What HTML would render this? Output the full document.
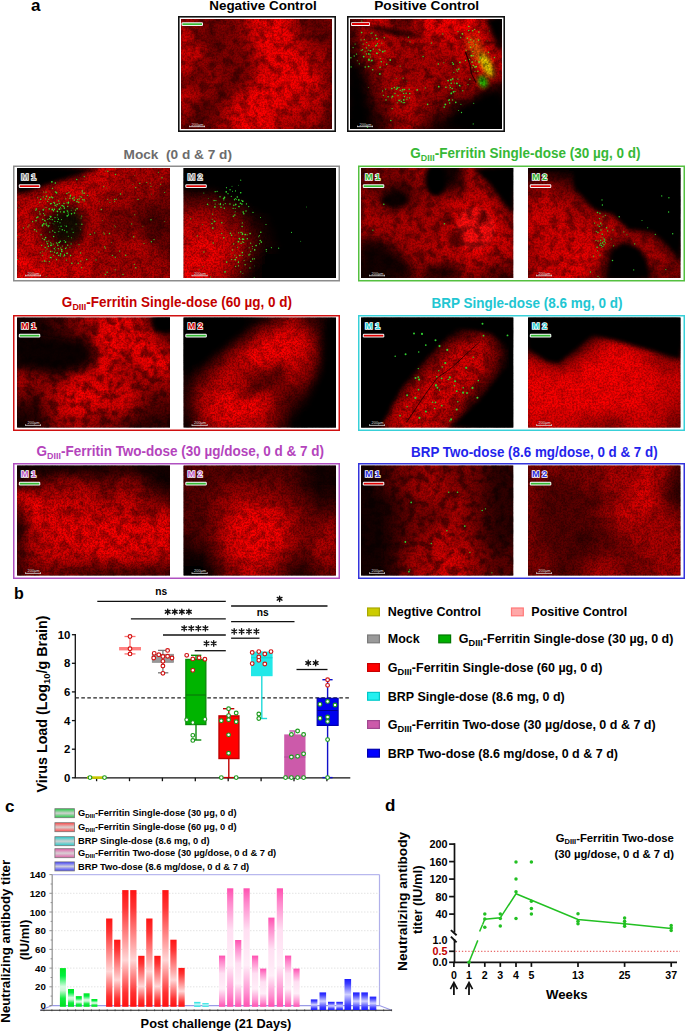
<!DOCTYPE html>
<html><head><meta charset="utf-8"><title>Figure</title>
<style>
html,body{margin:0;padding:0;background:#fff;}
svg{display:block;}
text{font-family:"Liberation Sans", sans-serif;}
</style></head><body>
<svg width="685" height="1032" viewBox="0 0 685 1032">
<defs>
<filter id="bl1" x="-20%" y="-20%" width="140%" height="140%"><feGaussianBlur stdDeviation="0.7"/></filter>
<filter id="bl2" x="-20%" y="-20%" width="140%" height="140%"><feGaussianBlur stdDeviation="2"/></filter>
<filter id="bl4" x="-30%" y="-30%" width="160%" height="160%"><feGaussianBlur stdDeviation="4"/></filter>
<filter id="bl7" x="-40%" y="-40%" width="180%" height="180%"><feGaussianBlur stdDeviation="7"/></filter>
<filter id="bl10" x="-50%" y="-50%" width="200%" height="200%"><feGaussianBlur stdDeviation="10"/></filter>
<filter id="noise" x="0" y="0" width="100%" height="100%">
 <feTurbulence type="fractalNoise" baseFrequency="0.12" numOctaves="4" seed="3" result="n"/>
 <feColorMatrix in="n" type="matrix" values="0 0 0 0 0  0 0 0 0 0  0 0 0 0 0  0 0 0 -3.5 2.0"/>
</filter>
<filter id="noise2" x="0" y="0" width="100%" height="100%">
 <feTurbulence type="fractalNoise" baseFrequency="0.55" numOctaves="2" seed="7" result="n"/>
 <feColorMatrix in="n" type="matrix" values="0 0 0 0 0  0 0 0 0 0  0 0 0 0 0  0 0 0 -3.0 1.9"/>
</filter>
</defs>
<rect x="0" y="0" width="685" height="1032" fill="#fff"/>

<text x="31" y="11" font-size="17" font-weight="bold" fill="#000" text-anchor="start" >a</text>
<text x="14" y="598.5" font-size="16" font-weight="bold" fill="#000" text-anchor="start" >b</text>
<text x="5" y="812" font-size="17" font-weight="bold" fill="#000" text-anchor="start" >c</text>
<text x="385" y="811" font-size="17" font-weight="bold" fill="#000" text-anchor="start" >d</text>
<text x="263" y="10" font-size="13.45" font-weight="bold" fill="#000" text-anchor="middle" >Negative Control</text>
<text x="426.7" y="10" font-size="13.7" font-weight="bold" fill="#000" text-anchor="middle" >Positive Control</text>
<rect x="178.8" y="16.8" width="156.4" height="114.4" fill="#fff" stroke="#111" stroke-width="1.6"/>
<clipPath id="c0"><rect x="181" y="19" width="151" height="110"/></clipPath>
<g clip-path="url(#c0)">
<rect x="181" y="19" width="151" height="110" fill="#200000"/>
<filter id="gb0" x="151" y="-11" width="211" height="170" filterUnits="userSpaceOnUse"><feGaussianBlur stdDeviation="2.3 5.8"/></filter>
<g filter="url(#gb0)">
<linearGradient id="rg0_0" x1="0" y1="0" x2="1" y2="0"><stop offset="0.0417" stop-color="rgb(178,0,0)"/><stop offset="0.1250" stop-color="rgb(132,0,0)"/><stop offset="0.2083" stop-color="rgb(132,0,0)"/><stop offset="0.2917" stop-color="rgb(132,0,0)"/><stop offset="0.3750" stop-color="rgb(132,0,0)"/><stop offset="0.4583" stop-color="rgb(220,0,0)"/><stop offset="0.5417" stop-color="rgb(255,0,0)"/><stop offset="0.6250" stop-color="rgb(255,0,0)"/><stop offset="0.7083" stop-color="rgb(220,0,0)"/><stop offset="0.7917" stop-color="rgb(132,0,0)"/><stop offset="0.8750" stop-color="rgb(90,0,0)"/><stop offset="0.9583" stop-color="rgb(132,0,0)"/></linearGradient>
<rect x="179" y="5.2" width="155" height="27.8" fill="url(#rg0_0)"/>
<linearGradient id="rg0_1" x1="0" y1="0" x2="1" y2="0"><stop offset="0.0417" stop-color="rgb(220,0,0)"/><stop offset="0.1250" stop-color="rgb(132,0,0)"/><stop offset="0.2083" stop-color="rgb(90,0,0)"/><stop offset="0.2917" stop-color="rgb(132,0,0)"/><stop offset="0.3750" stop-color="rgb(132,0,0)"/><stop offset="0.4583" stop-color="rgb(178,0,0)"/><stop offset="0.5417" stop-color="rgb(255,0,0)"/><stop offset="0.6250" stop-color="rgb(255,0,0)"/><stop offset="0.7083" stop-color="rgb(250,0,0)"/><stop offset="0.7917" stop-color="rgb(178,0,0)"/><stop offset="0.8750" stop-color="rgb(132,0,0)"/><stop offset="0.9583" stop-color="rgb(90,0,0)"/></linearGradient>
<rect x="179" y="32.8" width="155" height="14.1" fill="url(#rg0_1)"/>
<linearGradient id="rg0_2" x1="0" y1="0" x2="1" y2="0"><stop offset="0.0417" stop-color="rgb(220,0,0)"/><stop offset="0.1250" stop-color="rgb(220,0,0)"/><stop offset="0.2083" stop-color="rgb(132,0,0)"/><stop offset="0.2917" stop-color="rgb(132,0,0)"/><stop offset="0.3750" stop-color="rgb(132,0,0)"/><stop offset="0.4583" stop-color="rgb(178,0,0)"/><stop offset="0.5417" stop-color="rgb(250,0,0)"/><stop offset="0.6250" stop-color="rgb(255,0,0)"/><stop offset="0.7083" stop-color="rgb(255,0,0)"/><stop offset="0.7917" stop-color="rgb(220,0,0)"/><stop offset="0.8750" stop-color="rgb(178,0,0)"/><stop offset="0.9583" stop-color="rgb(178,0,0)"/></linearGradient>
<rect x="179" y="46.5" width="155" height="14.1" fill="url(#rg0_2)"/>
<linearGradient id="rg0_3" x1="0" y1="0" x2="1" y2="0"><stop offset="0.0417" stop-color="rgb(220,0,0)"/><stop offset="0.1250" stop-color="rgb(132,0,0)"/><stop offset="0.2083" stop-color="rgb(132,0,0)"/><stop offset="0.2917" stop-color="rgb(132,0,0)"/><stop offset="0.3750" stop-color="rgb(132,0,0)"/><stop offset="0.4583" stop-color="rgb(132,0,0)"/><stop offset="0.5417" stop-color="rgb(220,0,0)"/><stop offset="0.6250" stop-color="rgb(255,0,0)"/><stop offset="0.7083" stop-color="rgb(255,0,0)"/><stop offset="0.7917" stop-color="rgb(250,0,0)"/><stop offset="0.8750" stop-color="rgb(220,0,0)"/><stop offset="0.9583" stop-color="rgb(132,0,0)"/></linearGradient>
<rect x="179" y="60.2" width="155" height="14.1" fill="url(#rg0_3)"/>
<linearGradient id="rg0_4" x1="0" y1="0" x2="1" y2="0"><stop offset="0.0417" stop-color="rgb(90,0,0)"/><stop offset="0.1250" stop-color="rgb(132,0,0)"/><stop offset="0.2083" stop-color="rgb(178,0,0)"/><stop offset="0.2917" stop-color="rgb(132,0,0)"/><stop offset="0.3750" stop-color="rgb(90,0,0)"/><stop offset="0.4583" stop-color="rgb(178,0,0)"/><stop offset="0.5417" stop-color="rgb(250,0,0)"/><stop offset="0.6250" stop-color="rgb(255,0,0)"/><stop offset="0.7083" stop-color="rgb(255,0,0)"/><stop offset="0.7917" stop-color="rgb(250,0,0)"/><stop offset="0.8750" stop-color="rgb(250,0,0)"/><stop offset="0.9583" stop-color="rgb(132,0,0)"/></linearGradient>
<rect x="179" y="74.0" width="155" height="14.1" fill="url(#rg0_4)"/>
<linearGradient id="rg0_5" x1="0" y1="0" x2="1" y2="0"><stop offset="0.0417" stop-color="rgb(220,0,0)"/><stop offset="0.1250" stop-color="rgb(178,0,0)"/><stop offset="0.2083" stop-color="rgb(132,0,0)"/><stop offset="0.2917" stop-color="rgb(90,0,0)"/><stop offset="0.3750" stop-color="rgb(178,0,0)"/><stop offset="0.4583" stop-color="rgb(250,0,0)"/><stop offset="0.5417" stop-color="rgb(255,0,0)"/><stop offset="0.6250" stop-color="rgb(255,0,0)"/><stop offset="0.7083" stop-color="rgb(250,0,0)"/><stop offset="0.7917" stop-color="rgb(220,0,0)"/><stop offset="0.8750" stop-color="rgb(220,0,0)"/><stop offset="0.9583" stop-color="rgb(178,0,0)"/></linearGradient>
<rect x="179" y="87.8" width="155" height="14.1" fill="url(#rg0_5)"/>
<linearGradient id="rg0_6" x1="0" y1="0" x2="1" y2="0"><stop offset="0.0417" stop-color="rgb(178,0,0)"/><stop offset="0.1250" stop-color="rgb(90,0,0)"/><stop offset="0.2083" stop-color="rgb(90,0,0)"/><stop offset="0.2917" stop-color="rgb(178,0,0)"/><stop offset="0.3750" stop-color="rgb(250,0,0)"/><stop offset="0.4583" stop-color="rgb(255,0,0)"/><stop offset="0.5417" stop-color="rgb(255,0,0)"/><stop offset="0.6250" stop-color="rgb(250,0,0)"/><stop offset="0.7083" stop-color="rgb(220,0,0)"/><stop offset="0.7917" stop-color="rgb(220,0,0)"/><stop offset="0.8750" stop-color="rgb(220,0,0)"/><stop offset="0.9583" stop-color="rgb(132,0,0)"/></linearGradient>
<rect x="179" y="101.5" width="155" height="14.1" fill="url(#rg0_6)"/>
<linearGradient id="rg0_7" x1="0" y1="0" x2="1" y2="0"><stop offset="0.0417" stop-color="rgb(132,0,0)"/><stop offset="0.1250" stop-color="rgb(90,0,0)"/><stop offset="0.2083" stop-color="rgb(132,0,0)"/><stop offset="0.2917" stop-color="rgb(178,0,0)"/><stop offset="0.3750" stop-color="rgb(250,0,0)"/><stop offset="0.4583" stop-color="rgb(255,0,0)"/><stop offset="0.5417" stop-color="rgb(255,0,0)"/><stop offset="0.6250" stop-color="rgb(220,0,0)"/><stop offset="0.7083" stop-color="rgb(178,0,0)"/><stop offset="0.7917" stop-color="rgb(178,0,0)"/><stop offset="0.8750" stop-color="rgb(178,0,0)"/><stop offset="0.9583" stop-color="rgb(90,0,0)"/></linearGradient>
<rect x="179" y="115.2" width="155" height="27.8" fill="url(#rg0_7)"/>
</g>
<rect x="181" y="19" width="151" height="110" fill="#000" opacity="0.36" filter="url(#noise)"/>
<rect x="181" y="19" width="151" height="110" fill="#000" opacity="0.25" filter="url(#noise2)"/>
</g>
<rect x="181.5" y="22.3" width="21.5" height="3.7" rx="1.2" fill="#f4f4f4"/>
<rect x="182.5" y="23.3" width="19.5" height="1.7" fill="#33bb33"/>
<text x="191.6" y="125.7" font-size="3.9" fill="#ddd">200µm</text>
<rect x="189.2" y="126.3" width="15.8" height="0.8" fill="#ddd"/>
<rect x="189.2" y="125.5" width="0.6" height="1.6" fill="#ddd"/><rect x="204.4" y="125.5" width="0.6" height="1.6" fill="#ddd"/>
<rect x="347.8" y="16.8" width="156.4" height="114.4" fill="#fff" stroke="#111" stroke-width="1.6"/>
<clipPath id="c1"><rect x="350" y="19" width="152" height="110"/></clipPath>
<g clip-path="url(#c1)">
<rect x="350" y="19" width="152" height="110" fill="#050000"/>
<filter id="gb1" x="320" y="-11" width="212" height="170" filterUnits="userSpaceOnUse"><feGaussianBlur stdDeviation="2.3 5.8"/></filter>
<g filter="url(#gb1)">
<linearGradient id="rg1_0" x1="0" y1="0" x2="1" y2="0"><stop offset="0.0417" stop-color="rgb(90,0,0)"/><stop offset="0.1250" stop-color="rgb(178,0,0)"/><stop offset="0.2083" stop-color="rgb(220,0,0)"/><stop offset="0.2917" stop-color="rgb(132,0,0)"/><stop offset="0.3750" stop-color="rgb(90,0,0)"/><stop offset="0.4583" stop-color="rgb(220,0,0)"/><stop offset="0.5417" stop-color="rgb(250,0,0)"/><stop offset="0.6250" stop-color="rgb(250,0,0)"/><stop offset="0.7083" stop-color="rgb(250,0,0)"/><stop offset="0.7917" stop-color="rgb(250,0,0)"/><stop offset="0.8750" stop-color="rgb(178,0,0)"/><stop offset="0.9583" stop-color="rgb(20,0,0)"/></linearGradient>
<rect x="348" y="5.2" width="156" height="27.8" fill="url(#rg1_0)"/>
<linearGradient id="rg1_1" x1="0" y1="0" x2="1" y2="0"><stop offset="0.0417" stop-color="rgb(90,0,0)"/><stop offset="0.1250" stop-color="rgb(220,0,0)"/><stop offset="0.2083" stop-color="rgb(220,0,0)"/><stop offset="0.2917" stop-color="rgb(178,0,0)"/><stop offset="0.3750" stop-color="rgb(178,0,0)"/><stop offset="0.4583" stop-color="rgb(220,0,0)"/><stop offset="0.5417" stop-color="rgb(220,0,0)"/><stop offset="0.6250" stop-color="rgb(220,0,0)"/><stop offset="0.7083" stop-color="rgb(220,0,0)"/><stop offset="0.7917" stop-color="rgb(250,0,0)"/><stop offset="0.8750" stop-color="rgb(220,0,0)"/><stop offset="0.9583" stop-color="rgb(50,0,0)"/></linearGradient>
<rect x="348" y="32.8" width="156" height="14.1" fill="url(#rg1_1)"/>
<linearGradient id="rg1_2" x1="0" y1="0" x2="1" y2="0"><stop offset="0.0417" stop-color="rgb(50,0,0)"/><stop offset="0.1250" stop-color="rgb(178,0,0)"/><stop offset="0.2083" stop-color="rgb(220,0,0)"/><stop offset="0.2917" stop-color="rgb(178,0,0)"/><stop offset="0.3750" stop-color="rgb(178,0,0)"/><stop offset="0.4583" stop-color="rgb(178,0,0)"/><stop offset="0.5417" stop-color="rgb(178,0,0)"/><stop offset="0.6250" stop-color="rgb(178,0,0)"/><stop offset="0.7083" stop-color="rgb(220,0,0)"/><stop offset="0.7917" stop-color="rgb(220,0,0)"/><stop offset="0.8750" stop-color="rgb(250,0,0)"/><stop offset="0.9583" stop-color="rgb(178,0,0)"/></linearGradient>
<rect x="348" y="46.5" width="156" height="14.1" fill="url(#rg1_2)"/>
<linearGradient id="rg1_3" x1="0" y1="0" x2="1" y2="0"><stop offset="0.0417" stop-color="rgb(20,0,0)"/><stop offset="0.1250" stop-color="rgb(90,0,0)"/><stop offset="0.2083" stop-color="rgb(178,0,0)"/><stop offset="0.2917" stop-color="rgb(178,0,0)"/><stop offset="0.3750" stop-color="rgb(178,0,0)"/><stop offset="0.4583" stop-color="rgb(178,0,0)"/><stop offset="0.5417" stop-color="rgb(178,0,0)"/><stop offset="0.6250" stop-color="rgb(178,0,0)"/><stop offset="0.7083" stop-color="rgb(178,0,0)"/><stop offset="0.7917" stop-color="rgb(178,0,0)"/><stop offset="0.8750" stop-color="rgb(250,0,0)"/><stop offset="0.9583" stop-color="rgb(220,0,0)"/></linearGradient>
<rect x="348" y="60.2" width="156" height="14.1" fill="url(#rg1_3)"/>
<linearGradient id="rg1_4" x1="0" y1="0" x2="1" y2="0"><stop offset="0.0417" stop-color="rgb(20,0,0)"/><stop offset="0.1250" stop-color="rgb(50,0,0)"/><stop offset="0.2083" stop-color="rgb(178,0,0)"/><stop offset="0.2917" stop-color="rgb(178,0,0)"/><stop offset="0.3750" stop-color="rgb(178,0,0)"/><stop offset="0.4583" stop-color="rgb(178,0,0)"/><stop offset="0.5417" stop-color="rgb(178,0,0)"/><stop offset="0.6250" stop-color="rgb(178,0,0)"/><stop offset="0.7083" stop-color="rgb(178,0,0)"/><stop offset="0.7917" stop-color="rgb(178,0,0)"/><stop offset="0.8750" stop-color="rgb(178,0,0)"/><stop offset="0.9583" stop-color="rgb(90,0,0)"/></linearGradient>
<rect x="348" y="74.0" width="156" height="14.1" fill="url(#rg1_4)"/>
<linearGradient id="rg1_5" x1="0" y1="0" x2="1" y2="0"><stop offset="0.0417" stop-color="rgb(20,0,0)"/><stop offset="0.1250" stop-color="rgb(50,0,0)"/><stop offset="0.2083" stop-color="rgb(132,0,0)"/><stop offset="0.2917" stop-color="rgb(178,0,0)"/><stop offset="0.3750" stop-color="rgb(220,0,0)"/><stop offset="0.4583" stop-color="rgb(178,0,0)"/><stop offset="0.5417" stop-color="rgb(178,0,0)"/><stop offset="0.6250" stop-color="rgb(132,0,0)"/><stop offset="0.7083" stop-color="rgb(132,0,0)"/><stop offset="0.7917" stop-color="rgb(132,0,0)"/><stop offset="0.8750" stop-color="rgb(50,0,0)"/><stop offset="0.9583" stop-color="rgb(20,0,0)"/></linearGradient>
<rect x="348" y="87.8" width="156" height="14.1" fill="url(#rg1_5)"/>
<linearGradient id="rg1_6" x1="0" y1="0" x2="1" y2="0"><stop offset="0.0417" stop-color="rgb(20,0,0)"/><stop offset="0.1250" stop-color="rgb(20,0,0)"/><stop offset="0.2083" stop-color="rgb(90,0,0)"/><stop offset="0.2917" stop-color="rgb(178,0,0)"/><stop offset="0.3750" stop-color="rgb(220,0,0)"/><stop offset="0.4583" stop-color="rgb(178,0,0)"/><stop offset="0.5417" stop-color="rgb(132,0,0)"/><stop offset="0.6250" stop-color="rgb(90,0,0)"/><stop offset="0.7083" stop-color="rgb(50,0,0)"/><stop offset="0.7917" stop-color="rgb(20,0,0)"/><stop offset="0.8750" stop-color="rgb(20,0,0)"/><stop offset="0.9583" stop-color="rgb(0,0,0)"/></linearGradient>
<rect x="348" y="101.5" width="156" height="14.1" fill="url(#rg1_6)"/>
<linearGradient id="rg1_7" x1="0" y1="0" x2="1" y2="0"><stop offset="0.0417" stop-color="rgb(0,0,0)"/><stop offset="0.1250" stop-color="rgb(20,0,0)"/><stop offset="0.2083" stop-color="rgb(50,0,0)"/><stop offset="0.2917" stop-color="rgb(132,0,0)"/><stop offset="0.3750" stop-color="rgb(178,0,0)"/><stop offset="0.4583" stop-color="rgb(132,0,0)"/><stop offset="0.5417" stop-color="rgb(50,0,0)"/><stop offset="0.6250" stop-color="rgb(20,0,0)"/><stop offset="0.7083" stop-color="rgb(20,0,0)"/><stop offset="0.7917" stop-color="rgb(0,0,0)"/><stop offset="0.8750" stop-color="rgb(0,0,0)"/><stop offset="0.9583" stop-color="rgb(0,0,0)"/></linearGradient>
<rect x="348" y="115.2" width="156" height="27.8" fill="url(#rg1_7)"/>
</g>
<ellipse cx="476.2" cy="49.8" rx="6.1" ry="14.3" fill="#e06000" filter="url(#bl4)" transform="rotate(-25 476.2 49.8)"/>
<ellipse cx="486.8" cy="65.2" rx="5.3" ry="13.2" fill="#e8d000" filter="url(#bl2)" transform="rotate(-25 486.8 65.2)"/>
<ellipse cx="483.0" cy="81.7" rx="4.3" ry="6.6" fill="#20d800" filter="url(#bl2)" transform="rotate(-25 483.0 81.7)"/>
<polyline points="465.5,52.0 470.1,65.2 471.6,74.0 476.2,82.8" fill="none" stroke="#300000" stroke-width="1.1" filter="url(#bl1)"/>
<ellipse cx="395.6" cy="32.2" rx="30.4" ry="2.8" fill="#200000" filter="url(#bl2)" transform="rotate(10 395.6 32.2)"/>
<polygon points="350.0,57.5 362.2,79.5 368.2,129.0 350.0,129.0" fill="#000" filter="url(#bl4)"/>
<polygon points="444.2,129.0 459.4,107.0 486.8,91.6 502.0,88.3 502.0,129.0" fill="#000" filter="url(#bl4)"/>
<polygon points="486.8,19.0 502.0,19.0 502.0,52.0" fill="#000" filter="url(#bl2)"/>
<rect x="350" y="19" width="152" height="110" fill="#000" opacity="0.4" filter="url(#noise)"/>
<rect x="350" y="19" width="152" height="110" fill="#000" opacity="0.25" filter="url(#noise2)"/>
<circle cx="368.2" cy="50.1" r="0.61" fill="#30e030"/>
<circle cx="372.7" cy="69.7" r="0.77" fill="#30e030"/>
<circle cx="373.3" cy="49.1" r="0.67" fill="#30e030"/>
<circle cx="377.1" cy="53.4" r="0.7" fill="#30e030"/>
<circle cx="376.7" cy="53.2" r="0.76" fill="#30e030"/>
<circle cx="362.5" cy="49.8" r="0.74" fill="#30e030"/>
<circle cx="370.2" cy="50.8" r="0.82" fill="#30e030"/>
<circle cx="366.7" cy="42.5" r="0.56" fill="#30e030"/>
<circle cx="379.1" cy="49.4" r="0.54" fill="#30e030"/>
<circle cx="386.7" cy="64.2" r="0.74" fill="#30e030"/>
<circle cx="375.8" cy="35.3" r="0.71" fill="#30e030"/>
<circle cx="380.0" cy="50.2" r="0.72" fill="#30e030"/>
<circle cx="376.8" cy="38.6" r="0.84" fill="#30e030"/>
<circle cx="355.1" cy="44.0" r="0.52" fill="#30e030"/>
<circle cx="371.0" cy="61.0" r="0.53" fill="#30e030"/>
<circle cx="370.3" cy="57.0" r="0.61" fill="#30e030"/>
<circle cx="363.1" cy="44.1" r="0.65" fill="#30e030"/>
<circle cx="371.9" cy="60.4" r="0.87" fill="#30e030"/>
<circle cx="361.0" cy="39.9" r="0.57" fill="#30e030"/>
<circle cx="368.9" cy="45.5" r="0.65" fill="#30e030"/>
<circle cx="384.9" cy="51.0" r="0.72" fill="#30e030"/>
<circle cx="361.6" cy="32.6" r="0.81" fill="#30e030"/>
<circle cx="370.1" cy="54.8" r="0.63" fill="#30e030"/>
<circle cx="368.9" cy="59.5" r="0.88" fill="#30e030"/>
<circle cx="376.4" cy="45.3" r="0.76" fill="#30e030"/>
<circle cx="351.1" cy="66.9" r="0.68" fill="#30e030"/>
<circle cx="369.0" cy="60.2" r="0.72" fill="#30e030"/>
<circle cx="368.6" cy="66.5" r="0.86" fill="#30e030"/>
<circle cx="363.7" cy="56.6" r="0.9" fill="#30e030"/>
<circle cx="365.1" cy="51.7" r="0.52" fill="#30e030"/>
<circle cx="381.3" cy="61.8" r="0.82" fill="#30e030"/>
<circle cx="366.4" cy="53.9" r="0.65" fill="#30e030"/>
<circle cx="382.8" cy="51.7" r="0.89" fill="#30e030"/>
<circle cx="370.8" cy="50.7" r="0.79" fill="#30e030"/>
<circle cx="364.3" cy="39.6" r="0.61" fill="#30e030"/>
<circle cx="366.5" cy="47.9" r="0.67" fill="#30e030"/>
<circle cx="375.7" cy="46.0" r="0.7" fill="#30e030"/>
<circle cx="379.9" cy="73.9" r="0.85" fill="#30e030"/>
<circle cx="365.2" cy="67.0" r="0.74" fill="#30e030"/>
<circle cx="380.1" cy="67.3" r="0.72" fill="#30e030"/>
<circle cx="372.1" cy="38.7" r="0.5" fill="#30e030"/>
<circle cx="368.8" cy="53.9" r="0.87" fill="#30e030"/>
<circle cx="384.3" cy="37.7" r="0.62" fill="#30e030"/>
<circle cx="390.2" cy="60.0" r="0.88" fill="#30e030"/>
<circle cx="380.3" cy="58.5" r="0.53" fill="#30e030"/>
<circle cx="371.0" cy="33.3" r="0.55" fill="#30e030"/>
<circle cx="356.5" cy="54.1" r="0.61" fill="#30e030"/>
<circle cx="377.5" cy="43.7" r="0.58" fill="#30e030"/>
<circle cx="353.1" cy="47.6" r="0.58" fill="#30e030"/>
<circle cx="390.8" cy="120.4" r="0.76" fill="#30e030"/>
<circle cx="391.7" cy="97.8" r="0.55" fill="#30e030"/>
<circle cx="401.3" cy="101.7" r="0.74" fill="#30e030"/>
<circle cx="400.8" cy="100.0" r="0.53" fill="#30e030"/>
<circle cx="396.4" cy="89.1" r="0.86" fill="#30e030"/>
<circle cx="402.0" cy="91.2" r="0.6" fill="#30e030"/>
<circle cx="397.6" cy="88.5" r="0.55" fill="#30e030"/>
<circle cx="409.2" cy="89.3" r="0.69" fill="#30e030"/>
<circle cx="403.1" cy="78.2" r="0.58" fill="#30e030"/>
<circle cx="406.8" cy="99.1" r="0.67" fill="#30e030"/>
<circle cx="388.1" cy="96.7" r="0.77" fill="#30e030"/>
<circle cx="403.6" cy="93.4" r="0.66" fill="#30e030"/>
<circle cx="392.1" cy="108.6" r="0.6" fill="#30e030"/>
<circle cx="403.2" cy="102.7" r="0.67" fill="#30e030"/>
<circle cx="399.1" cy="100.4" r="0.87" fill="#30e030"/>
<circle cx="386.0" cy="99.9" r="0.72" fill="#30e030"/>
<circle cx="427.6" cy="104.3" r="0.83" fill="#30e030"/>
<circle cx="417.2" cy="89.9" r="0.84" fill="#30e030"/>
<circle cx="404.6" cy="102.6" r="0.59" fill="#30e030"/>
<circle cx="398.0" cy="95.6" r="0.65" fill="#30e030"/>
<circle cx="406.1" cy="93.2" r="0.81" fill="#30e030"/>
<circle cx="392.5" cy="96.4" r="0.88" fill="#30e030"/>
<circle cx="409.8" cy="93.5" r="0.79" fill="#30e030"/>
<circle cx="403.8" cy="99.9" r="0.89" fill="#30e030"/>
<circle cx="391.8" cy="88.6" r="0.8" fill="#30e030"/>
<circle cx="409.6" cy="97.9" r="0.7" fill="#30e030"/>
<circle cx="402.8" cy="89.7" r="0.88" fill="#30e030"/>
<circle cx="404.4" cy="96.5" r="0.74" fill="#30e030"/>
<circle cx="397.6" cy="88.1" r="0.55" fill="#30e030"/>
<circle cx="404.6" cy="89.6" r="0.74" fill="#30e030"/>
<circle cx="394.4" cy="87.5" r="0.73" fill="#30e030"/>
<circle cx="382.6" cy="90.9" r="0.58" fill="#30e030"/>
<circle cx="399.0" cy="87.4" r="0.66" fill="#30e030"/>
<circle cx="397.1" cy="87.2" r="0.63" fill="#30e030"/>
<circle cx="400.2" cy="90.4" r="0.68" fill="#30e030"/>
<circle cx="468.0" cy="84.6" r="0.53" fill="#30e030"/>
<circle cx="451.3" cy="93.4" r="0.87" fill="#30e030"/>
<circle cx="458.3" cy="69.6" r="0.65" fill="#30e030"/>
<circle cx="455.8" cy="102.4" r="0.78" fill="#30e030"/>
<circle cx="438.3" cy="64.0" r="0.76" fill="#30e030"/>
<circle cx="460.1" cy="86.0" r="0.62" fill="#30e030"/>
<circle cx="443.8" cy="62.7" r="0.55" fill="#30e030"/>
<circle cx="452.2" cy="88.5" r="0.72" fill="#30e030"/>
<circle cx="449.3" cy="99.8" r="0.79" fill="#30e030"/>
<circle cx="452.5" cy="99.9" r="0.61" fill="#30e030"/>
<circle cx="438.8" cy="86.7" r="0.84" fill="#30e030"/>
<circle cx="455.0" cy="91.3" r="0.61" fill="#30e030"/>
<circle cx="459.5" cy="85.4" r="0.75" fill="#30e030"/>
<circle cx="449.7" cy="103.0" r="0.72" fill="#30e030"/>
<circle cx="449.7" cy="85.7" r="0.53" fill="#30e030"/>
<circle cx="458.9" cy="69.0" r="0.72" fill="#30e030"/>
<circle cx="453.9" cy="72.5" r="0.56" fill="#30e030"/>
<circle cx="453.5" cy="91.8" r="0.86" fill="#30e030"/>
<circle cx="453.3" cy="64.1" r="0.86" fill="#30e030"/>
<circle cx="451.3" cy="93.1" r="0.54" fill="#30e030"/>
<circle cx="452.4" cy="62.6" r="0.66" fill="#30e030"/>
<circle cx="448.1" cy="80.6" r="0.87" fill="#30e030"/>
<circle cx="459.9" cy="62.4" r="0.82" fill="#30e030"/>
<circle cx="451.2" cy="83.3" r="0.79" fill="#30e030"/>
<circle cx="444.2" cy="107.1" r="0.82" fill="#30e030"/>
<circle cx="456.7" cy="69.9" r="0.61" fill="#30e030"/>
<circle cx="450.9" cy="79.9" r="0.85" fill="#30e030"/>
<circle cx="452.7" cy="78.9" r="0.83" fill="#30e030"/>
<circle cx="445.9" cy="87.3" r="0.82" fill="#30e030"/>
<circle cx="450.5" cy="87.4" r="0.58" fill="#30e030"/>
<circle cx="445.3" cy="104.4" r="0.89" fill="#30e030"/>
<circle cx="448.9" cy="100.5" r="0.66" fill="#30e030"/>
<circle cx="456.9" cy="83.4" r="0.88" fill="#30e030"/>
<circle cx="460.9" cy="104.3" r="0.57" fill="#30e030"/>
<circle cx="454.4" cy="83.0" r="0.54" fill="#30e030"/>
<circle cx="465.6" cy="60.5" r="0.63" fill="#60e020"/>
<circle cx="468.9" cy="42.2" r="0.65" fill="#60e020"/>
<circle cx="470.5" cy="47.3" r="0.78" fill="#60e020"/>
<circle cx="488.5" cy="52.3" r="0.72" fill="#60e020"/>
<circle cx="472.7" cy="30.7" r="0.77" fill="#60e020"/>
<circle cx="473.1" cy="55.8" r="0.77" fill="#60e020"/>
<circle cx="472.1" cy="62.0" r="0.84" fill="#60e020"/>
<circle cx="473.7" cy="41.0" r="0.62" fill="#60e020"/>
<circle cx="469.5" cy="59.3" r="0.62" fill="#60e020"/>
<circle cx="479.1" cy="61.9" r="0.88" fill="#60e020"/>
<circle cx="468.9" cy="26.4" r="0.75" fill="#60e020"/>
<circle cx="472.2" cy="67.8" r="0.5" fill="#60e020"/>
<circle cx="473.2" cy="65.6" r="0.73" fill="#60e020"/>
<circle cx="470.8" cy="39.8" r="0.68" fill="#60e020"/>
<circle cx="476.2" cy="66.6" r="0.86" fill="#60e020"/>
<circle cx="475.7" cy="44.3" r="0.53" fill="#60e020"/>
<circle cx="466.1" cy="50.2" r="0.63" fill="#60e020"/>
<circle cx="478.9" cy="32.0" r="0.77" fill="#60e020"/>
<circle cx="475.3" cy="60.7" r="0.51" fill="#60e020"/>
<circle cx="474.9" cy="67.0" r="0.84" fill="#60e020"/>
<circle cx="480.3" cy="58.0" r="0.75" fill="#60e020"/>
<circle cx="477.9" cy="71.2" r="0.7" fill="#60e020"/>
<circle cx="475.0" cy="71.3" r="0.5" fill="#60e020"/>
<circle cx="474.7" cy="29.4" r="0.54" fill="#60e020"/>
<circle cx="471.3" cy="55.7" r="0.88" fill="#60e020"/>
<circle cx="472.7" cy="51.5" r="0.6" fill="#60e020"/>
<circle cx="478.5" cy="40.1" r="0.82" fill="#60e020"/>
<circle cx="462.4" cy="33.8" r="0.86" fill="#60e020"/>
<circle cx="467.3" cy="38.3" r="0.7" fill="#60e020"/>
<circle cx="469.9" cy="79.3" r="0.72" fill="#30d030"/>
<circle cx="457.4" cy="71.2" r="0.53" fill="#30d030"/>
<circle cx="385.7" cy="89.1" r="0.68" fill="#30d030"/>
<circle cx="425.3" cy="87.9" r="0.53" fill="#30d030"/>
<circle cx="361.2" cy="50.4" r="0.53" fill="#30d030"/>
<circle cx="396.2" cy="78.4" r="0.49" fill="#30d030"/>
<circle cx="383.4" cy="95.3" r="0.66" fill="#30d030"/>
<circle cx="359.3" cy="63.8" r="0.61" fill="#30d030"/>
<circle cx="410.0" cy="41.8" r="0.58" fill="#30d030"/>
<circle cx="480.7" cy="83.2" r="0.66" fill="#30d030"/>
<circle cx="473.7" cy="103.2" r="0.56" fill="#30d030"/>
<circle cx="350.9" cy="57.7" r="0.68" fill="#30d030"/>
<circle cx="473.2" cy="123.9" r="0.58" fill="#30d030"/>
<circle cx="457.9" cy="79.1" r="0.63" fill="#30d030"/>
<circle cx="381.8" cy="43.1" r="0.58" fill="#30d030"/>
<circle cx="354.2" cy="56.0" r="0.65" fill="#30d030"/>
<circle cx="408.4" cy="37.2" r="0.59" fill="#30d030"/>
<circle cx="368.4" cy="87.4" r="0.46" fill="#30d030"/>
<circle cx="406.9" cy="81.1" r="0.46" fill="#30d030"/>
<circle cx="442.8" cy="33.9" r="0.59" fill="#30d030"/>
<circle cx="357.3" cy="60.7" r="0.51" fill="#30d030"/>
<circle cx="397.2" cy="102.7" r="0.56" fill="#30d030"/>
<circle cx="458.6" cy="110.5" r="0.53" fill="#30d030"/>
<circle cx="361.8" cy="21.1" r="0.61" fill="#30d030"/>
<circle cx="494.4" cy="57.5" r="0.65" fill="#30d030"/>
<circle cx="462.8" cy="90.7" r="0.68" fill="#30d030"/>
<circle cx="487.1" cy="40.9" r="0.46" fill="#30d030"/>
<circle cx="372.0" cy="32.9" r="0.65" fill="#30d030"/>
<circle cx="431.4" cy="43.0" r="0.66" fill="#30d030"/>
<circle cx="460.7" cy="37.5" r="0.63" fill="#30d030"/>
<circle cx="458.0" cy="31.6" r="0.7" fill="#30d030"/>
<circle cx="489.3" cy="30.9" r="0.46" fill="#30d030"/>
<circle cx="395.0" cy="93.5" r="0.74" fill="#30d030"/>
<circle cx="407.3" cy="97.7" r="0.47" fill="#30d030"/>
<circle cx="449.7" cy="88.0" r="0.48" fill="#30d030"/>
<circle cx="461.5" cy="112.5" r="0.63" fill="#30d030"/>
<circle cx="367.5" cy="127.2" r="0.68" fill="#30d030"/>
<circle cx="400.1" cy="66.1" r="0.56" fill="#30d030"/>
<circle cx="423.1" cy="56.5" r="0.7" fill="#30d030"/>
<circle cx="468.7" cy="30.6" r="0.74" fill="#30d030"/>
</g>
<rect x="351" y="22.3" width="19" height="3.6" rx="1" fill="#fff"/><rect x="351.8" y="23" width="17.4" height="2" fill="#e00000"/>
<text x="359.6" y="125.7" font-size="3.9" fill="#ddd">200µm</text>
<rect x="357.2" y="126.3" width="15.8" height="0.8" fill="#ddd"/>
<rect x="357.2" y="125.5" width="0.6" height="1.6" fill="#ddd"/><rect x="372.4" y="125.5" width="0.6" height="1.6" fill="#ddd"/>
<rect x="13.75" y="166.25" width="325.5" height="114.5" fill="#fff" stroke="#8c8c8c" stroke-width="1.5"/>
<clipPath id="c2"><rect x="17" y="168.1" width="153" height="110"/></clipPath>
<g clip-path="url(#c2)">
<rect x="17" y="168.1" width="153" height="110" fill="#100000"/>
<filter id="gb2" x="-13" y="138.1" width="213" height="170" filterUnits="userSpaceOnUse"><feGaussianBlur stdDeviation="2.3 5.8"/></filter>
<g filter="url(#gb2)">
<linearGradient id="rg2_0" x1="0" y1="0" x2="1" y2="0"><stop offset="0.0417" stop-color="rgb(0,0,0)"/><stop offset="0.1250" stop-color="rgb(0,0,0)"/><stop offset="0.2083" stop-color="rgb(0,0,0)"/><stop offset="0.2917" stop-color="rgb(20,0,0)"/><stop offset="0.3750" stop-color="rgb(90,0,0)"/><stop offset="0.4583" stop-color="rgb(178,0,0)"/><stop offset="0.5417" stop-color="rgb(220,0,0)"/><stop offset="0.6250" stop-color="rgb(220,0,0)"/><stop offset="0.7083" stop-color="rgb(178,0,0)"/><stop offset="0.7917" stop-color="rgb(178,0,0)"/><stop offset="0.8750" stop-color="rgb(178,0,0)"/><stop offset="0.9583" stop-color="rgb(178,0,0)"/></linearGradient>
<rect x="15" y="154.3" width="157" height="27.8" fill="url(#rg2_0)"/>
<linearGradient id="rg2_1" x1="0" y1="0" x2="1" y2="0"><stop offset="0.0417" stop-color="rgb(90,0,0)"/><stop offset="0.1250" stop-color="rgb(90,0,0)"/><stop offset="0.2083" stop-color="rgb(178,0,0)"/><stop offset="0.2917" stop-color="rgb(220,0,0)"/><stop offset="0.3750" stop-color="rgb(250,0,0)"/><stop offset="0.4583" stop-color="rgb(220,0,0)"/><stop offset="0.5417" stop-color="rgb(220,0,0)"/><stop offset="0.6250" stop-color="rgb(178,0,0)"/><stop offset="0.7083" stop-color="rgb(178,0,0)"/><stop offset="0.7917" stop-color="rgb(178,0,0)"/><stop offset="0.8750" stop-color="rgb(178,0,0)"/><stop offset="0.9583" stop-color="rgb(132,0,0)"/></linearGradient>
<rect x="15" y="181.8" width="157" height="14.1" fill="url(#rg2_1)"/>
<linearGradient id="rg2_2" x1="0" y1="0" x2="1" y2="0"><stop offset="0.0417" stop-color="rgb(220,0,0)"/><stop offset="0.1250" stop-color="rgb(220,0,0)"/><stop offset="0.2083" stop-color="rgb(220,0,0)"/><stop offset="0.2917" stop-color="rgb(178,0,0)"/><stop offset="0.3750" stop-color="rgb(178,0,0)"/><stop offset="0.4583" stop-color="rgb(220,0,0)"/><stop offset="0.5417" stop-color="rgb(178,0,0)"/><stop offset="0.6250" stop-color="rgb(178,0,0)"/><stop offset="0.7083" stop-color="rgb(178,0,0)"/><stop offset="0.7917" stop-color="rgb(132,0,0)"/><stop offset="0.8750" stop-color="rgb(178,0,0)"/><stop offset="0.9583" stop-color="rgb(132,0,0)"/></linearGradient>
<rect x="15" y="195.6" width="157" height="14.1" fill="url(#rg2_2)"/>
<linearGradient id="rg2_3" x1="0" y1="0" x2="1" y2="0"><stop offset="0.0417" stop-color="rgb(220,0,0)"/><stop offset="0.1250" stop-color="rgb(178,0,0)"/><stop offset="0.2083" stop-color="rgb(90,0,0)"/><stop offset="0.2917" stop-color="rgb(50,0,0)"/><stop offset="0.3750" stop-color="rgb(90,0,0)"/><stop offset="0.4583" stop-color="rgb(178,0,0)"/><stop offset="0.5417" stop-color="rgb(178,0,0)"/><stop offset="0.6250" stop-color="rgb(132,0,0)"/><stop offset="0.7083" stop-color="rgb(132,0,0)"/><stop offset="0.7917" stop-color="rgb(132,0,0)"/><stop offset="0.8750" stop-color="rgb(178,0,0)"/><stop offset="0.9583" stop-color="rgb(132,0,0)"/></linearGradient>
<rect x="15" y="209.3" width="157" height="14.1" fill="url(#rg2_3)"/>
<linearGradient id="rg2_4" x1="0" y1="0" x2="1" y2="0"><stop offset="0.0417" stop-color="rgb(220,0,0)"/><stop offset="0.1250" stop-color="rgb(178,0,0)"/><stop offset="0.2083" stop-color="rgb(90,0,0)"/><stop offset="0.2917" stop-color="rgb(50,0,0)"/><stop offset="0.3750" stop-color="rgb(90,0,0)"/><stop offset="0.4583" stop-color="rgb(178,0,0)"/><stop offset="0.5417" stop-color="rgb(178,0,0)"/><stop offset="0.6250" stop-color="rgb(132,0,0)"/><stop offset="0.7083" stop-color="rgb(132,0,0)"/><stop offset="0.7917" stop-color="rgb(178,0,0)"/><stop offset="0.8750" stop-color="rgb(178,0,0)"/><stop offset="0.9583" stop-color="rgb(132,0,0)"/></linearGradient>
<rect x="15" y="223.1" width="157" height="14.1" fill="url(#rg2_4)"/>
<linearGradient id="rg2_5" x1="0" y1="0" x2="1" y2="0"><stop offset="0.0417" stop-color="rgb(220,0,0)"/><stop offset="0.1250" stop-color="rgb(220,0,0)"/><stop offset="0.2083" stop-color="rgb(132,0,0)"/><stop offset="0.2917" stop-color="rgb(90,0,0)"/><stop offset="0.3750" stop-color="rgb(132,0,0)"/><stop offset="0.4583" stop-color="rgb(178,0,0)"/><stop offset="0.5417" stop-color="rgb(178,0,0)"/><stop offset="0.6250" stop-color="rgb(178,0,0)"/><stop offset="0.7083" stop-color="rgb(178,0,0)"/><stop offset="0.7917" stop-color="rgb(220,0,0)"/><stop offset="0.8750" stop-color="rgb(178,0,0)"/><stop offset="0.9583" stop-color="rgb(132,0,0)"/></linearGradient>
<rect x="15" y="236.8" width="157" height="14.1" fill="url(#rg2_5)"/>
<linearGradient id="rg2_6" x1="0" y1="0" x2="1" y2="0"><stop offset="0.0417" stop-color="rgb(250,0,0)"/><stop offset="0.1250" stop-color="rgb(220,0,0)"/><stop offset="0.2083" stop-color="rgb(220,0,0)"/><stop offset="0.2917" stop-color="rgb(178,0,0)"/><stop offset="0.3750" stop-color="rgb(220,0,0)"/><stop offset="0.4583" stop-color="rgb(220,0,0)"/><stop offset="0.5417" stop-color="rgb(178,0,0)"/><stop offset="0.6250" stop-color="rgb(178,0,0)"/><stop offset="0.7083" stop-color="rgb(178,0,0)"/><stop offset="0.7917" stop-color="rgb(178,0,0)"/><stop offset="0.8750" stop-color="rgb(178,0,0)"/><stop offset="0.9583" stop-color="rgb(132,0,0)"/></linearGradient>
<rect x="15" y="250.6" width="157" height="14.1" fill="url(#rg2_6)"/>
<linearGradient id="rg2_7" x1="0" y1="0" x2="1" y2="0"><stop offset="0.0417" stop-color="rgb(250,0,0)"/><stop offset="0.1250" stop-color="rgb(250,0,0)"/><stop offset="0.2083" stop-color="rgb(220,0,0)"/><stop offset="0.2917" stop-color="rgb(220,0,0)"/><stop offset="0.3750" stop-color="rgb(220,0,0)"/><stop offset="0.4583" stop-color="rgb(220,0,0)"/><stop offset="0.5417" stop-color="rgb(178,0,0)"/><stop offset="0.6250" stop-color="rgb(178,0,0)"/><stop offset="0.7083" stop-color="rgb(178,0,0)"/><stop offset="0.7917" stop-color="rgb(178,0,0)"/><stop offset="0.8750" stop-color="rgb(178,0,0)"/><stop offset="0.9583" stop-color="rgb(178,0,0)"/></linearGradient>
<rect x="15" y="264.4" width="157" height="27.8" fill="url(#rg2_7)"/>
</g>
<polygon points="17.0,168.1 101.2,168.1 70.5,176.9 17.0,194.5" fill="#000" filter="url(#bl2)"/>
<ellipse cx="67.5" cy="225.3" rx="15.3" ry="18.7" fill="#140800" filter="url(#bl4)" transform="rotate(0 67.5 225.3)"/>
<ellipse cx="154.7" cy="223.1" rx="15.3" ry="22.0" fill="#500000" filter="url(#bl7)" transform="rotate(0 154.7 223.1)"/>
<rect x="17" y="168.1" width="153" height="110" fill="#000" opacity="0.25" filter="url(#noise)"/>
<rect x="17" y="168.1" width="153" height="110" fill="#000" opacity="0.30" filter="url(#noise2)"/>
<circle cx="45.7" cy="198.9" r="0.62" fill="#30e830"/>
<circle cx="59.4" cy="209.2" r="0.84" fill="#30e830"/>
<circle cx="45.2" cy="247.5" r="0.64" fill="#30e830"/>
<circle cx="48.9" cy="225.8" r="0.74" fill="#30e830"/>
<circle cx="42.2" cy="251.7" r="0.48" fill="#30e830"/>
<circle cx="67.1" cy="210.7" r="0.55" fill="#30e830"/>
<circle cx="46.4" cy="223.0" r="0.46" fill="#30e830"/>
<circle cx="66.9" cy="202.7" r="0.52" fill="#30e830"/>
<circle cx="50.6" cy="251.5" r="0.8" fill="#30e830"/>
<circle cx="56.3" cy="206.1" r="0.56" fill="#30e830"/>
<circle cx="70.6" cy="255.6" r="0.74" fill="#30e830"/>
<circle cx="42.8" cy="219.6" r="0.75" fill="#30e830"/>
<circle cx="55.2" cy="205.2" r="0.77" fill="#30e830"/>
<circle cx="62.3" cy="246.0" r="0.54" fill="#30e830"/>
<circle cx="54.6" cy="203.3" r="0.64" fill="#30e830"/>
<circle cx="35.8" cy="210.2" r="0.62" fill="#30e830"/>
<circle cx="59.1" cy="203.8" r="0.56" fill="#30e830"/>
<circle cx="42.7" cy="255.2" r="0.5" fill="#30e830"/>
<circle cx="50.4" cy="257.6" r="0.75" fill="#30e830"/>
<circle cx="51.4" cy="257.7" r="0.54" fill="#30e830"/>
<circle cx="44.6" cy="220.6" r="0.66" fill="#30e830"/>
<circle cx="59.8" cy="228.8" r="0.49" fill="#30e830"/>
<circle cx="52.7" cy="251.3" r="0.46" fill="#30e830"/>
<circle cx="39.6" cy="211.8" r="0.56" fill="#30e830"/>
<circle cx="71.3" cy="213.8" r="0.5" fill="#30e830"/>
<circle cx="68.4" cy="202.2" r="0.65" fill="#30e830"/>
<circle cx="67.7" cy="206.4" r="0.63" fill="#30e830"/>
<circle cx="55.2" cy="247.2" r="0.47" fill="#30e830"/>
<circle cx="68.5" cy="214.9" r="0.61" fill="#30e830"/>
<circle cx="63.9" cy="256.1" r="0.7" fill="#30e830"/>
<circle cx="66.4" cy="260.1" r="0.57" fill="#30e830"/>
<circle cx="84.2" cy="200.9" r="0.5" fill="#30e830"/>
<circle cx="61.0" cy="208.8" r="0.54" fill="#30e830"/>
<circle cx="49.4" cy="218.6" r="0.63" fill="#30e830"/>
<circle cx="29.0" cy="225.0" r="0.57" fill="#30e830"/>
<circle cx="58.4" cy="219.2" r="0.69" fill="#30e830"/>
<circle cx="56.4" cy="192.3" r="0.53" fill="#30e830"/>
<circle cx="51.5" cy="203.4" r="0.51" fill="#30e830"/>
<circle cx="54.5" cy="252.2" r="0.63" fill="#30e830"/>
<circle cx="46.0" cy="207.3" r="0.57" fill="#30e830"/>
<circle cx="51.6" cy="245.3" r="0.63" fill="#30e830"/>
<circle cx="57.4" cy="211.4" r="0.82" fill="#30e830"/>
<circle cx="62.2" cy="205.6" r="0.82" fill="#30e830"/>
<circle cx="48.2" cy="226.7" r="0.67" fill="#30e830"/>
<circle cx="43.5" cy="192.1" r="0.48" fill="#30e830"/>
<circle cx="57.7" cy="243.9" r="0.57" fill="#30e830"/>
<circle cx="59.3" cy="203.6" r="0.5" fill="#30e830"/>
<circle cx="54.0" cy="202.6" r="0.73" fill="#30e830"/>
<circle cx="71.2" cy="210.3" r="0.48" fill="#30e830"/>
<circle cx="67.1" cy="253.3" r="0.62" fill="#30e830"/>
<circle cx="44.4" cy="239.6" r="0.83" fill="#30e830"/>
<circle cx="66.9" cy="193.4" r="0.68" fill="#30e830"/>
<circle cx="82.2" cy="192.9" r="0.56" fill="#30e830"/>
<circle cx="67.0" cy="253.3" r="0.75" fill="#30e830"/>
<circle cx="49.9" cy="223.1" r="0.52" fill="#30e830"/>
<circle cx="55.0" cy="217.6" r="0.7" fill="#30e830"/>
<circle cx="37.1" cy="217.5" r="0.58" fill="#30e830"/>
<circle cx="49.7" cy="197.5" r="0.79" fill="#30e830"/>
<circle cx="45.6" cy="237.6" r="0.83" fill="#30e830"/>
<circle cx="64.0" cy="203.4" r="0.67" fill="#30e830"/>
<circle cx="43.8" cy="223.8" r="0.84" fill="#30e830"/>
<circle cx="36.6" cy="231.1" r="0.66" fill="#30e830"/>
<circle cx="75.5" cy="210.1" r="0.62" fill="#30e830"/>
<circle cx="56.4" cy="242.9" r="0.59" fill="#30e830"/>
<circle cx="60.4" cy="207.2" r="0.53" fill="#30e830"/>
<circle cx="50.7" cy="216.9" r="0.82" fill="#30e830"/>
<circle cx="42.5" cy="225.7" r="0.84" fill="#30e830"/>
<circle cx="49.3" cy="208.9" r="0.55" fill="#30e830"/>
<circle cx="58.5" cy="242.6" r="0.49" fill="#30e830"/>
<circle cx="77.1" cy="208.7" r="0.82" fill="#30e830"/>
<circle cx="32.6" cy="221.7" r="0.65" fill="#30e830"/>
<circle cx="52.5" cy="188.3" r="0.65" fill="#30e830"/>
<circle cx="40.3" cy="252.8" r="0.55" fill="#30e830"/>
<circle cx="57.7" cy="221.6" r="0.6" fill="#30e830"/>
<circle cx="67.2" cy="215.9" r="0.8" fill="#30e830"/>
<circle cx="47.4" cy="243.7" r="0.77" fill="#30e830"/>
<circle cx="34.7" cy="229.7" r="0.78" fill="#30e830"/>
<circle cx="48.8" cy="241.0" r="0.57" fill="#30e830"/>
<circle cx="39.8" cy="202.2" r="0.51" fill="#30e830"/>
<circle cx="43.5" cy="213.5" r="0.59" fill="#30e830"/>
<circle cx="50.0" cy="216.2" r="0.58" fill="#30e830"/>
<circle cx="54.3" cy="248.7" r="0.73" fill="#30e830"/>
<circle cx="44.0" cy="208.9" r="0.47" fill="#30e830"/>
<circle cx="55.3" cy="183.1" r="0.73" fill="#30e830"/>
<circle cx="63.7" cy="206.3" r="0.78" fill="#30e830"/>
<circle cx="82.8" cy="199.7" r="0.65" fill="#30e830"/>
<circle cx="65.5" cy="242.1" r="0.8" fill="#30e830"/>
<circle cx="69.9" cy="198.4" r="0.63" fill="#30e830"/>
<circle cx="52.2" cy="219.7" r="0.61" fill="#30e830"/>
<circle cx="48.6" cy="199.2" r="0.51" fill="#30e830"/>
<circle cx="36.0" cy="220.8" r="0.73" fill="#30e830"/>
<circle cx="50.6" cy="203.8" r="0.79" fill="#30e830"/>
<circle cx="68.9" cy="192.3" r="0.58" fill="#30e830"/>
<circle cx="57.2" cy="204.5" r="0.75" fill="#30e830"/>
<circle cx="70.5" cy="195.2" r="0.7" fill="#30e830"/>
<circle cx="74.2" cy="200.1" r="0.85" fill="#30e830"/>
<circle cx="58.7" cy="200.9" r="0.7" fill="#30e830"/>
<circle cx="70.2" cy="196.7" r="0.63" fill="#30e830"/>
<circle cx="52.7" cy="197.7" r="0.77" fill="#30e830"/>
<circle cx="46.8" cy="241.7" r="0.6" fill="#30e830"/>
<circle cx="59.4" cy="242.4" r="0.77" fill="#30e830"/>
<circle cx="55.6" cy="249.9" r="0.48" fill="#30e830"/>
<circle cx="68.5" cy="202.6" r="0.82" fill="#30e830"/>
<circle cx="58.3" cy="248.7" r="0.63" fill="#30e830"/>
<circle cx="48.4" cy="246.3" r="0.77" fill="#30e830"/>
<circle cx="72.7" cy="198.5" r="0.72" fill="#30e830"/>
<circle cx="57.8" cy="245.4" r="0.69" fill="#30e830"/>
<circle cx="47.7" cy="201.3" r="0.62" fill="#30e830"/>
<circle cx="47.0" cy="249.0" r="0.6" fill="#30e830"/>
<circle cx="45.3" cy="220.9" r="0.54" fill="#30e830"/>
<circle cx="60.0" cy="222.8" r="0.57" fill="#30e830"/>
<circle cx="71.6" cy="213.8" r="0.71" fill="#30e830"/>
<circle cx="53.6" cy="236.5" r="0.75" fill="#30e830"/>
<circle cx="65.6" cy="248.4" r="0.69" fill="#30e830"/>
<circle cx="37.9" cy="217.0" r="0.77" fill="#30e830"/>
<circle cx="49.2" cy="208.9" r="0.59" fill="#30e830"/>
<circle cx="53.5" cy="210.7" r="0.74" fill="#30e830"/>
<circle cx="54.4" cy="209.2" r="0.79" fill="#30e830"/>
<circle cx="43.2" cy="196.9" r="0.57" fill="#30e830"/>
<circle cx="46.8" cy="225.3" r="0.68" fill="#30e830"/>
<circle cx="55.5" cy="192.1" r="0.75" fill="#30e830"/>
<circle cx="53.4" cy="255.2" r="0.5" fill="#30e830"/>
<circle cx="36.4" cy="209.0" r="0.82" fill="#30e830"/>
<circle cx="65.7" cy="198.8" r="0.55" fill="#30e830"/>
<circle cx="64.0" cy="212.2" r="0.75" fill="#30e830"/>
<circle cx="42.4" cy="238.5" r="0.5" fill="#30e830"/>
<circle cx="84.1" cy="193.3" r="0.79" fill="#30e830"/>
<circle cx="51.9" cy="181.8" r="0.84" fill="#30e830"/>
<circle cx="78.8" cy="202.2" r="0.77" fill="#30e830"/>
<circle cx="67.7" cy="245.2" r="0.66" fill="#30e830"/>
<circle cx="46.0" cy="224.0" r="0.68" fill="#30e830"/>
<circle cx="64.3" cy="208.1" r="0.83" fill="#30e830"/>
<circle cx="60.6" cy="253.9" r="0.8" fill="#30e830"/>
<circle cx="43.2" cy="209.9" r="0.82" fill="#30e830"/>
<circle cx="44.5" cy="261.0" r="0.81" fill="#30e830"/>
<circle cx="41.6" cy="245.3" r="0.61" fill="#30e830"/>
<circle cx="56.5" cy="259.7" r="0.65" fill="#30e830"/>
<circle cx="61.8" cy="251.4" r="0.8" fill="#30e830"/>
<circle cx="60.2" cy="241.2" r="0.75" fill="#30e830"/>
<circle cx="77.5" cy="199.6" r="0.62" fill="#30e830"/>
<circle cx="56.8" cy="192.7" r="0.49" fill="#30e830"/>
<circle cx="36.6" cy="217.8" r="0.61" fill="#30e830"/>
<circle cx="80.1" cy="196.6" r="0.63" fill="#30e830"/>
<circle cx="77.0" cy="201.6" r="0.79" fill="#30e830"/>
<circle cx="61.7" cy="249.6" r="0.84" fill="#30e830"/>
<circle cx="49.8" cy="232.0" r="0.61" fill="#30e830"/>
<circle cx="49.3" cy="261.6" r="0.63" fill="#30e830"/>
<circle cx="46.0" cy="192.1" r="0.71" fill="#30e830"/>
<circle cx="37.7" cy="197.7" r="0.55" fill="#30e830"/>
<circle cx="58.7" cy="255.4" r="0.68" fill="#30e830"/>
<circle cx="64.4" cy="254.4" r="0.54" fill="#30e830"/>
<circle cx="68.2" cy="203.6" r="0.58" fill="#30e830"/>
<circle cx="56.9" cy="253.3" r="0.79" fill="#30e830"/>
<circle cx="57.3" cy="252.5" r="0.5" fill="#30e830"/>
<circle cx="45.7" cy="250.9" r="0.46" fill="#30e830"/>
<circle cx="71.9" cy="263.3" r="0.77" fill="#30e830"/>
<circle cx="50.6" cy="245.8" r="0.47" fill="#30e830"/>
<circle cx="56.7" cy="193.0" r="0.66" fill="#30e830"/>
<circle cx="60.5" cy="211.8" r="0.66" fill="#30e830"/>
<circle cx="60.4" cy="255.9" r="0.65" fill="#30e830"/>
<circle cx="82.3" cy="191.0" r="0.8" fill="#30e830"/>
<circle cx="40.0" cy="214.0" r="0.63" fill="#30e830"/>
<circle cx="81.7" cy="197.2" r="0.61" fill="#30e830"/>
<circle cx="51.5" cy="196.9" r="0.65" fill="#30e830"/>
<circle cx="74.1" cy="197.3" r="0.69" fill="#30e830"/>
<circle cx="64.7" cy="255.4" r="0.56" fill="#30e830"/>
<circle cx="52.3" cy="209.4" r="0.85" fill="#30e830"/>
<circle cx="44.7" cy="215.2" r="0.63" fill="#30e830"/>
<circle cx="40.7" cy="199.2" r="0.79" fill="#30e830"/>
<circle cx="46.4" cy="196.3" r="0.76" fill="#30e830"/>
<circle cx="61.5" cy="219.6" r="0.58" fill="#28c828"/>
<circle cx="64.2" cy="240.5" r="0.58" fill="#28c828"/>
<circle cx="58.8" cy="231.6" r="0.57" fill="#28c828"/>
<circle cx="57.6" cy="217.6" r="0.46" fill="#28c828"/>
<circle cx="66.4" cy="226.3" r="0.73" fill="#28c828"/>
<circle cx="66.9" cy="231.9" r="0.7" fill="#28c828"/>
<circle cx="68.1" cy="213.0" r="0.63" fill="#28c828"/>
<circle cx="54.0" cy="224.1" r="0.45" fill="#28c828"/>
<circle cx="53.3" cy="244.1" r="0.7" fill="#28c828"/>
<circle cx="74.5" cy="213.1" r="0.79" fill="#28c828"/>
<circle cx="54.8" cy="221.4" r="0.63" fill="#28c828"/>
<circle cx="66.5" cy="247.4" r="0.49" fill="#28c828"/>
<circle cx="79.0" cy="244.6" r="0.55" fill="#28c828"/>
<circle cx="64.0" cy="211.4" r="0.72" fill="#28c828"/>
<circle cx="79.2" cy="199.0" r="0.73" fill="#28c828"/>
<circle cx="51.3" cy="216.2" r="0.41" fill="#28c828"/>
<circle cx="81.1" cy="217.9" r="0.51" fill="#28c828"/>
<circle cx="70.0" cy="247.2" r="0.52" fill="#28c828"/>
<circle cx="62.3" cy="229.8" r="0.75" fill="#28c828"/>
<circle cx="53.0" cy="223.2" r="0.46" fill="#28c828"/>
<circle cx="61.1" cy="226.2" r="0.7" fill="#28c828"/>
<circle cx="65.3" cy="242.0" r="0.54" fill="#28c828"/>
<circle cx="51.2" cy="244.0" r="0.71" fill="#28c828"/>
<circle cx="58.8" cy="226.3" r="0.42" fill="#28c828"/>
<circle cx="71.1" cy="243.9" r="0.67" fill="#28c828"/>
<circle cx="60.7" cy="247.9" r="0.59" fill="#28c828"/>
<circle cx="54.9" cy="232.4" r="0.7" fill="#28c828"/>
<circle cx="71.5" cy="237.8" r="0.51" fill="#28c828"/>
<circle cx="57.5" cy="214.9" r="0.67" fill="#28c828"/>
<circle cx="73.2" cy="232.3" r="0.64" fill="#28c828"/>
<circle cx="72.0" cy="229.1" r="0.48" fill="#28c828"/>
<circle cx="68.3" cy="236.3" r="0.53" fill="#28c828"/>
<circle cx="80.6" cy="229.7" r="0.47" fill="#28c828"/>
<circle cx="50.7" cy="242.7" r="0.6" fill="#28c828"/>
<circle cx="72.6" cy="207.9" r="0.43" fill="#28c828"/>
<circle cx="64.9" cy="225.6" r="0.41" fill="#28c828"/>
<circle cx="81.7" cy="216.1" r="0.63" fill="#28c828"/>
<circle cx="47.8" cy="219.4" r="0.57" fill="#28c828"/>
<circle cx="64.5" cy="230.4" r="0.53" fill="#28c828"/>
<circle cx="67.6" cy="211.2" r="0.73" fill="#28c828"/>
<circle cx="162.0" cy="177.8" r="0.7" fill="#30d030"/>
<circle cx="94.7" cy="232.9" r="0.58" fill="#30d030"/>
<circle cx="109.9" cy="202.2" r="0.52" fill="#30d030"/>
<circle cx="103.7" cy="186.6" r="0.58" fill="#30d030"/>
<circle cx="81.9" cy="224.2" r="0.72" fill="#30d030"/>
<circle cx="105.3" cy="248.1" r="0.69" fill="#30d030"/>
<circle cx="151.6" cy="194.1" r="0.45" fill="#30d030"/>
<circle cx="90.2" cy="234.4" r="0.67" fill="#30d030"/>
<circle cx="135.7" cy="187.6" r="0.67" fill="#30d030"/>
<circle cx="119.7" cy="251.1" r="0.67" fill="#30d030"/>
<circle cx="115.2" cy="269.8" r="0.6" fill="#30d030"/>
<circle cx="133.7" cy="236.8" r="0.7" fill="#30d030"/>
<circle cx="132.9" cy="184.7" r="0.42" fill="#30d030"/>
<circle cx="114.5" cy="201.4" r="0.5" fill="#30d030"/>
<circle cx="76.1" cy="223.9" r="0.51" fill="#30d030"/>
<circle cx="115.5" cy="174.4" r="0.69" fill="#30d030"/>
<circle cx="78.2" cy="263.2" r="0.7" fill="#30d030"/>
<circle cx="131.7" cy="223.9" r="0.56" fill="#30d030"/>
<circle cx="125.7" cy="255.2" r="0.71" fill="#30d030"/>
<circle cx="115.3" cy="257.2" r="0.63" fill="#30d030"/>
<circle cx="102.5" cy="220.4" r="0.45" fill="#30d030"/>
<circle cx="76.7" cy="179.5" r="0.71" fill="#30d030"/>
<circle cx="104.7" cy="246.7" r="0.58" fill="#30d030"/>
<circle cx="87.7" cy="195.4" r="0.55" fill="#30d030"/>
<circle cx="114.3" cy="225.6" r="0.46" fill="#30d030"/>
<circle cx="107.6" cy="199.2" r="0.54" fill="#30d030"/>
<circle cx="104.2" cy="233.9" r="0.68" fill="#30d030"/>
<circle cx="134.9" cy="175.4" r="0.43" fill="#30d030"/>
<circle cx="138.0" cy="199.4" r="0.65" fill="#30d030"/>
<circle cx="135.8" cy="267.8" r="0.71" fill="#30d030"/>
<circle cx="103.7" cy="232.2" r="0.45" fill="#30d030"/>
<circle cx="105.3" cy="274.5" r="0.64" fill="#30d030"/>
<circle cx="109.5" cy="233.6" r="0.73" fill="#30d030"/>
<circle cx="101.3" cy="209.5" r="0.68" fill="#30d030"/>
<circle cx="151.4" cy="241.8" r="0.69" fill="#30d030"/>
<circle cx="144.0" cy="243.5" r="0.58" fill="#30d030"/>
<circle cx="134.8" cy="214.7" r="0.53" fill="#30d030"/>
<circle cx="106.6" cy="187.9" r="0.47" fill="#30d030"/>
<circle cx="164.8" cy="221.6" r="0.48" fill="#30d030"/>
<circle cx="84.2" cy="176.6" r="0.7" fill="#30d030"/>
<circle cx="80.6" cy="252.9" r="0.69" fill="#30d030"/>
<circle cx="158.4" cy="172.3" r="0.52" fill="#30d030"/>
<circle cx="146.8" cy="182.5" r="0.53" fill="#30d030"/>
<circle cx="86.7" cy="259.5" r="0.67" fill="#30d030"/>
<circle cx="151.0" cy="186.3" r="0.55" fill="#30d030"/>
<circle cx="111.4" cy="242.5" r="0.48" fill="#30d030"/>
<circle cx="114.7" cy="199.4" r="0.66" fill="#30d030"/>
<circle cx="115.2" cy="226.8" r="0.51" fill="#30d030"/>
<circle cx="151.0" cy="219.7" r="0.69" fill="#30d030"/>
<circle cx="107.1" cy="272.3" r="0.74" fill="#30d030"/>
<circle cx="116.5" cy="199.1" r="0.53" fill="#30d030"/>
<circle cx="123.0" cy="274.4" r="0.69" fill="#30d030"/>
<circle cx="150.2" cy="183.3" r="0.49" fill="#30d030"/>
<circle cx="134.3" cy="264.3" r="0.59" fill="#30d030"/>
<circle cx="80.8" cy="261.1" r="0.7" fill="#30d030"/>
<circle cx="98.9" cy="252.0" r="0.5" fill="#30d030"/>
<circle cx="160.6" cy="184.3" r="0.55" fill="#30d030"/>
<circle cx="164.7" cy="192.5" r="0.56" fill="#30d030"/>
<circle cx="105.3" cy="171.0" r="0.42" fill="#30d030"/>
<circle cx="120.5" cy="194.0" r="0.75" fill="#30d030"/>
<circle cx="107.8" cy="171.2" r="0.73" fill="#30d030"/>
<circle cx="154.0" cy="239.6" r="0.68" fill="#30d030"/>
<circle cx="84.2" cy="199.7" r="0.69" fill="#30d030"/>
<circle cx="139.8" cy="183.4" r="0.65" fill="#30d030"/>
<circle cx="115.2" cy="168.7" r="0.43" fill="#30d030"/>
<circle cx="96.0" cy="259.9" r="0.59" fill="#30d030"/>
<circle cx="142.9" cy="226.2" r="0.44" fill="#30d030"/>
<circle cx="99.2" cy="201.2" r="0.42" fill="#30d030"/>
<circle cx="112.3" cy="255.4" r="0.56" fill="#30d030"/>
<circle cx="81.6" cy="267.7" r="0.61" fill="#30d030"/>
<circle cx="17.8" cy="235.5" r="0.47" fill="#30d030"/>
<circle cx="23.6" cy="227.9" r="0.58" fill="#30d030"/>
<circle cx="28.0" cy="226.8" r="0.6" fill="#30d030"/>
<circle cx="20.9" cy="275.9" r="0.42" fill="#30d030"/>
<circle cx="41.1" cy="234.7" r="0.7" fill="#30d030"/>
<circle cx="42.4" cy="224.5" r="0.54" fill="#30d030"/>
<circle cx="46.2" cy="276.4" r="0.48" fill="#30d030"/>
<circle cx="17.7" cy="259.5" r="0.5" fill="#30d030"/>
<circle cx="50.6" cy="245.4" r="0.63" fill="#30d030"/>
<circle cx="50.7" cy="219.4" r="0.41" fill="#30d030"/>
<circle cx="42.1" cy="261.7" r="0.45" fill="#30d030"/>
<circle cx="52.8" cy="231.0" r="0.61" fill="#30d030"/>
<circle cx="46.0" cy="261.5" r="0.42" fill="#30d030"/>
<circle cx="52.6" cy="230.4" r="0.49" fill="#30d030"/>
<circle cx="19.0" cy="207.7" r="0.41" fill="#30d030"/>
</g>
<text x="21" y="179.5" font-size="9.3" font-weight="bold" fill="#8a8a8a" stroke="#fff" stroke-width="1.5" paint-order="stroke" letter-spacing="2.2">M1</text>
<rect x="18.8" y="184.29999999999998" width="21.5" height="3.7" rx="1.2" fill="#f4f4f4"/>
<rect x="19.8" y="185.29999999999998" width="19.5" height="1.7" fill="#e00000"/>
<text x="27.6" y="274.8" font-size="3.9" fill="#ddd">200µm</text>
<rect x="25.2" y="275.4" width="15.8" height="0.8" fill="#ddd"/>
<rect x="25.2" y="274.6" width="0.6" height="1.6" fill="#ddd"/><rect x="40.4" y="274.6" width="0.6" height="1.6" fill="#ddd"/>
<clipPath id="c3"><rect x="183.5" y="168.1" width="152.5" height="110"/></clipPath>
<g clip-path="url(#c3)">
<rect x="183.5" y="168.1" width="152.5" height="110" fill="#100000"/>
<filter id="gb3" x="153.5" y="138.1" width="212.5" height="170" filterUnits="userSpaceOnUse"><feGaussianBlur stdDeviation="2.3 5.8"/></filter>
<g filter="url(#gb3)">
<linearGradient id="rg3_0" x1="0" y1="0" x2="1" y2="0"><stop offset="0.0417" stop-color="rgb(0,0,0)"/><stop offset="0.1250" stop-color="rgb(0,0,0)"/><stop offset="0.2083" stop-color="rgb(0,0,0)"/><stop offset="0.2917" stop-color="rgb(0,0,0)"/><stop offset="0.3750" stop-color="rgb(0,0,0)"/><stop offset="0.4583" stop-color="rgb(0,0,0)"/><stop offset="0.5417" stop-color="rgb(0,0,0)"/><stop offset="0.6250" stop-color="rgb(0,0,0)"/><stop offset="0.7083" stop-color="rgb(0,0,0)"/><stop offset="0.7917" stop-color="rgb(0,0,0)"/><stop offset="0.8750" stop-color="rgb(0,0,0)"/><stop offset="0.9583" stop-color="rgb(0,0,0)"/></linearGradient>
<rect x="181.5" y="154.3" width="156.5" height="27.8" fill="url(#rg3_0)"/>
<linearGradient id="rg3_1" x1="0" y1="0" x2="1" y2="0"><stop offset="0.0417" stop-color="rgb(20,0,0)"/><stop offset="0.1250" stop-color="rgb(20,0,0)"/><stop offset="0.2083" stop-color="rgb(20,0,0)"/><stop offset="0.2917" stop-color="rgb(0,0,0)"/><stop offset="0.3750" stop-color="rgb(0,0,0)"/><stop offset="0.4583" stop-color="rgb(0,0,0)"/><stop offset="0.5417" stop-color="rgb(0,0,0)"/><stop offset="0.6250" stop-color="rgb(0,0,0)"/><stop offset="0.7083" stop-color="rgb(0,0,0)"/><stop offset="0.7917" stop-color="rgb(0,0,0)"/><stop offset="0.8750" stop-color="rgb(0,0,0)"/><stop offset="0.9583" stop-color="rgb(0,0,0)"/></linearGradient>
<rect x="181.5" y="181.8" width="156.5" height="14.1" fill="url(#rg3_1)"/>
<linearGradient id="rg3_2" x1="0" y1="0" x2="1" y2="0"><stop offset="0.0417" stop-color="rgb(90,0,0)"/><stop offset="0.1250" stop-color="rgb(90,0,0)"/><stop offset="0.2083" stop-color="rgb(90,0,0)"/><stop offset="0.2917" stop-color="rgb(50,0,0)"/><stop offset="0.3750" stop-color="rgb(20,0,0)"/><stop offset="0.4583" stop-color="rgb(0,0,0)"/><stop offset="0.5417" stop-color="rgb(0,0,0)"/><stop offset="0.6250" stop-color="rgb(0,0,0)"/><stop offset="0.7083" stop-color="rgb(0,0,0)"/><stop offset="0.7917" stop-color="rgb(0,0,0)"/><stop offset="0.8750" stop-color="rgb(0,0,0)"/><stop offset="0.9583" stop-color="rgb(0,0,0)"/></linearGradient>
<rect x="181.5" y="195.6" width="156.5" height="14.1" fill="url(#rg3_2)"/>
<linearGradient id="rg3_3" x1="0" y1="0" x2="1" y2="0"><stop offset="0.0417" stop-color="rgb(178,0,0)"/><stop offset="0.1250" stop-color="rgb(178,0,0)"/><stop offset="0.2083" stop-color="rgb(178,0,0)"/><stop offset="0.2917" stop-color="rgb(132,0,0)"/><stop offset="0.3750" stop-color="rgb(90,0,0)"/><stop offset="0.4583" stop-color="rgb(20,0,0)"/><stop offset="0.5417" stop-color="rgb(20,0,0)"/><stop offset="0.6250" stop-color="rgb(20,0,0)"/><stop offset="0.7083" stop-color="rgb(20,0,0)"/><stop offset="0.7917" stop-color="rgb(20,0,0)"/><stop offset="0.8750" stop-color="rgb(0,0,0)"/><stop offset="0.9583" stop-color="rgb(0,0,0)"/></linearGradient>
<rect x="181.5" y="209.3" width="156.5" height="14.1" fill="url(#rg3_3)"/>
<linearGradient id="rg3_4" x1="0" y1="0" x2="1" y2="0"><stop offset="0.0417" stop-color="rgb(220,0,0)"/><stop offset="0.1250" stop-color="rgb(220,0,0)"/><stop offset="0.2083" stop-color="rgb(220,0,0)"/><stop offset="0.2917" stop-color="rgb(178,0,0)"/><stop offset="0.3750" stop-color="rgb(132,0,0)"/><stop offset="0.4583" stop-color="rgb(50,0,0)"/><stop offset="0.5417" stop-color="rgb(20,0,0)"/><stop offset="0.6250" stop-color="rgb(20,0,0)"/><stop offset="0.7083" stop-color="rgb(20,0,0)"/><stop offset="0.7917" stop-color="rgb(20,0,0)"/><stop offset="0.8750" stop-color="rgb(0,0,0)"/><stop offset="0.9583" stop-color="rgb(0,0,0)"/></linearGradient>
<rect x="181.5" y="223.1" width="156.5" height="14.1" fill="url(#rg3_4)"/>
<linearGradient id="rg3_5" x1="0" y1="0" x2="1" y2="0"><stop offset="0.0417" stop-color="rgb(220,0,0)"/><stop offset="0.1250" stop-color="rgb(250,0,0)"/><stop offset="0.2083" stop-color="rgb(250,0,0)"/><stop offset="0.2917" stop-color="rgb(220,0,0)"/><stop offset="0.3750" stop-color="rgb(178,0,0)"/><stop offset="0.4583" stop-color="rgb(90,0,0)"/><stop offset="0.5417" stop-color="rgb(20,0,0)"/><stop offset="0.6250" stop-color="rgb(20,0,0)"/><stop offset="0.7083" stop-color="rgb(20,0,0)"/><stop offset="0.7917" stop-color="rgb(20,0,0)"/><stop offset="0.8750" stop-color="rgb(0,0,0)"/><stop offset="0.9583" stop-color="rgb(0,0,0)"/></linearGradient>
<rect x="181.5" y="236.8" width="156.5" height="14.1" fill="url(#rg3_5)"/>
<linearGradient id="rg3_6" x1="0" y1="0" x2="1" y2="0"><stop offset="0.0417" stop-color="rgb(250,0,0)"/><stop offset="0.1250" stop-color="rgb(250,0,0)"/><stop offset="0.2083" stop-color="rgb(250,0,0)"/><stop offset="0.2917" stop-color="rgb(220,0,0)"/><stop offset="0.3750" stop-color="rgb(178,0,0)"/><stop offset="0.4583" stop-color="rgb(50,0,0)"/><stop offset="0.5417" stop-color="rgb(0,0,0)"/><stop offset="0.6250" stop-color="rgb(0,0,0)"/><stop offset="0.7083" stop-color="rgb(0,0,0)"/><stop offset="0.7917" stop-color="rgb(0,0,0)"/><stop offset="0.8750" stop-color="rgb(0,0,0)"/><stop offset="0.9583" stop-color="rgb(0,0,0)"/></linearGradient>
<rect x="181.5" y="250.6" width="156.5" height="14.1" fill="url(#rg3_6)"/>
<linearGradient id="rg3_7" x1="0" y1="0" x2="1" y2="0"><stop offset="0.0417" stop-color="rgb(250,0,0)"/><stop offset="0.1250" stop-color="rgb(250,0,0)"/><stop offset="0.2083" stop-color="rgb(220,0,0)"/><stop offset="0.2917" stop-color="rgb(178,0,0)"/><stop offset="0.3750" stop-color="rgb(90,0,0)"/><stop offset="0.4583" stop-color="rgb(20,0,0)"/><stop offset="0.5417" stop-color="rgb(0,0,0)"/><stop offset="0.6250" stop-color="rgb(0,0,0)"/><stop offset="0.7083" stop-color="rgb(0,0,0)"/><stop offset="0.7917" stop-color="rgb(0,0,0)"/><stop offset="0.8750" stop-color="rgb(0,0,0)"/><stop offset="0.9583" stop-color="rgb(0,0,0)"/></linearGradient>
<rect x="181.5" y="264.4" width="156.5" height="27.8" fill="url(#rg3_7)"/>
</g>
<polygon points="229.2,168.1 336.0,168.1 336.0,278.1 262.8,278.1 278.1,250.6 267.4,217.6 244.5,201.1 214.0,190.1 183.5,190.1 183.5,168.1" fill="#060000" filter="url(#bl4)"/>
<rect x="183.5" y="168.1" width="152.5" height="110" fill="#000" opacity="0.2" filter="url(#noise)"/>
<rect x="183.5" y="168.1" width="152.5" height="110" fill="#000" opacity="0.30" filter="url(#noise2)"/>
<circle cx="242.7" cy="201.2" r="0.85" fill="#30e030"/>
<circle cx="220.3" cy="204.4" r="0.75" fill="#30e030"/>
<circle cx="233.4" cy="216.2" r="0.76" fill="#30e030"/>
<circle cx="236.5" cy="199.2" r="0.5" fill="#30e030"/>
<circle cx="212.0" cy="223.6" r="0.75" fill="#30e030"/>
<circle cx="238.8" cy="199.9" r="0.84" fill="#30e030"/>
<circle cx="214.9" cy="206.9" r="0.82" fill="#30e030"/>
<circle cx="207.5" cy="204.2" r="0.74" fill="#30e030"/>
<circle cx="243.8" cy="213.7" r="0.78" fill="#30e030"/>
<circle cx="218.9" cy="203.9" r="0.48" fill="#30e030"/>
<circle cx="223.7" cy="198.6" r="0.69" fill="#30e030"/>
<circle cx="212.6" cy="214.1" r="0.59" fill="#30e030"/>
<circle cx="253.0" cy="212.4" r="0.59" fill="#30e030"/>
<circle cx="239.0" cy="206.5" r="0.84" fill="#30e030"/>
<circle cx="233.8" cy="205.2" r="0.71" fill="#30e030"/>
<circle cx="214.9" cy="221.6" r="0.72" fill="#30e030"/>
<circle cx="235.7" cy="204.8" r="0.69" fill="#30e030"/>
<circle cx="229.9" cy="203.7" r="0.48" fill="#30e030"/>
<circle cx="231.3" cy="196.3" r="0.6" fill="#30e030"/>
<circle cx="214.1" cy="200.5" r="0.72" fill="#30e030"/>
<circle cx="240.4" cy="203.2" r="0.76" fill="#30e030"/>
<circle cx="215.9" cy="200.5" r="0.61" fill="#30e030"/>
<circle cx="223.8" cy="199.9" r="0.5" fill="#30e030"/>
<circle cx="228.0" cy="193.7" r="0.6" fill="#30e030"/>
<circle cx="220.4" cy="203.4" r="0.55" fill="#30e030"/>
<circle cx="190.7" cy="218.8" r="0.56" fill="#30e030"/>
<circle cx="241.5" cy="200.2" r="0.5" fill="#30e030"/>
<circle cx="237.3" cy="197.0" r="0.81" fill="#30e030"/>
<circle cx="224.3" cy="208.2" r="0.72" fill="#30e030"/>
<circle cx="235.3" cy="198.6" r="0.59" fill="#30e030"/>
<circle cx="243.2" cy="212.1" r="0.81" fill="#30e030"/>
<circle cx="240.7" cy="192.7" r="0.82" fill="#30e030"/>
<circle cx="215.2" cy="191.7" r="0.65" fill="#30e030"/>
<circle cx="235.2" cy="211.7" r="0.51" fill="#30e030"/>
<circle cx="230.0" cy="204.1" r="0.67" fill="#30e030"/>
<circle cx="214.3" cy="221.2" r="0.67" fill="#30e030"/>
<circle cx="225.3" cy="203.6" r="0.57" fill="#30e030"/>
<circle cx="248.7" cy="206.6" r="0.66" fill="#30e030"/>
<circle cx="232.0" cy="186.3" r="0.48" fill="#30e030"/>
<circle cx="246.5" cy="203.9" r="0.63" fill="#30e030"/>
<circle cx="224.5" cy="197.4" r="0.8" fill="#30e030"/>
<circle cx="232.5" cy="191.2" r="0.52" fill="#30e030"/>
<circle cx="241.9" cy="204.1" r="0.81" fill="#30e030"/>
<circle cx="235.2" cy="208.5" r="0.51" fill="#30e030"/>
<circle cx="234.8" cy="214.9" r="0.73" fill="#30e030"/>
<circle cx="212.8" cy="228.1" r="0.81" fill="#30e030"/>
<circle cx="234.5" cy="199.7" r="0.7" fill="#30e030"/>
<circle cx="223.3" cy="204.8" r="0.57" fill="#30e030"/>
<circle cx="215.2" cy="203.9" r="0.52" fill="#30e030"/>
<circle cx="235.8" cy="204.3" r="0.71" fill="#30e030"/>
<circle cx="226.2" cy="191.9" r="0.79" fill="#30e030"/>
<circle cx="208.3" cy="198.6" r="0.46" fill="#30e030"/>
<circle cx="246.0" cy="211.0" r="0.68" fill="#30e030"/>
<circle cx="217.1" cy="191.3" r="0.62" fill="#30e030"/>
<circle cx="220.0" cy="196.7" r="0.7" fill="#30e030"/>
<circle cx="221.7" cy="233.3" r="0.64" fill="#30e030"/>
<circle cx="235.5" cy="190.9" r="0.57" fill="#30e030"/>
<circle cx="233.1" cy="208.3" r="0.63" fill="#30e030"/>
<circle cx="221.0" cy="207.3" r="0.69" fill="#30e030"/>
<circle cx="221.8" cy="222.8" r="0.74" fill="#30e030"/>
<circle cx="260.5" cy="217.5" r="0.5" fill="#40e030"/>
<circle cx="236.4" cy="257.4" r="0.58" fill="#40e030"/>
<circle cx="237.4" cy="247.3" r="0.55" fill="#40e030"/>
<circle cx="250.7" cy="251.3" r="0.6" fill="#40e030"/>
<circle cx="239.3" cy="238.5" r="0.8" fill="#40e030"/>
<circle cx="248.9" cy="255.0" r="0.68" fill="#40e030"/>
<circle cx="238.5" cy="265.8" r="0.65" fill="#40e030"/>
<circle cx="233.8" cy="243.7" r="0.57" fill="#40e030"/>
<circle cx="266.3" cy="249.7" r="0.65" fill="#40e030"/>
<circle cx="250.7" cy="243.2" r="0.59" fill="#40e030"/>
<circle cx="254.7" cy="249.9" r="0.8" fill="#40e030"/>
<circle cx="238.7" cy="232.8" r="0.66" fill="#40e030"/>
<circle cx="250.1" cy="233.6" r="0.8" fill="#40e030"/>
<circle cx="242.3" cy="222.9" r="0.6" fill="#40e030"/>
<circle cx="234.9" cy="255.1" r="0.53" fill="#40e030"/>
<circle cx="241.1" cy="243.4" r="0.65" fill="#40e030"/>
<circle cx="245.2" cy="234.5" r="0.85" fill="#40e030"/>
<circle cx="242.6" cy="239.1" r="0.84" fill="#40e030"/>
<circle cx="231.7" cy="259.6" r="0.59" fill="#40e030"/>
<circle cx="258.7" cy="236.8" r="0.53" fill="#40e030"/>
<circle cx="233.7" cy="244.2" r="0.47" fill="#40e030"/>
<circle cx="249.9" cy="254.1" r="0.64" fill="#40e030"/>
<circle cx="232.5" cy="249.9" r="0.66" fill="#40e030"/>
<circle cx="238.6" cy="261.2" r="0.52" fill="#40e030"/>
<circle cx="259.5" cy="243.8" r="0.57" fill="#40e030"/>
<circle cx="235.6" cy="266.3" r="0.66" fill="#40e030"/>
<circle cx="242.5" cy="234.3" r="0.78" fill="#40e030"/>
<circle cx="235.2" cy="259.6" r="0.84" fill="#40e030"/>
<circle cx="230.4" cy="233.3" r="0.74" fill="#40e030"/>
<circle cx="243.7" cy="242.3" r="0.64" fill="#40e030"/>
<circle cx="260.2" cy="240.4" r="0.76" fill="#40e030"/>
<circle cx="231.6" cy="235.2" r="0.68" fill="#40e030"/>
<circle cx="250.7" cy="261.4" r="0.7" fill="#40e030"/>
<circle cx="247.3" cy="238.8" r="0.72" fill="#40e030"/>
<circle cx="266.3" cy="251.4" r="0.49" fill="#40e030"/>
<circle cx="252.4" cy="246.5" r="0.51" fill="#40e030"/>
<circle cx="241.1" cy="232.5" r="0.76" fill="#40e030"/>
<circle cx="260.8" cy="232.3" r="0.74" fill="#40e030"/>
<circle cx="249.1" cy="247.8" r="0.53" fill="#40e030"/>
<circle cx="238.4" cy="262.4" r="0.66" fill="#40e030"/>
<circle cx="242.3" cy="252.6" r="0.81" fill="#40e030"/>
<circle cx="239.8" cy="255.4" r="0.76" fill="#40e030"/>
<circle cx="242.1" cy="226.5" r="0.73" fill="#40e030"/>
<circle cx="239.9" cy="239.6" r="0.55" fill="#40e030"/>
<circle cx="238.4" cy="241.7" r="0.84" fill="#40e030"/>
<circle cx="242.3" cy="255.5" r="0.53" fill="#40e030"/>
<circle cx="242.3" cy="234.0" r="0.59" fill="#40e030"/>
<circle cx="259.4" cy="235.6" r="0.56" fill="#40e030"/>
<circle cx="254.4" cy="258.8" r="0.6" fill="#40e030"/>
<circle cx="261.3" cy="242.1" r="0.83" fill="#40e030"/>
<circle cx="247.1" cy="234.8" r="0.57" fill="#40e030"/>
<circle cx="242.6" cy="233.2" r="0.63" fill="#40e030"/>
<circle cx="244.1" cy="260.2" r="0.53" fill="#40e030"/>
<circle cx="223.8" cy="237.7" r="0.73" fill="#40e030"/>
<circle cx="252.7" cy="259.0" r="0.68" fill="#40e030"/>
<circle cx="245.1" cy="264.7" r="0.66" fill="#40e030"/>
<circle cx="242.6" cy="241.8" r="0.62" fill="#40e030"/>
<circle cx="243.6" cy="239.2" r="0.76" fill="#40e030"/>
<circle cx="256.1" cy="245.6" r="0.82" fill="#40e030"/>
<circle cx="226.7" cy="262.1" r="0.8" fill="#40e030"/>
<circle cx="223.9" cy="198.8" r="0.69" fill="#30d030"/>
<circle cx="213.2" cy="243.0" r="0.67" fill="#30d030"/>
<circle cx="197.3" cy="235.9" r="0.56" fill="#30d030"/>
<circle cx="240.7" cy="271.8" r="0.67" fill="#30d030"/>
<circle cx="203.1" cy="266.4" r="0.45" fill="#30d030"/>
<circle cx="254.2" cy="277.8" r="0.52" fill="#30d030"/>
<circle cx="225.1" cy="271.8" r="0.69" fill="#30d030"/>
<circle cx="254.7" cy="265.9" r="0.4" fill="#30d030"/>
<circle cx="230.1" cy="189.7" r="0.69" fill="#30d030"/>
<circle cx="210.7" cy="277.0" r="0.56" fill="#30d030"/>
<circle cx="225.0" cy="272.0" r="0.66" fill="#30d030"/>
<circle cx="223.2" cy="198.2" r="0.43" fill="#30d030"/>
<circle cx="202.3" cy="224.5" r="0.48" fill="#30d030"/>
<circle cx="203.9" cy="252.0" r="0.64" fill="#30d030"/>
<circle cx="230.1" cy="254.1" r="0.45" fill="#30d030"/>
<circle cx="249.9" cy="267.9" r="0.65" fill="#30d030"/>
<circle cx="226.5" cy="187.7" r="0.6" fill="#30d030"/>
<circle cx="203.8" cy="193.0" r="0.5" fill="#30d030"/>
<circle cx="208.1" cy="204.9" r="0.47" fill="#30d030"/>
<circle cx="242.9" cy="273.5" r="0.49" fill="#30d030"/>
<circle cx="240.7" cy="180.2" r="0.6" fill="#30d030"/>
<circle cx="238.7" cy="185.3" r="0.44" fill="#30d030"/>
<circle cx="212.2" cy="219.2" r="0.55" fill="#30d030"/>
<circle cx="252.6" cy="248.8" r="0.49" fill="#30d030"/>
<circle cx="199.2" cy="269.8" r="0.49" fill="#30d030"/>
<circle cx="306.6" cy="207.0" r="0.44" fill="#30d030"/>
<circle cx="271.4" cy="247.7" r="0.58" fill="#30d030"/>
<circle cx="291.5" cy="232.4" r="0.54" fill="#30d030"/>
<circle cx="300.7" cy="241.2" r="0.47" fill="#30d030"/>
<circle cx="278.6" cy="248.2" r="0.66" fill="#30d030"/>
<circle cx="266.0" cy="224.5" r="0.61" fill="#30d030"/>
</g>
<text x="187.5" y="179.5" font-size="9.3" font-weight="bold" fill="#8a8a8a" stroke="#fff" stroke-width="1.5" paint-order="stroke" letter-spacing="2.2">M2</text>
<rect x="185.3" y="184.29999999999998" width="21.5" height="3.7" rx="1.2" fill="#f4f4f4"/>
<rect x="186.3" y="185.29999999999998" width="19.5" height="1.7" fill="#e00000"/>
<text x="194.1" y="274.8" font-size="3.9" fill="#ddd">200µm</text>
<rect x="191.7" y="275.4" width="15.8" height="0.8" fill="#ddd"/>
<rect x="191.7" y="274.6" width="0.6" height="1.6" fill="#ddd"/><rect x="206.9" y="274.6" width="0.6" height="1.6" fill="#ddd"/>
<rect x="358.75" y="166.25" width="325.5" height="114.5" fill="#fff" stroke="#55c040" stroke-width="1.5"/>
<clipPath id="c4"><rect x="361" y="168.1" width="152.3" height="110"/></clipPath>
<g clip-path="url(#c4)">
<rect x="361" y="168.1" width="152.3" height="110" fill="#100000"/>
<filter id="gb4" x="331" y="138.1" width="212.3" height="170" filterUnits="userSpaceOnUse"><feGaussianBlur stdDeviation="2.3 5.8"/></filter>
<g filter="url(#gb4)">
<linearGradient id="rg4_0" x1="0" y1="0" x2="1" y2="0"><stop offset="0.0417" stop-color="rgb(90,0,0)"/><stop offset="0.1250" stop-color="rgb(132,0,0)"/><stop offset="0.2083" stop-color="rgb(132,0,0)"/><stop offset="0.2917" stop-color="rgb(132,0,0)"/><stop offset="0.3750" stop-color="rgb(178,0,0)"/><stop offset="0.4583" stop-color="rgb(132,0,0)"/><stop offset="0.5417" stop-color="rgb(20,0,0)"/><stop offset="0.6250" stop-color="rgb(20,0,0)"/><stop offset="0.7083" stop-color="rgb(178,0,0)"/><stop offset="0.7917" stop-color="rgb(132,0,0)"/><stop offset="0.8750" stop-color="rgb(50,0,0)"/><stop offset="0.9583" stop-color="rgb(0,0,0)"/></linearGradient>
<rect x="359" y="154.3" width="156.3" height="27.8" fill="url(#rg4_0)"/>
<linearGradient id="rg4_1" x1="0" y1="0" x2="1" y2="0"><stop offset="0.0417" stop-color="rgb(132,0,0)"/><stop offset="0.1250" stop-color="rgb(90,0,0)"/><stop offset="0.2083" stop-color="rgb(50,0,0)"/><stop offset="0.2917" stop-color="rgb(50,0,0)"/><stop offset="0.3750" stop-color="rgb(132,0,0)"/><stop offset="0.4583" stop-color="rgb(178,0,0)"/><stop offset="0.5417" stop-color="rgb(20,0,0)"/><stop offset="0.6250" stop-color="rgb(50,0,0)"/><stop offset="0.7083" stop-color="rgb(178,0,0)"/><stop offset="0.7917" stop-color="rgb(178,0,0)"/><stop offset="0.8750" stop-color="rgb(90,0,0)"/><stop offset="0.9583" stop-color="rgb(0,0,0)"/></linearGradient>
<rect x="359" y="181.8" width="156.3" height="14.1" fill="url(#rg4_1)"/>
<linearGradient id="rg4_2" x1="0" y1="0" x2="1" y2="0"><stop offset="0.0417" stop-color="rgb(178,0,0)"/><stop offset="0.1250" stop-color="rgb(132,0,0)"/><stop offset="0.2083" stop-color="rgb(50,0,0)"/><stop offset="0.2917" stop-color="rgb(50,0,0)"/><stop offset="0.3750" stop-color="rgb(132,0,0)"/><stop offset="0.4583" stop-color="rgb(178,0,0)"/><stop offset="0.5417" stop-color="rgb(178,0,0)"/><stop offset="0.6250" stop-color="rgb(220,0,0)"/><stop offset="0.7083" stop-color="rgb(220,0,0)"/><stop offset="0.7917" stop-color="rgb(220,0,0)"/><stop offset="0.8750" stop-color="rgb(178,0,0)"/><stop offset="0.9583" stop-color="rgb(50,0,0)"/></linearGradient>
<rect x="359" y="195.6" width="156.3" height="14.1" fill="url(#rg4_2)"/>
<linearGradient id="rg4_3" x1="0" y1="0" x2="1" y2="0"><stop offset="0.0417" stop-color="rgb(178,0,0)"/><stop offset="0.1250" stop-color="rgb(178,0,0)"/><stop offset="0.2083" stop-color="rgb(178,0,0)"/><stop offset="0.2917" stop-color="rgb(178,0,0)"/><stop offset="0.3750" stop-color="rgb(178,0,0)"/><stop offset="0.4583" stop-color="rgb(178,0,0)"/><stop offset="0.5417" stop-color="rgb(178,0,0)"/><stop offset="0.6250" stop-color="rgb(220,0,0)"/><stop offset="0.7083" stop-color="rgb(250,0,0)"/><stop offset="0.7917" stop-color="rgb(220,0,0)"/><stop offset="0.8750" stop-color="rgb(220,0,0)"/><stop offset="0.9583" stop-color="rgb(132,0,0)"/></linearGradient>
<rect x="359" y="209.3" width="156.3" height="14.1" fill="url(#rg4_3)"/>
<linearGradient id="rg4_4" x1="0" y1="0" x2="1" y2="0"><stop offset="0.0417" stop-color="rgb(178,0,0)"/><stop offset="0.1250" stop-color="rgb(178,0,0)"/><stop offset="0.2083" stop-color="rgb(178,0,0)"/><stop offset="0.2917" stop-color="rgb(178,0,0)"/><stop offset="0.3750" stop-color="rgb(178,0,0)"/><stop offset="0.4583" stop-color="rgb(178,0,0)"/><stop offset="0.5417" stop-color="rgb(178,0,0)"/><stop offset="0.6250" stop-color="rgb(220,0,0)"/><stop offset="0.7083" stop-color="rgb(250,0,0)"/><stop offset="0.7917" stop-color="rgb(255,0,0)"/><stop offset="0.8750" stop-color="rgb(220,0,0)"/><stop offset="0.9583" stop-color="rgb(178,0,0)"/></linearGradient>
<rect x="359" y="223.1" width="156.3" height="14.1" fill="url(#rg4_4)"/>
<linearGradient id="rg4_5" x1="0" y1="0" x2="1" y2="0"><stop offset="0.0417" stop-color="rgb(132,0,0)"/><stop offset="0.1250" stop-color="rgb(90,0,0)"/><stop offset="0.2083" stop-color="rgb(132,0,0)"/><stop offset="0.2917" stop-color="rgb(178,0,0)"/><stop offset="0.3750" stop-color="rgb(178,0,0)"/><stop offset="0.4583" stop-color="rgb(178,0,0)"/><stop offset="0.5417" stop-color="rgb(220,0,0)"/><stop offset="0.6250" stop-color="rgb(178,0,0)"/><stop offset="0.7083" stop-color="rgb(250,0,0)"/><stop offset="0.7917" stop-color="rgb(255,0,0)"/><stop offset="0.8750" stop-color="rgb(220,0,0)"/><stop offset="0.9583" stop-color="rgb(220,0,0)"/></linearGradient>
<rect x="359" y="236.8" width="156.3" height="14.1" fill="url(#rg4_5)"/>
<linearGradient id="rg4_6" x1="0" y1="0" x2="1" y2="0"><stop offset="0.0417" stop-color="rgb(50,0,0)"/><stop offset="0.1250" stop-color="rgb(50,0,0)"/><stop offset="0.2083" stop-color="rgb(90,0,0)"/><stop offset="0.2917" stop-color="rgb(132,0,0)"/><stop offset="0.3750" stop-color="rgb(178,0,0)"/><stop offset="0.4583" stop-color="rgb(178,0,0)"/><stop offset="0.5417" stop-color="rgb(178,0,0)"/><stop offset="0.6250" stop-color="rgb(220,0,0)"/><stop offset="0.7083" stop-color="rgb(220,0,0)"/><stop offset="0.7917" stop-color="rgb(220,0,0)"/><stop offset="0.8750" stop-color="rgb(178,0,0)"/><stop offset="0.9583" stop-color="rgb(178,0,0)"/></linearGradient>
<rect x="359" y="250.6" width="156.3" height="14.1" fill="url(#rg4_6)"/>
<linearGradient id="rg4_7" x1="0" y1="0" x2="1" y2="0"><stop offset="0.0417" stop-color="rgb(20,0,0)"/><stop offset="0.1250" stop-color="rgb(20,0,0)"/><stop offset="0.2083" stop-color="rgb(50,0,0)"/><stop offset="0.2917" stop-color="rgb(90,0,0)"/><stop offset="0.3750" stop-color="rgb(132,0,0)"/><stop offset="0.4583" stop-color="rgb(90,0,0)"/><stop offset="0.5417" stop-color="rgb(90,0,0)"/><stop offset="0.6250" stop-color="rgb(132,0,0)"/><stop offset="0.7083" stop-color="rgb(178,0,0)"/><stop offset="0.7917" stop-color="rgb(132,0,0)"/><stop offset="0.8750" stop-color="rgb(90,0,0)"/><stop offset="0.9583" stop-color="rgb(90,0,0)"/></linearGradient>
<rect x="359" y="264.4" width="156.3" height="27.8" fill="url(#rg4_7)"/>
</g>
<ellipse cx="435.6" cy="180.2" rx="10.7" ry="16.5" fill="#000" filter="url(#bl2)" transform="rotate(0 435.6 180.2)"/>
<ellipse cx="394.5" cy="200.0" rx="13.7" ry="7.7" fill="#100000" filter="url(#bl2)" transform="rotate(0 394.5 200.0)"/>
<polygon points="472.2,168.1 513.3,168.1 513.3,212.1 502.6,201.1 490.5,184.6" fill="#000" filter="url(#bl2)"/>
<polygon points="361.0,236.3 383.8,245.1 406.7,261.6 414.3,278.1 361.0,278.1" fill="#150000" filter="url(#bl4)"/>
<ellipse cx="475.2" cy="228.6" rx="19.8" ry="22.0" fill="#ff1010" filter="url(#bl4)" transform="rotate(0 475.2 228.6)"/>
<ellipse cx="455.4" cy="238.5" rx="7.6" ry="7.7" fill="#600000" filter="url(#bl2)" transform="rotate(0 455.4 238.5)"/>
<ellipse cx="482.8" cy="217.6" rx="4.6" ry="5.5" fill="#600000" filter="url(#bl2)" transform="rotate(0 482.8 217.6)"/>
<ellipse cx="449.3" cy="219.8" rx="6.1" ry="4.4" fill="#700000" filter="url(#bl2)" transform="rotate(0 449.3 219.8)"/>
<ellipse cx="444.8" cy="272.6" rx="18.3" ry="6.6" fill="#250000" filter="url(#bl4)" transform="rotate(0 444.8 272.6)"/>
<rect x="361" y="168.1" width="152.3" height="110" fill="#000" opacity="0.4" filter="url(#noise)"/>
<rect x="361" y="168.1" width="152.3" height="110" fill="#000" opacity="0.25" filter="url(#noise2)"/>
<circle cx="372.9" cy="230.2" r="0.62" fill="#30d030"/>
<circle cx="444.4" cy="223.7" r="0.77" fill="#30d030"/>
<circle cx="383.8" cy="204.2" r="0.76" fill="#30d030"/>
</g>
<text x="365" y="179.5" font-size="9.3" font-weight="bold" fill="#33b233" stroke="#fff" stroke-width="1.5" paint-order="stroke" letter-spacing="2.2">M1</text>
<rect x="362.8" y="184.29999999999998" width="21.5" height="3.7" rx="1.2" fill="#f4f4f4"/>
<rect x="363.8" y="185.29999999999998" width="19.5" height="1.7" fill="#33bb33"/>
<text x="371.6" y="274.8" font-size="3.9" fill="#ddd">200µm</text>
<rect x="369.2" y="275.4" width="15.8" height="0.8" fill="#ddd"/>
<rect x="369.2" y="274.6" width="0.6" height="1.6" fill="#ddd"/><rect x="384.4" y="274.6" width="0.6" height="1.6" fill="#ddd"/>
<clipPath id="c5"><rect x="528" y="168.1" width="152.5" height="110"/></clipPath>
<g clip-path="url(#c5)">
<rect x="528" y="168.1" width="152.5" height="110" fill="#100000"/>
<filter id="gb5" x="498" y="138.1" width="212.5" height="170" filterUnits="userSpaceOnUse"><feGaussianBlur stdDeviation="2.3 5.8"/></filter>
<g filter="url(#gb5)">
<linearGradient id="rg5_0" x1="0" y1="0" x2="1" y2="0"><stop offset="0.0417" stop-color="rgb(20,0,0)"/><stop offset="0.1250" stop-color="rgb(0,0,0)"/><stop offset="0.2083" stop-color="rgb(0,0,0)"/><stop offset="0.2917" stop-color="rgb(0,0,0)"/><stop offset="0.3750" stop-color="rgb(0,0,0)"/><stop offset="0.4583" stop-color="rgb(0,0,0)"/><stop offset="0.5417" stop-color="rgb(0,0,0)"/><stop offset="0.6250" stop-color="rgb(0,0,0)"/><stop offset="0.7083" stop-color="rgb(0,0,0)"/><stop offset="0.7917" stop-color="rgb(0,0,0)"/><stop offset="0.8750" stop-color="rgb(0,0,0)"/><stop offset="0.9583" stop-color="rgb(0,0,0)"/></linearGradient>
<rect x="526" y="154.3" width="156.5" height="27.8" fill="url(#rg5_0)"/>
<linearGradient id="rg5_1" x1="0" y1="0" x2="1" y2="0"><stop offset="0.0417" stop-color="rgb(132,0,0)"/><stop offset="0.1250" stop-color="rgb(178,0,0)"/><stop offset="0.2083" stop-color="rgb(132,0,0)"/><stop offset="0.2917" stop-color="rgb(90,0,0)"/><stop offset="0.3750" stop-color="rgb(20,0,0)"/><stop offset="0.4583" stop-color="rgb(0,0,0)"/><stop offset="0.5417" stop-color="rgb(0,0,0)"/><stop offset="0.6250" stop-color="rgb(0,0,0)"/><stop offset="0.7083" stop-color="rgb(0,0,0)"/><stop offset="0.7917" stop-color="rgb(0,0,0)"/><stop offset="0.8750" stop-color="rgb(0,0,0)"/><stop offset="0.9583" stop-color="rgb(0,0,0)"/></linearGradient>
<rect x="526" y="181.8" width="156.5" height="14.1" fill="url(#rg5_1)"/>
<linearGradient id="rg5_2" x1="0" y1="0" x2="1" y2="0"><stop offset="0.0417" stop-color="rgb(178,0,0)"/><stop offset="0.1250" stop-color="rgb(220,0,0)"/><stop offset="0.2083" stop-color="rgb(178,0,0)"/><stop offset="0.2917" stop-color="rgb(178,0,0)"/><stop offset="0.3750" stop-color="rgb(132,0,0)"/><stop offset="0.4583" stop-color="rgb(50,0,0)"/><stop offset="0.5417" stop-color="rgb(0,0,0)"/><stop offset="0.6250" stop-color="rgb(0,0,0)"/><stop offset="0.7083" stop-color="rgb(0,0,0)"/><stop offset="0.7917" stop-color="rgb(0,0,0)"/><stop offset="0.8750" stop-color="rgb(0,0,0)"/><stop offset="0.9583" stop-color="rgb(0,0,0)"/></linearGradient>
<rect x="526" y="195.6" width="156.5" height="14.1" fill="url(#rg5_2)"/>
<linearGradient id="rg5_3" x1="0" y1="0" x2="1" y2="0"><stop offset="0.0417" stop-color="rgb(220,0,0)"/><stop offset="0.1250" stop-color="rgb(220,0,0)"/><stop offset="0.2083" stop-color="rgb(220,0,0)"/><stop offset="0.2917" stop-color="rgb(178,0,0)"/><stop offset="0.3750" stop-color="rgb(178,0,0)"/><stop offset="0.4583" stop-color="rgb(178,0,0)"/><stop offset="0.5417" stop-color="rgb(132,0,0)"/><stop offset="0.6250" stop-color="rgb(50,0,0)"/><stop offset="0.7083" stop-color="rgb(0,0,0)"/><stop offset="0.7917" stop-color="rgb(0,0,0)"/><stop offset="0.8750" stop-color="rgb(0,0,0)"/><stop offset="0.9583" stop-color="rgb(0,0,0)"/></linearGradient>
<rect x="526" y="209.3" width="156.5" height="14.1" fill="url(#rg5_3)"/>
<linearGradient id="rg5_4" x1="0" y1="0" x2="1" y2="0"><stop offset="0.0417" stop-color="rgb(220,0,0)"/><stop offset="0.1250" stop-color="rgb(220,0,0)"/><stop offset="0.2083" stop-color="rgb(220,0,0)"/><stop offset="0.2917" stop-color="rgb(220,0,0)"/><stop offset="0.3750" stop-color="rgb(220,0,0)"/><stop offset="0.4583" stop-color="rgb(220,0,0)"/><stop offset="0.5417" stop-color="rgb(220,0,0)"/><stop offset="0.6250" stop-color="rgb(178,0,0)"/><stop offset="0.7083" stop-color="rgb(132,0,0)"/><stop offset="0.7917" stop-color="rgb(50,0,0)"/><stop offset="0.8750" stop-color="rgb(20,0,0)"/><stop offset="0.9583" stop-color="rgb(0,0,0)"/></linearGradient>
<rect x="526" y="223.1" width="156.5" height="14.1" fill="url(#rg5_4)"/>
<linearGradient id="rg5_5" x1="0" y1="0" x2="1" y2="0"><stop offset="0.0417" stop-color="rgb(178,0,0)"/><stop offset="0.1250" stop-color="rgb(220,0,0)"/><stop offset="0.2083" stop-color="rgb(220,0,0)"/><stop offset="0.2917" stop-color="rgb(220,0,0)"/><stop offset="0.3750" stop-color="rgb(220,0,0)"/><stop offset="0.4583" stop-color="rgb(220,0,0)"/><stop offset="0.5417" stop-color="rgb(132,0,0)"/><stop offset="0.6250" stop-color="rgb(90,0,0)"/><stop offset="0.7083" stop-color="rgb(178,0,0)"/><stop offset="0.7917" stop-color="rgb(178,0,0)"/><stop offset="0.8750" stop-color="rgb(90,0,0)"/><stop offset="0.9583" stop-color="rgb(20,0,0)"/></linearGradient>
<rect x="526" y="236.8" width="156.5" height="14.1" fill="url(#rg5_5)"/>
<linearGradient id="rg5_6" x1="0" y1="0" x2="1" y2="0"><stop offset="0.0417" stop-color="rgb(178,0,0)"/><stop offset="0.1250" stop-color="rgb(220,0,0)"/><stop offset="0.2083" stop-color="rgb(220,0,0)"/><stop offset="0.2917" stop-color="rgb(250,0,0)"/><stop offset="0.3750" stop-color="rgb(250,0,0)"/><stop offset="0.4583" stop-color="rgb(220,0,0)"/><stop offset="0.5417" stop-color="rgb(50,0,0)"/><stop offset="0.6250" stop-color="rgb(20,0,0)"/><stop offset="0.7083" stop-color="rgb(50,0,0)"/><stop offset="0.7917" stop-color="rgb(178,0,0)"/><stop offset="0.8750" stop-color="rgb(178,0,0)"/><stop offset="0.9583" stop-color="rgb(90,0,0)"/></linearGradient>
<rect x="526" y="250.6" width="156.5" height="14.1" fill="url(#rg5_6)"/>
<linearGradient id="rg5_7" x1="0" y1="0" x2="1" y2="0"><stop offset="0.0417" stop-color="rgb(178,0,0)"/><stop offset="0.1250" stop-color="rgb(220,0,0)"/><stop offset="0.2083" stop-color="rgb(220,0,0)"/><stop offset="0.2917" stop-color="rgb(250,0,0)"/><stop offset="0.3750" stop-color="rgb(220,0,0)"/><stop offset="0.4583" stop-color="rgb(132,0,0)"/><stop offset="0.5417" stop-color="rgb(20,0,0)"/><stop offset="0.6250" stop-color="rgb(20,0,0)"/><stop offset="0.7083" stop-color="rgb(20,0,0)"/><stop offset="0.7917" stop-color="rgb(90,0,0)"/><stop offset="0.8750" stop-color="rgb(132,0,0)"/><stop offset="0.9583" stop-color="rgb(132,0,0)"/></linearGradient>
<rect x="526" y="264.4" width="156.5" height="27.8" fill="url(#rg5_7)"/>
</g>
<polygon points="573.8,168.1 680.5,168.1 680.5,261.6 669.8,247.3 653.0,231.9 628.6,229.7 613.4,214.3 595.1,209.9 573.8,187.9" fill="#000" filter="url(#bl2)"/>
<polygon points="607.3,278.1 611.9,250.6 622.5,242.9 637.8,247.3 647.0,261.6 650.0,278.1" fill="#000" filter="url(#bl2)"/>
<rect x="528" y="168.1" width="152.5" height="110" fill="#000" opacity="0.35" filter="url(#noise)"/>
<rect x="528" y="168.1" width="152.5" height="110" fill="#000" opacity="0.25" filter="url(#noise2)"/>
<circle cx="602.6" cy="242.3" r="0.65" fill="#30d030"/>
<circle cx="604.0" cy="244.8" r="0.73" fill="#30d030"/>
<circle cx="598.0" cy="240.9" r="0.61" fill="#30d030"/>
<circle cx="604.1" cy="241.5" r="0.73" fill="#30d030"/>
<circle cx="600.7" cy="223.2" r="0.74" fill="#30d030"/>
<circle cx="601.1" cy="219.0" r="0.47" fill="#30d030"/>
<circle cx="600.6" cy="240.3" r="0.8" fill="#30d030"/>
<circle cx="602.2" cy="234.3" r="0.78" fill="#30d030"/>
<circle cx="604.0" cy="239.0" r="0.72" fill="#30d030"/>
<circle cx="602.0" cy="199.9" r="0.68" fill="#30d030"/>
<circle cx="593.6" cy="256.2" r="0.58" fill="#30d030"/>
<circle cx="605.3" cy="215.3" r="0.58" fill="#30d030"/>
<circle cx="599.5" cy="218.6" r="0.64" fill="#30d030"/>
<circle cx="599.8" cy="226.3" r="0.51" fill="#30d030"/>
<circle cx="597.9" cy="232.5" r="0.7" fill="#30d030"/>
<circle cx="601.2" cy="237.4" r="0.46" fill="#30d030"/>
<circle cx="600.0" cy="255.1" r="0.64" fill="#30d030"/>
<circle cx="596.2" cy="231.4" r="0.54" fill="#30d030"/>
<circle cx="599.9" cy="245.0" r="0.78" fill="#30d030"/>
<circle cx="601.0" cy="229.9" r="0.73" fill="#30d030"/>
<circle cx="597.1" cy="247.2" r="0.76" fill="#30d030"/>
<circle cx="603.1" cy="237.2" r="0.49" fill="#30d030"/>
<circle cx="604.8" cy="240.0" r="0.7" fill="#30d030"/>
<circle cx="605.5" cy="242.8" r="0.59" fill="#30d030"/>
<circle cx="601.4" cy="245.5" r="0.75" fill="#30d030"/>
<circle cx="604.2" cy="241.7" r="0.55" fill="#30d030"/>
<circle cx="603.0" cy="216.7" r="0.56" fill="#30d030"/>
<circle cx="597.9" cy="224.9" r="0.56" fill="#30d030"/>
<circle cx="600.7" cy="243.3" r="0.68" fill="#30d030"/>
<circle cx="601.6" cy="247.3" r="0.47" fill="#30d030"/>
<circle cx="606.6" cy="227.7" r="0.77" fill="#30d030"/>
<circle cx="599.2" cy="226.4" r="0.62" fill="#30d030"/>
<circle cx="607.6" cy="230.9" r="0.68" fill="#30d030"/>
<circle cx="601.7" cy="225.0" r="0.6" fill="#30d030"/>
<circle cx="602.8" cy="246.6" r="0.71" fill="#30d030"/>
<circle cx="595.9" cy="240.6" r="0.56" fill="#30d030"/>
<circle cx="599.9" cy="213.2" r="0.77" fill="#30d030"/>
<circle cx="594.6" cy="223.1" r="0.65" fill="#30d030"/>
<circle cx="602.6" cy="243.6" r="0.52" fill="#30d030"/>
<circle cx="597.5" cy="212.5" r="0.75" fill="#30d030"/>
<circle cx="597.5" cy="250.8" r="0.51" fill="#30d030"/>
<circle cx="613.6" cy="245.8" r="0.63" fill="#30d030"/>
<circle cx="668.9" cy="197.7" r="0.68" fill="#30d030"/>
<circle cx="655.3" cy="234.4" r="0.59" fill="#30d030"/>
<circle cx="668.6" cy="212.1" r="0.74" fill="#30d030"/>
<circle cx="590.4" cy="271.9" r="0.74" fill="#30d030"/>
<circle cx="599.7" cy="278.1" r="0.59" fill="#30d030"/>
<circle cx="611.2" cy="238.9" r="0.51" fill="#30d030"/>
<circle cx="672.7" cy="233.8" r="0.68" fill="#30d030"/>
<circle cx="623.8" cy="231.9" r="0.56" fill="#30d030"/>
<circle cx="612.9" cy="229.9" r="0.6" fill="#30d030"/>
<circle cx="598.0" cy="276.3" r="0.59" fill="#30d030"/>
<circle cx="665.8" cy="269.6" r="0.56" fill="#30d030"/>
<circle cx="626.9" cy="234.8" r="0.52" fill="#30d030"/>
<circle cx="602.4" cy="204.9" r="0.73" fill="#30d030"/>
<circle cx="642.0" cy="220.4" r="0.5" fill="#30d030"/>
<circle cx="619.2" cy="216.7" r="0.7" fill="#30d030"/>
<circle cx="634.7" cy="243.9" r="0.66" fill="#30d030"/>
<circle cx="612.5" cy="260.4" r="0.74" fill="#30d030"/>
<circle cx="647.7" cy="227.7" r="0.5" fill="#30d030"/>
<circle cx="661.7" cy="195.9" r="0.67" fill="#30d030"/>
<circle cx="633.7" cy="269.9" r="0.61" fill="#30d030"/>
</g>
<text x="532" y="179.5" font-size="9.3" font-weight="bold" fill="#33b233" stroke="#fff" stroke-width="1.5" paint-order="stroke" letter-spacing="2.2">M2</text>
<rect x="529.8" y="184.29999999999998" width="21.5" height="3.7" rx="1.2" fill="#f4f4f4"/>
<rect x="530.8" y="185.29999999999998" width="19.5" height="1.7" fill="#e00000"/>
<text x="538.6" y="274.8" font-size="3.9" fill="#ddd">200µm</text>
<rect x="536.2" y="275.4" width="15.8" height="0.8" fill="#ddd"/>
<rect x="536.2" y="274.6" width="0.6" height="1.6" fill="#ddd"/><rect x="551.4" y="274.6" width="0.6" height="1.6" fill="#ddd"/>
<rect x="13.75" y="315.75" width="325.5" height="114.5" fill="#fff" stroke="#d01010" stroke-width="1.5"/>
<clipPath id="c6"><rect x="17" y="317.6" width="153" height="110"/></clipPath>
<g clip-path="url(#c6)">
<rect x="17" y="317.6" width="153" height="110" fill="#100000"/>
<filter id="gb6" x="-13" y="287.6" width="213" height="170" filterUnits="userSpaceOnUse"><feGaussianBlur stdDeviation="2.3 5.8"/></filter>
<g filter="url(#gb6)">
<linearGradient id="rg6_0" x1="0" y1="0" x2="1" y2="0"><stop offset="0.0417" stop-color="rgb(20,0,0)"/><stop offset="0.1250" stop-color="rgb(20,0,0)"/><stop offset="0.2083" stop-color="rgb(50,0,0)"/><stop offset="0.2917" stop-color="rgb(90,0,0)"/><stop offset="0.3750" stop-color="rgb(132,0,0)"/><stop offset="0.4583" stop-color="rgb(178,0,0)"/><stop offset="0.5417" stop-color="rgb(220,0,0)"/><stop offset="0.6250" stop-color="rgb(255,0,0)"/><stop offset="0.7083" stop-color="rgb(250,0,0)"/><stop offset="0.7917" stop-color="rgb(220,0,0)"/><stop offset="0.8750" stop-color="rgb(90,0,0)"/><stop offset="0.9583" stop-color="rgb(0,0,0)"/></linearGradient>
<rect x="15" y="303.9" width="157" height="27.8" fill="url(#rg6_0)"/>
<linearGradient id="rg6_1" x1="0" y1="0" x2="1" y2="0"><stop offset="0.0417" stop-color="rgb(20,0,0)"/><stop offset="0.1250" stop-color="rgb(20,0,0)"/><stop offset="0.2083" stop-color="rgb(50,0,0)"/><stop offset="0.2917" stop-color="rgb(50,0,0)"/><stop offset="0.3750" stop-color="rgb(90,0,0)"/><stop offset="0.4583" stop-color="rgb(90,0,0)"/><stop offset="0.5417" stop-color="rgb(250,0,0)"/><stop offset="0.6250" stop-color="rgb(255,0,0)"/><stop offset="0.7083" stop-color="rgb(250,0,0)"/><stop offset="0.7917" stop-color="rgb(250,0,0)"/><stop offset="0.8750" stop-color="rgb(220,0,0)"/><stop offset="0.9583" stop-color="rgb(90,0,0)"/></linearGradient>
<rect x="15" y="331.4" width="157" height="14.1" fill="url(#rg6_1)"/>
<linearGradient id="rg6_2" x1="0" y1="0" x2="1" y2="0"><stop offset="0.0417" stop-color="rgb(20,0,0)"/><stop offset="0.1250" stop-color="rgb(20,0,0)"/><stop offset="0.2083" stop-color="rgb(20,0,0)"/><stop offset="0.2917" stop-color="rgb(20,0,0)"/><stop offset="0.3750" stop-color="rgb(50,0,0)"/><stop offset="0.4583" stop-color="rgb(90,0,0)"/><stop offset="0.5417" stop-color="rgb(220,0,0)"/><stop offset="0.6250" stop-color="rgb(250,0,0)"/><stop offset="0.7083" stop-color="rgb(220,0,0)"/><stop offset="0.7917" stop-color="rgb(250,0,0)"/><stop offset="0.8750" stop-color="rgb(250,0,0)"/><stop offset="0.9583" stop-color="rgb(220,0,0)"/></linearGradient>
<rect x="15" y="345.1" width="157" height="14.1" fill="url(#rg6_2)"/>
<linearGradient id="rg6_3" x1="0" y1="0" x2="1" y2="0"><stop offset="0.0417" stop-color="rgb(50,0,0)"/><stop offset="0.1250" stop-color="rgb(20,0,0)"/><stop offset="0.2083" stop-color="rgb(20,0,0)"/><stop offset="0.2917" stop-color="rgb(20,0,0)"/><stop offset="0.3750" stop-color="rgb(20,0,0)"/><stop offset="0.4583" stop-color="rgb(50,0,0)"/><stop offset="0.5417" stop-color="rgb(250,0,0)"/><stop offset="0.6250" stop-color="rgb(220,0,0)"/><stop offset="0.7083" stop-color="rgb(178,0,0)"/><stop offset="0.7917" stop-color="rgb(220,0,0)"/><stop offset="0.8750" stop-color="rgb(255,0,0)"/><stop offset="0.9583" stop-color="rgb(250,0,0)"/></linearGradient>
<rect x="15" y="358.9" width="157" height="14.1" fill="url(#rg6_3)"/>
<linearGradient id="rg6_4" x1="0" y1="0" x2="1" y2="0"><stop offset="0.0417" stop-color="rgb(178,0,0)"/><stop offset="0.1250" stop-color="rgb(178,0,0)"/><stop offset="0.2083" stop-color="rgb(132,0,0)"/><stop offset="0.2917" stop-color="rgb(132,0,0)"/><stop offset="0.3750" stop-color="rgb(220,0,0)"/><stop offset="0.4583" stop-color="rgb(250,0,0)"/><stop offset="0.5417" stop-color="rgb(220,0,0)"/><stop offset="0.6250" stop-color="rgb(220,0,0)"/><stop offset="0.7083" stop-color="rgb(178,0,0)"/><stop offset="0.7917" stop-color="rgb(178,0,0)"/><stop offset="0.8750" stop-color="rgb(178,0,0)"/><stop offset="0.9583" stop-color="rgb(178,0,0)"/></linearGradient>
<rect x="15" y="372.6" width="157" height="14.1" fill="url(#rg6_4)"/>
<linearGradient id="rg6_5" x1="0" y1="0" x2="1" y2="0"><stop offset="0.0417" stop-color="rgb(132,0,0)"/><stop offset="0.1250" stop-color="rgb(90,0,0)"/><stop offset="0.2083" stop-color="rgb(178,0,0)"/><stop offset="0.2917" stop-color="rgb(220,0,0)"/><stop offset="0.3750" stop-color="rgb(250,0,0)"/><stop offset="0.4583" stop-color="rgb(250,0,0)"/><stop offset="0.5417" stop-color="rgb(250,0,0)"/><stop offset="0.6250" stop-color="rgb(220,0,0)"/><stop offset="0.7083" stop-color="rgb(250,0,0)"/><stop offset="0.7917" stop-color="rgb(178,0,0)"/><stop offset="0.8750" stop-color="rgb(132,0,0)"/><stop offset="0.9583" stop-color="rgb(132,0,0)"/></linearGradient>
<rect x="15" y="386.4" width="157" height="14.1" fill="url(#rg6_5)"/>
<linearGradient id="rg6_6" x1="0" y1="0" x2="1" y2="0"><stop offset="0.0417" stop-color="rgb(50,0,0)"/><stop offset="0.1250" stop-color="rgb(50,0,0)"/><stop offset="0.2083" stop-color="rgb(132,0,0)"/><stop offset="0.2917" stop-color="rgb(220,0,0)"/><stop offset="0.3750" stop-color="rgb(250,0,0)"/><stop offset="0.4583" stop-color="rgb(250,0,0)"/><stop offset="0.5417" stop-color="rgb(220,0,0)"/><stop offset="0.6250" stop-color="rgb(220,0,0)"/><stop offset="0.7083" stop-color="rgb(220,0,0)"/><stop offset="0.7917" stop-color="rgb(132,0,0)"/><stop offset="0.8750" stop-color="rgb(90,0,0)"/><stop offset="0.9583" stop-color="rgb(90,0,0)"/></linearGradient>
<rect x="15" y="400.1" width="157" height="14.1" fill="url(#rg6_6)"/>
<linearGradient id="rg6_7" x1="0" y1="0" x2="1" y2="0"><stop offset="0.0417" stop-color="rgb(20,0,0)"/><stop offset="0.1250" stop-color="rgb(50,0,0)"/><stop offset="0.2083" stop-color="rgb(90,0,0)"/><stop offset="0.2917" stop-color="rgb(178,0,0)"/><stop offset="0.3750" stop-color="rgb(178,0,0)"/><stop offset="0.4583" stop-color="rgb(178,0,0)"/><stop offset="0.5417" stop-color="rgb(132,0,0)"/><stop offset="0.6250" stop-color="rgb(132,0,0)"/><stop offset="0.7083" stop-color="rgb(90,0,0)"/><stop offset="0.7917" stop-color="rgb(50,0,0)"/><stop offset="0.8750" stop-color="rgb(50,0,0)"/><stop offset="0.9583" stop-color="rgb(50,0,0)"/></linearGradient>
<rect x="15" y="413.9" width="157" height="27.8" fill="url(#rg6_7)"/>
</g>
<polygon points="17.0,333.0 47.6,336.3 81.3,341.8 96.6,352.8 81.3,367.1 55.2,372.6 17.0,363.8" fill="#080000" filter="url(#bl4)"/>
<ellipse cx="163.9" cy="322.0" rx="12.2" ry="11.0" fill="#000" filter="url(#bl2)" transform="rotate(0 163.9 322.0)"/>
<rect x="17" y="317.6" width="153" height="110" fill="#000" opacity="0.45" filter="url(#noise)"/>
<rect x="17" y="317.6" width="153" height="110" fill="#000" opacity="0.25" filter="url(#noise2)"/>
</g>
<text x="21" y="329.0" font-size="9.3" font-weight="bold" fill="#cc0000" stroke="#fff" stroke-width="1.5" paint-order="stroke" letter-spacing="2.2">M1</text>
<rect x="18.8" y="333.8" width="21.5" height="3.7" rx="1.2" fill="#f4f4f4"/>
<rect x="19.8" y="334.8" width="19.5" height="1.7" fill="#33bb33"/>
<text x="27.6" y="424.3" font-size="3.9" fill="#ddd">200µm</text>
<rect x="25.2" y="424.9" width="15.8" height="0.8" fill="#ddd"/>
<rect x="25.2" y="424.1" width="0.6" height="1.6" fill="#ddd"/><rect x="40.4" y="424.1" width="0.6" height="1.6" fill="#ddd"/>
<clipPath id="c7"><rect x="183.5" y="317.6" width="152.5" height="110"/></clipPath>
<g clip-path="url(#c7)">
<rect x="183.5" y="317.6" width="152.5" height="110" fill="#100000"/>
<filter id="gb7" x="153.5" y="287.6" width="212.5" height="170" filterUnits="userSpaceOnUse"><feGaussianBlur stdDeviation="2.3 5.8"/></filter>
<g filter="url(#gb7)">
<linearGradient id="rg7_0" x1="0" y1="0" x2="1" y2="0"><stop offset="0.0417" stop-color="rgb(0,0,0)"/><stop offset="0.1250" stop-color="rgb(0,0,0)"/><stop offset="0.2083" stop-color="rgb(0,0,0)"/><stop offset="0.2917" stop-color="rgb(0,0,0)"/><stop offset="0.3750" stop-color="rgb(0,0,0)"/><stop offset="0.4583" stop-color="rgb(20,0,0)"/><stop offset="0.5417" stop-color="rgb(50,0,0)"/><stop offset="0.6250" stop-color="rgb(132,0,0)"/><stop offset="0.7083" stop-color="rgb(178,0,0)"/><stop offset="0.7917" stop-color="rgb(90,0,0)"/><stop offset="0.8750" stop-color="rgb(50,0,0)"/><stop offset="0.9583" stop-color="rgb(0,0,0)"/></linearGradient>
<rect x="181.5" y="303.9" width="156.5" height="27.8" fill="url(#rg7_0)"/>
<linearGradient id="rg7_1" x1="0" y1="0" x2="1" y2="0"><stop offset="0.0417" stop-color="rgb(0,0,0)"/><stop offset="0.1250" stop-color="rgb(0,0,0)"/><stop offset="0.2083" stop-color="rgb(0,0,0)"/><stop offset="0.2917" stop-color="rgb(0,0,0)"/><stop offset="0.3750" stop-color="rgb(50,0,0)"/><stop offset="0.4583" stop-color="rgb(132,0,0)"/><stop offset="0.5417" stop-color="rgb(220,0,0)"/><stop offset="0.6250" stop-color="rgb(220,0,0)"/><stop offset="0.7083" stop-color="rgb(220,0,0)"/><stop offset="0.7917" stop-color="rgb(220,0,0)"/><stop offset="0.8750" stop-color="rgb(90,0,0)"/><stop offset="0.9583" stop-color="rgb(0,0,0)"/></linearGradient>
<rect x="181.5" y="331.4" width="156.5" height="14.1" fill="url(#rg7_1)"/>
<linearGradient id="rg7_2" x1="0" y1="0" x2="1" y2="0"><stop offset="0.0417" stop-color="rgb(0,0,0)"/><stop offset="0.1250" stop-color="rgb(0,0,0)"/><stop offset="0.2083" stop-color="rgb(20,0,0)"/><stop offset="0.2917" stop-color="rgb(90,0,0)"/><stop offset="0.3750" stop-color="rgb(178,0,0)"/><stop offset="0.4583" stop-color="rgb(220,0,0)"/><stop offset="0.5417" stop-color="rgb(220,0,0)"/><stop offset="0.6250" stop-color="rgb(220,0,0)"/><stop offset="0.7083" stop-color="rgb(220,0,0)"/><stop offset="0.7917" stop-color="rgb(220,0,0)"/><stop offset="0.8750" stop-color="rgb(132,0,0)"/><stop offset="0.9583" stop-color="rgb(0,0,0)"/></linearGradient>
<rect x="181.5" y="345.1" width="156.5" height="14.1" fill="url(#rg7_2)"/>
<linearGradient id="rg7_3" x1="0" y1="0" x2="1" y2="0"><stop offset="0.0417" stop-color="rgb(0,0,0)"/><stop offset="0.1250" stop-color="rgb(20,0,0)"/><stop offset="0.2083" stop-color="rgb(90,0,0)"/><stop offset="0.2917" stop-color="rgb(178,0,0)"/><stop offset="0.3750" stop-color="rgb(220,0,0)"/><stop offset="0.4583" stop-color="rgb(178,0,0)"/><stop offset="0.5417" stop-color="rgb(178,0,0)"/><stop offset="0.6250" stop-color="rgb(178,0,0)"/><stop offset="0.7083" stop-color="rgb(220,0,0)"/><stop offset="0.7917" stop-color="rgb(178,0,0)"/><stop offset="0.8750" stop-color="rgb(90,0,0)"/><stop offset="0.9583" stop-color="rgb(0,0,0)"/></linearGradient>
<rect x="181.5" y="358.9" width="156.5" height="14.1" fill="url(#rg7_3)"/>
<linearGradient id="rg7_4" x1="0" y1="0" x2="1" y2="0"><stop offset="0.0417" stop-color="rgb(20,0,0)"/><stop offset="0.1250" stop-color="rgb(90,0,0)"/><stop offset="0.2083" stop-color="rgb(178,0,0)"/><stop offset="0.2917" stop-color="rgb(220,0,0)"/><stop offset="0.3750" stop-color="rgb(178,0,0)"/><stop offset="0.4583" stop-color="rgb(132,0,0)"/><stop offset="0.5417" stop-color="rgb(132,0,0)"/><stop offset="0.6250" stop-color="rgb(132,0,0)"/><stop offset="0.7083" stop-color="rgb(178,0,0)"/><stop offset="0.7917" stop-color="rgb(132,0,0)"/><stop offset="0.8750" stop-color="rgb(50,0,0)"/><stop offset="0.9583" stop-color="rgb(0,0,0)"/></linearGradient>
<rect x="181.5" y="372.6" width="156.5" height="14.1" fill="url(#rg7_4)"/>
<linearGradient id="rg7_5" x1="0" y1="0" x2="1" y2="0"><stop offset="0.0417" stop-color="rgb(50,0,0)"/><stop offset="0.1250" stop-color="rgb(178,0,0)"/><stop offset="0.2083" stop-color="rgb(220,0,0)"/><stop offset="0.2917" stop-color="rgb(220,0,0)"/><stop offset="0.3750" stop-color="rgb(220,0,0)"/><stop offset="0.4583" stop-color="rgb(220,0,0)"/><stop offset="0.5417" stop-color="rgb(178,0,0)"/><stop offset="0.6250" stop-color="rgb(132,0,0)"/><stop offset="0.7083" stop-color="rgb(90,0,0)"/><stop offset="0.7917" stop-color="rgb(50,0,0)"/><stop offset="0.8750" stop-color="rgb(20,0,0)"/><stop offset="0.9583" stop-color="rgb(0,0,0)"/></linearGradient>
<rect x="181.5" y="386.4" width="156.5" height="14.1" fill="url(#rg7_5)"/>
<linearGradient id="rg7_6" x1="0" y1="0" x2="1" y2="0"><stop offset="0.0417" stop-color="rgb(50,0,0)"/><stop offset="0.1250" stop-color="rgb(178,0,0)"/><stop offset="0.2083" stop-color="rgb(220,0,0)"/><stop offset="0.2917" stop-color="rgb(250,0,0)"/><stop offset="0.3750" stop-color="rgb(250,0,0)"/><stop offset="0.4583" stop-color="rgb(250,0,0)"/><stop offset="0.5417" stop-color="rgb(220,0,0)"/><stop offset="0.6250" stop-color="rgb(132,0,0)"/><stop offset="0.7083" stop-color="rgb(50,0,0)"/><stop offset="0.7917" stop-color="rgb(20,0,0)"/><stop offset="0.8750" stop-color="rgb(20,0,0)"/><stop offset="0.9583" stop-color="rgb(0,0,0)"/></linearGradient>
<rect x="181.5" y="400.1" width="156.5" height="14.1" fill="url(#rg7_6)"/>
<linearGradient id="rg7_7" x1="0" y1="0" x2="1" y2="0"><stop offset="0.0417" stop-color="rgb(20,0,0)"/><stop offset="0.1250" stop-color="rgb(132,0,0)"/><stop offset="0.2083" stop-color="rgb(178,0,0)"/><stop offset="0.2917" stop-color="rgb(220,0,0)"/><stop offset="0.3750" stop-color="rgb(220,0,0)"/><stop offset="0.4583" stop-color="rgb(220,0,0)"/><stop offset="0.5417" stop-color="rgb(178,0,0)"/><stop offset="0.6250" stop-color="rgb(90,0,0)"/><stop offset="0.7083" stop-color="rgb(20,0,0)"/><stop offset="0.7917" stop-color="rgb(0,0,0)"/><stop offset="0.8750" stop-color="rgb(0,0,0)"/><stop offset="0.9583" stop-color="rgb(0,0,0)"/></linearGradient>
<rect x="181.5" y="413.9" width="156.5" height="27.8" fill="url(#rg7_7)"/>
</g>
<ellipse cx="275.0" cy="348.4" rx="30.5" ry="13.2" fill="#ff0000" filter="url(#bl4)" transform="rotate(-25 275.0 348.4)"/>
<ellipse cx="236.9" cy="403.4" rx="30.5" ry="13.2" fill="#ff0000" filter="url(#bl4)" transform="rotate(-20 236.9 403.4)"/>
<ellipse cx="262.8" cy="383.6" rx="27.4" ry="6.6" fill="#600000" filter="url(#bl4)" transform="rotate(-30 262.8 383.6)"/>
<polygon points="183.5,317.6 259.8,317.6 236.9,337.4 201.8,363.8 183.5,372.6" fill="#000" filter="url(#bl4)"/>
<polygon points="323.8,328.6 336.0,317.6 336.0,427.6 287.2,427.6 305.5,405.6 320.8,372.6" fill="#000" filter="url(#bl4)"/>
<rect x="183.5" y="317.6" width="152.5" height="110" fill="#000" opacity="0.2" filter="url(#noise)"/>
<rect x="183.5" y="317.6" width="152.5" height="110" fill="#000" opacity="0.30" filter="url(#noise2)"/>
</g>
<text x="187.5" y="329.0" font-size="9.3" font-weight="bold" fill="#cc0000" stroke="#fff" stroke-width="1.5" paint-order="stroke" letter-spacing="2.2">M2</text>
<rect x="185.3" y="333.8" width="21.5" height="3.7" rx="1.2" fill="#f4f4f4"/>
<rect x="186.3" y="334.8" width="19.5" height="1.7" fill="#33bb33"/>
<text x="194.1" y="424.3" font-size="3.9" fill="#ddd">200µm</text>
<rect x="191.7" y="424.9" width="15.8" height="0.8" fill="#ddd"/>
<rect x="191.7" y="424.1" width="0.6" height="1.6" fill="#ddd"/><rect x="206.9" y="424.1" width="0.6" height="1.6" fill="#ddd"/>
<rect x="358.75" y="315.75" width="325.5" height="114.5" fill="#fff" stroke="#38d0d8" stroke-width="1.5"/>
<clipPath id="c8"><rect x="361" y="317.6" width="152.3" height="110"/></clipPath>
<g clip-path="url(#c8)">
<rect x="361" y="317.6" width="152.3" height="110" fill="#100000"/>
<filter id="gb8" x="331" y="287.6" width="212.3" height="170" filterUnits="userSpaceOnUse"><feGaussianBlur stdDeviation="2.3 5.8"/></filter>
<g filter="url(#gb8)">
<linearGradient id="rg8_0" x1="0" y1="0" x2="1" y2="0"><stop offset="0.0417" stop-color="rgb(0,0,0)"/><stop offset="0.1250" stop-color="rgb(0,0,0)"/><stop offset="0.2083" stop-color="rgb(0,0,0)"/><stop offset="0.2917" stop-color="rgb(0,0,0)"/><stop offset="0.3750" stop-color="rgb(0,0,0)"/><stop offset="0.4583" stop-color="rgb(0,0,0)"/><stop offset="0.5417" stop-color="rgb(0,0,0)"/><stop offset="0.6250" stop-color="rgb(0,0,0)"/><stop offset="0.7083" stop-color="rgb(20,0,0)"/><stop offset="0.7917" stop-color="rgb(0,0,0)"/><stop offset="0.8750" stop-color="rgb(0,0,0)"/><stop offset="0.9583" stop-color="rgb(0,0,0)"/></linearGradient>
<rect x="359" y="303.9" width="156.3" height="27.8" fill="url(#rg8_0)"/>
<linearGradient id="rg8_1" x1="0" y1="0" x2="1" y2="0"><stop offset="0.0417" stop-color="rgb(0,0,0)"/><stop offset="0.1250" stop-color="rgb(0,0,0)"/><stop offset="0.2083" stop-color="rgb(0,0,0)"/><stop offset="0.2917" stop-color="rgb(0,0,0)"/><stop offset="0.3750" stop-color="rgb(0,0,0)"/><stop offset="0.4583" stop-color="rgb(0,0,0)"/><stop offset="0.5417" stop-color="rgb(0,0,0)"/><stop offset="0.6250" stop-color="rgb(50,0,0)"/><stop offset="0.7083" stop-color="rgb(132,0,0)"/><stop offset="0.7917" stop-color="rgb(178,0,0)"/><stop offset="0.8750" stop-color="rgb(50,0,0)"/><stop offset="0.9583" stop-color="rgb(0,0,0)"/></linearGradient>
<rect x="359" y="331.4" width="156.3" height="14.1" fill="url(#rg8_1)"/>
<linearGradient id="rg8_2" x1="0" y1="0" x2="1" y2="0"><stop offset="0.0417" stop-color="rgb(0,0,0)"/><stop offset="0.1250" stop-color="rgb(0,0,0)"/><stop offset="0.2083" stop-color="rgb(0,0,0)"/><stop offset="0.2917" stop-color="rgb(0,0,0)"/><stop offset="0.3750" stop-color="rgb(0,0,0)"/><stop offset="0.4583" stop-color="rgb(20,0,0)"/><stop offset="0.5417" stop-color="rgb(132,0,0)"/><stop offset="0.6250" stop-color="rgb(220,0,0)"/><stop offset="0.7083" stop-color="rgb(220,0,0)"/><stop offset="0.7917" stop-color="rgb(220,0,0)"/><stop offset="0.8750" stop-color="rgb(132,0,0)"/><stop offset="0.9583" stop-color="rgb(0,0,0)"/></linearGradient>
<rect x="359" y="345.1" width="156.3" height="14.1" fill="url(#rg8_2)"/>
<linearGradient id="rg8_3" x1="0" y1="0" x2="1" y2="0"><stop offset="0.0417" stop-color="rgb(0,0,0)"/><stop offset="0.1250" stop-color="rgb(0,0,0)"/><stop offset="0.2083" stop-color="rgb(0,0,0)"/><stop offset="0.2917" stop-color="rgb(0,0,0)"/><stop offset="0.3750" stop-color="rgb(20,0,0)"/><stop offset="0.4583" stop-color="rgb(132,0,0)"/><stop offset="0.5417" stop-color="rgb(220,0,0)"/><stop offset="0.6250" stop-color="rgb(220,0,0)"/><stop offset="0.7083" stop-color="rgb(220,0,0)"/><stop offset="0.7917" stop-color="rgb(220,0,0)"/><stop offset="0.8750" stop-color="rgb(90,0,0)"/><stop offset="0.9583" stop-color="rgb(0,0,0)"/></linearGradient>
<rect x="359" y="358.9" width="156.3" height="14.1" fill="url(#rg8_3)"/>
<linearGradient id="rg8_4" x1="0" y1="0" x2="1" y2="0"><stop offset="0.0417" stop-color="rgb(0,0,0)"/><stop offset="0.1250" stop-color="rgb(0,0,0)"/><stop offset="0.2083" stop-color="rgb(0,0,0)"/><stop offset="0.2917" stop-color="rgb(20,0,0)"/><stop offset="0.3750" stop-color="rgb(132,0,0)"/><stop offset="0.4583" stop-color="rgb(220,0,0)"/><stop offset="0.5417" stop-color="rgb(220,0,0)"/><stop offset="0.6250" stop-color="rgb(220,0,0)"/><stop offset="0.7083" stop-color="rgb(220,0,0)"/><stop offset="0.7917" stop-color="rgb(132,0,0)"/><stop offset="0.8750" stop-color="rgb(50,0,0)"/><stop offset="0.9583" stop-color="rgb(0,0,0)"/></linearGradient>
<rect x="359" y="372.6" width="156.3" height="14.1" fill="url(#rg8_4)"/>
<linearGradient id="rg8_5" x1="0" y1="0" x2="1" y2="0"><stop offset="0.0417" stop-color="rgb(0,0,0)"/><stop offset="0.1250" stop-color="rgb(0,0,0)"/><stop offset="0.2083" stop-color="rgb(20,0,0)"/><stop offset="0.2917" stop-color="rgb(132,0,0)"/><stop offset="0.3750" stop-color="rgb(220,0,0)"/><stop offset="0.4583" stop-color="rgb(220,0,0)"/><stop offset="0.5417" stop-color="rgb(220,0,0)"/><stop offset="0.6250" stop-color="rgb(220,0,0)"/><stop offset="0.7083" stop-color="rgb(132,0,0)"/><stop offset="0.7917" stop-color="rgb(50,0,0)"/><stop offset="0.8750" stop-color="rgb(0,0,0)"/><stop offset="0.9583" stop-color="rgb(0,0,0)"/></linearGradient>
<rect x="359" y="386.4" width="156.3" height="14.1" fill="url(#rg8_5)"/>
<linearGradient id="rg8_6" x1="0" y1="0" x2="1" y2="0"><stop offset="0.0417" stop-color="rgb(0,0,0)"/><stop offset="0.1250" stop-color="rgb(0,0,0)"/><stop offset="0.2083" stop-color="rgb(132,0,0)"/><stop offset="0.2917" stop-color="rgb(220,0,0)"/><stop offset="0.3750" stop-color="rgb(220,0,0)"/><stop offset="0.4583" stop-color="rgb(220,0,0)"/><stop offset="0.5417" stop-color="rgb(220,0,0)"/><stop offset="0.6250" stop-color="rgb(178,0,0)"/><stop offset="0.7083" stop-color="rgb(50,0,0)"/><stop offset="0.7917" stop-color="rgb(0,0,0)"/><stop offset="0.8750" stop-color="rgb(0,0,0)"/><stop offset="0.9583" stop-color="rgb(0,0,0)"/></linearGradient>
<rect x="359" y="400.1" width="156.3" height="14.1" fill="url(#rg8_6)"/>
<linearGradient id="rg8_7" x1="0" y1="0" x2="1" y2="0"><stop offset="0.0417" stop-color="rgb(0,0,0)"/><stop offset="0.1250" stop-color="rgb(90,0,0)"/><stop offset="0.2083" stop-color="rgb(178,0,0)"/><stop offset="0.2917" stop-color="rgb(220,0,0)"/><stop offset="0.3750" stop-color="rgb(220,0,0)"/><stop offset="0.4583" stop-color="rgb(220,0,0)"/><stop offset="0.5417" stop-color="rgb(178,0,0)"/><stop offset="0.6250" stop-color="rgb(90,0,0)"/><stop offset="0.7083" stop-color="rgb(20,0,0)"/><stop offset="0.7917" stop-color="rgb(0,0,0)"/><stop offset="0.8750" stop-color="rgb(0,0,0)"/><stop offset="0.9583" stop-color="rgb(0,0,0)"/></linearGradient>
<rect x="359" y="413.9" width="156.3" height="27.8" fill="url(#rg8_7)"/>
</g>
<polygon points="361.0,317.6 513.3,317.6 513.3,350.6 490.5,333.0 455.4,328.6 425.0,359.4 400.6,389.1 380.8,427.6 361.0,427.6" fill="#000" filter="url(#bl2)"/>
<polygon points="449.3,427.6 479.8,400.1 502.6,370.4 513.3,363.8 513.3,427.6" fill="#000" filter="url(#bl2)"/>
<polyline points="406.7,422.1 425.0,394.6 437.1,378.1 452.4,367.1 467.6,352.8 479.8,341.8" fill="none" stroke="#400000" stroke-width="0.9" filter="url(#bl1)"/>
<rect x="361" y="317.6" width="152.3" height="110" fill="#000" opacity="0.3" filter="url(#noise)"/>
<rect x="361" y="317.6" width="152.3" height="110" fill="#000" opacity="0.30" filter="url(#noise2)"/>
<circle cx="438.8" cy="370.7" r="0.71" fill="#30d030"/>
<circle cx="482.5" cy="323.7" r="0.97" fill="#30d030"/>
<circle cx="447.3" cy="349.9" r="1.04" fill="#30d030"/>
<circle cx="449.8" cy="420.9" r="0.7" fill="#30d030"/>
<circle cx="418.3" cy="377.1" r="0.95" fill="#30d030"/>
<circle cx="425.8" cy="345.1" r="0.89" fill="#30d030"/>
<circle cx="441.6" cy="378.3" r="0.92" fill="#30d030"/>
<circle cx="478.3" cy="380.6" r="0.81" fill="#30d030"/>
<circle cx="449.8" cy="377.4" r="1.03" fill="#30d030"/>
<circle cx="422.0" cy="333.9" r="1.06" fill="#30d030"/>
<circle cx="454.4" cy="385.8" r="0.76" fill="#30d030"/>
<circle cx="456.7" cy="409.5" r="1.03" fill="#30d030"/>
<circle cx="441.8" cy="405.6" r="0.85" fill="#30d030"/>
<circle cx="415.4" cy="397.9" r="1.1" fill="#30d030"/>
<circle cx="451.1" cy="419.4" r="1.04" fill="#30d030"/>
<circle cx="414.0" cy="333.4" r="1.0" fill="#30d030"/>
<circle cx="467.0" cy="393.0" r="0.92" fill="#30d030"/>
<circle cx="448.3" cy="379.4" r="0.77" fill="#30d030"/>
<circle cx="415.5" cy="378.1" r="1.01" fill="#30d030"/>
<circle cx="395.2" cy="356.3" r="0.74" fill="#30d030"/>
<circle cx="436.8" cy="376.7" r="0.78" fill="#30d030"/>
<circle cx="483.5" cy="335.7" r="0.89" fill="#30d030"/>
<circle cx="455.1" cy="381.2" r="1.07" fill="#30d030"/>
<circle cx="473.2" cy="357.2" r="0.71" fill="#30d030"/>
<circle cx="466.2" cy="367.8" r="1.08" fill="#30d030"/>
<circle cx="405.6" cy="354.2" r="0.99" fill="#30d030"/>
<circle cx="436.0" cy="384.7" r="0.76" fill="#30d030"/>
<circle cx="400.0" cy="415.7" r="0.83" fill="#30d030"/>
<circle cx="445.3" cy="363.0" r="1.1" fill="#30d030"/>
<circle cx="439.5" cy="346.1" r="1.09" fill="#30d030"/>
<circle cx="472.5" cy="387.9" r="1.04" fill="#30d030"/>
<circle cx="419.5" cy="417.8" r="1.08" fill="#30d030"/>
<circle cx="407.1" cy="406.7" r="0.71" fill="#30d030"/>
<circle cx="419.1" cy="379.6" r="1.08" fill="#30d030"/>
<circle cx="407.1" cy="395.3" r="0.96" fill="#30d030"/>
<circle cx="477.4" cy="397.7" r="1.02" fill="#30d030"/>
<circle cx="442.2" cy="367.0" r="0.76" fill="#30d030"/>
<circle cx="435.5" cy="340.2" r="1.0" fill="#30d030"/>
<circle cx="439.5" cy="390.0" r="0.7" fill="#30d030"/>
<circle cx="435.5" cy="402.4" r="0.81" fill="#30d030"/>
<circle cx="456.7" cy="391.2" r="0.88" fill="#30d030"/>
<circle cx="418.3" cy="368.6" r="0.71" fill="#30d030"/>
<circle cx="437.4" cy="387.8" r="0.94" fill="#30d030"/>
<circle cx="432.6" cy="402.3" r="0.82" fill="#30d030"/>
<circle cx="436.0" cy="385.6" r="1.06" fill="#30d030"/>
<circle cx="507.5" cy="335.4" r="0.93" fill="#30d030"/>
<circle cx="457.8" cy="401.7" r="0.76" fill="#30d030"/>
<circle cx="434.7" cy="408.5" r="0.73" fill="#30d030"/>
<circle cx="418.5" cy="389.6" r="0.89" fill="#30d030"/>
<circle cx="463.2" cy="387.8" r="0.8" fill="#30d030"/>
<circle cx="418.7" cy="352.0" r="0.78" fill="#30d030"/>
<circle cx="463.1" cy="392.7" r="1.08" fill="#30d030"/>
<circle cx="425.9" cy="411.4" r="1.02" fill="#30d030"/>
</g>
<text x="365" y="329.0" font-size="9.3" font-weight="bold" fill="#30d0d8" stroke="#fff" stroke-width="1.5" paint-order="stroke" letter-spacing="2.2">M1</text>
<rect x="362.8" y="333.8" width="21.5" height="3.7" rx="1.2" fill="#f4f4f4"/>
<rect x="363.8" y="334.8" width="19.5" height="1.7" fill="#e00000"/>
<text x="371.6" y="424.3" font-size="3.9" fill="#ddd">200µm</text>
<rect x="369.2" y="424.9" width="15.8" height="0.8" fill="#ddd"/>
<rect x="369.2" y="424.1" width="0.6" height="1.6" fill="#ddd"/><rect x="384.4" y="424.1" width="0.6" height="1.6" fill="#ddd"/>
<clipPath id="c9"><rect x="528" y="317.6" width="152.5" height="110"/></clipPath>
<g clip-path="url(#c9)">
<rect x="528" y="317.6" width="152.5" height="110" fill="#100000"/>
<filter id="gb9" x="498" y="287.6" width="212.5" height="170" filterUnits="userSpaceOnUse"><feGaussianBlur stdDeviation="2.3 5.8"/></filter>
<g filter="url(#gb9)">
<linearGradient id="rg9_0" x1="0" y1="0" x2="1" y2="0"><stop offset="0.0417" stop-color="rgb(0,0,0)"/><stop offset="0.1250" stop-color="rgb(0,0,0)"/><stop offset="0.2083" stop-color="rgb(0,0,0)"/><stop offset="0.2917" stop-color="rgb(0,0,0)"/><stop offset="0.3750" stop-color="rgb(0,0,0)"/><stop offset="0.4583" stop-color="rgb(0,0,0)"/><stop offset="0.5417" stop-color="rgb(0,0,0)"/><stop offset="0.6250" stop-color="rgb(0,0,0)"/><stop offset="0.7083" stop-color="rgb(0,0,0)"/><stop offset="0.7917" stop-color="rgb(0,0,0)"/><stop offset="0.8750" stop-color="rgb(0,0,0)"/><stop offset="0.9583" stop-color="rgb(0,0,0)"/></linearGradient>
<rect x="526" y="303.9" width="156.5" height="27.8" fill="url(#rg9_0)"/>
<linearGradient id="rg9_1" x1="0" y1="0" x2="1" y2="0"><stop offset="0.0417" stop-color="rgb(0,0,0)"/><stop offset="0.1250" stop-color="rgb(0,0,0)"/><stop offset="0.2083" stop-color="rgb(0,0,0)"/><stop offset="0.2917" stop-color="rgb(0,0,0)"/><stop offset="0.3750" stop-color="rgb(0,0,0)"/><stop offset="0.4583" stop-color="rgb(90,0,0)"/><stop offset="0.5417" stop-color="rgb(178,0,0)"/><stop offset="0.6250" stop-color="rgb(178,0,0)"/><stop offset="0.7083" stop-color="rgb(90,0,0)"/><stop offset="0.7917" stop-color="rgb(20,0,0)"/><stop offset="0.8750" stop-color="rgb(0,0,0)"/><stop offset="0.9583" stop-color="rgb(0,0,0)"/></linearGradient>
<rect x="526" y="331.4" width="156.5" height="14.1" fill="url(#rg9_1)"/>
<linearGradient id="rg9_2" x1="0" y1="0" x2="1" y2="0"><stop offset="0.0417" stop-color="rgb(50,0,0)"/><stop offset="0.1250" stop-color="rgb(20,0,0)"/><stop offset="0.2083" stop-color="rgb(0,0,0)"/><stop offset="0.2917" stop-color="rgb(20,0,0)"/><stop offset="0.3750" stop-color="rgb(132,0,0)"/><stop offset="0.4583" stop-color="rgb(220,0,0)"/><stop offset="0.5417" stop-color="rgb(250,0,0)"/><stop offset="0.6250" stop-color="rgb(250,0,0)"/><stop offset="0.7083" stop-color="rgb(220,0,0)"/><stop offset="0.7917" stop-color="rgb(178,0,0)"/><stop offset="0.8750" stop-color="rgb(90,0,0)"/><stop offset="0.9583" stop-color="rgb(20,0,0)"/></linearGradient>
<rect x="526" y="345.1" width="156.5" height="14.1" fill="url(#rg9_2)"/>
<linearGradient id="rg9_3" x1="0" y1="0" x2="1" y2="0"><stop offset="0.0417" stop-color="rgb(220,0,0)"/><stop offset="0.1250" stop-color="rgb(178,0,0)"/><stop offset="0.2083" stop-color="rgb(132,0,0)"/><stop offset="0.2917" stop-color="rgb(178,0,0)"/><stop offset="0.3750" stop-color="rgb(250,0,0)"/><stop offset="0.4583" stop-color="rgb(255,0,0)"/><stop offset="0.5417" stop-color="rgb(255,0,0)"/><stop offset="0.6250" stop-color="rgb(250,0,0)"/><stop offset="0.7083" stop-color="rgb(250,0,0)"/><stop offset="0.7917" stop-color="rgb(220,0,0)"/><stop offset="0.8750" stop-color="rgb(178,0,0)"/><stop offset="0.9583" stop-color="rgb(178,0,0)"/></linearGradient>
<rect x="526" y="358.9" width="156.5" height="14.1" fill="url(#rg9_3)"/>
<linearGradient id="rg9_4" x1="0" y1="0" x2="1" y2="0"><stop offset="0.0417" stop-color="rgb(250,0,0)"/><stop offset="0.1250" stop-color="rgb(250,0,0)"/><stop offset="0.2083" stop-color="rgb(250,0,0)"/><stop offset="0.2917" stop-color="rgb(250,0,0)"/><stop offset="0.3750" stop-color="rgb(250,0,0)"/><stop offset="0.4583" stop-color="rgb(255,0,0)"/><stop offset="0.5417" stop-color="rgb(255,0,0)"/><stop offset="0.6250" stop-color="rgb(250,0,0)"/><stop offset="0.7083" stop-color="rgb(250,0,0)"/><stop offset="0.7917" stop-color="rgb(250,0,0)"/><stop offset="0.8750" stop-color="rgb(220,0,0)"/><stop offset="0.9583" stop-color="rgb(220,0,0)"/></linearGradient>
<rect x="526" y="372.6" width="156.5" height="14.1" fill="url(#rg9_4)"/>
<linearGradient id="rg9_5" x1="0" y1="0" x2="1" y2="0"><stop offset="0.0417" stop-color="rgb(250,0,0)"/><stop offset="0.1250" stop-color="rgb(250,0,0)"/><stop offset="0.2083" stop-color="rgb(250,0,0)"/><stop offset="0.2917" stop-color="rgb(250,0,0)"/><stop offset="0.3750" stop-color="rgb(250,0,0)"/><stop offset="0.4583" stop-color="rgb(250,0,0)"/><stop offset="0.5417" stop-color="rgb(250,0,0)"/><stop offset="0.6250" stop-color="rgb(250,0,0)"/><stop offset="0.7083" stop-color="rgb(250,0,0)"/><stop offset="0.7917" stop-color="rgb(250,0,0)"/><stop offset="0.8750" stop-color="rgb(220,0,0)"/><stop offset="0.9583" stop-color="rgb(220,0,0)"/></linearGradient>
<rect x="526" y="386.4" width="156.5" height="14.1" fill="url(#rg9_5)"/>
<linearGradient id="rg9_6" x1="0" y1="0" x2="1" y2="0"><stop offset="0.0417" stop-color="rgb(250,0,0)"/><stop offset="0.1250" stop-color="rgb(250,0,0)"/><stop offset="0.2083" stop-color="rgb(250,0,0)"/><stop offset="0.2917" stop-color="rgb(250,0,0)"/><stop offset="0.3750" stop-color="rgb(250,0,0)"/><stop offset="0.4583" stop-color="rgb(250,0,0)"/><stop offset="0.5417" stop-color="rgb(250,0,0)"/><stop offset="0.6250" stop-color="rgb(250,0,0)"/><stop offset="0.7083" stop-color="rgb(250,0,0)"/><stop offset="0.7917" stop-color="rgb(220,0,0)"/><stop offset="0.8750" stop-color="rgb(220,0,0)"/><stop offset="0.9583" stop-color="rgb(178,0,0)"/></linearGradient>
<rect x="526" y="400.1" width="156.5" height="14.1" fill="url(#rg9_6)"/>
<linearGradient id="rg9_7" x1="0" y1="0" x2="1" y2="0"><stop offset="0.0417" stop-color="rgb(220,0,0)"/><stop offset="0.1250" stop-color="rgb(220,0,0)"/><stop offset="0.2083" stop-color="rgb(220,0,0)"/><stop offset="0.2917" stop-color="rgb(220,0,0)"/><stop offset="0.3750" stop-color="rgb(178,0,0)"/><stop offset="0.4583" stop-color="rgb(178,0,0)"/><stop offset="0.5417" stop-color="rgb(132,0,0)"/><stop offset="0.6250" stop-color="rgb(178,0,0)"/><stop offset="0.7083" stop-color="rgb(220,0,0)"/><stop offset="0.7917" stop-color="rgb(220,0,0)"/><stop offset="0.8750" stop-color="rgb(178,0,0)"/><stop offset="0.9583" stop-color="rgb(132,0,0)"/></linearGradient>
<rect x="526" y="413.9" width="156.5" height="27.8" fill="url(#rg9_7)"/>
</g>
<polygon points="528.0,317.6 680.5,317.6 680.5,359.4 650.0,350.6 619.5,341.8 592.0,335.2 573.8,350.6 558.5,363.8 546.3,361.6 528.0,348.4" fill="#000" filter="url(#bl2)"/>
<rect x="528" y="317.6" width="152.5" height="110" fill="#000" opacity="0.1" filter="url(#noise)"/>
<rect x="528" y="317.6" width="152.5" height="110" fill="#000" opacity="0.25" filter="url(#noise2)"/>
</g>
<text x="532" y="329.0" font-size="9.3" font-weight="bold" fill="#30d0d8" stroke="#fff" stroke-width="1.5" paint-order="stroke" letter-spacing="2.2">M2</text>
<rect x="529.8" y="333.8" width="21.5" height="3.7" rx="1.2" fill="#f4f4f4"/>
<rect x="530.8" y="334.8" width="19.5" height="1.7" fill="#33bb33"/>
<text x="538.6" y="424.3" font-size="3.9" fill="#ddd">200µm</text>
<rect x="536.2" y="424.9" width="15.8" height="0.8" fill="#ddd"/>
<rect x="536.2" y="424.1" width="0.6" height="1.6" fill="#ddd"/><rect x="551.4" y="424.1" width="0.6" height="1.6" fill="#ddd"/>
<rect x="13.75" y="463.75" width="325.5" height="114.5" fill="#fff" stroke="#b050c0" stroke-width="1.5"/>
<clipPath id="c10"><rect x="17" y="465.6" width="153" height="110"/></clipPath>
<g clip-path="url(#c10)">
<rect x="17" y="465.6" width="153" height="110" fill="#100000"/>
<filter id="gb10" x="-13" y="435.6" width="213" height="170" filterUnits="userSpaceOnUse"><feGaussianBlur stdDeviation="2.3 5.8"/></filter>
<g filter="url(#gb10)">
<linearGradient id="rg10_0" x1="0" y1="0" x2="1" y2="0"><stop offset="0.0417" stop-color="rgb(20,0,0)"/><stop offset="0.1250" stop-color="rgb(20,0,0)"/><stop offset="0.2083" stop-color="rgb(20,0,0)"/><stop offset="0.2917" stop-color="rgb(20,0,0)"/><stop offset="0.3750" stop-color="rgb(20,0,0)"/><stop offset="0.4583" stop-color="rgb(20,0,0)"/><stop offset="0.5417" stop-color="rgb(20,0,0)"/><stop offset="0.6250" stop-color="rgb(50,0,0)"/><stop offset="0.7083" stop-color="rgb(50,0,0)"/><stop offset="0.7917" stop-color="rgb(20,0,0)"/><stop offset="0.8750" stop-color="rgb(20,0,0)"/><stop offset="0.9583" stop-color="rgb(20,0,0)"/></linearGradient>
<rect x="15" y="451.9" width="157" height="27.8" fill="url(#rg10_0)"/>
<linearGradient id="rg10_1" x1="0" y1="0" x2="1" y2="0"><stop offset="0.0417" stop-color="rgb(50,0,0)"/><stop offset="0.1250" stop-color="rgb(90,0,0)"/><stop offset="0.2083" stop-color="rgb(132,0,0)"/><stop offset="0.2917" stop-color="rgb(178,0,0)"/><stop offset="0.3750" stop-color="rgb(178,0,0)"/><stop offset="0.4583" stop-color="rgb(178,0,0)"/><stop offset="0.5417" stop-color="rgb(132,0,0)"/><stop offset="0.6250" stop-color="rgb(132,0,0)"/><stop offset="0.7083" stop-color="rgb(178,0,0)"/><stop offset="0.7917" stop-color="rgb(132,0,0)"/><stop offset="0.8750" stop-color="rgb(50,0,0)"/><stop offset="0.9583" stop-color="rgb(20,0,0)"/></linearGradient>
<rect x="15" y="479.4" width="157" height="14.1" fill="url(#rg10_1)"/>
<linearGradient id="rg10_2" x1="0" y1="0" x2="1" y2="0"><stop offset="0.0417" stop-color="rgb(250,0,0)"/><stop offset="0.1250" stop-color="rgb(250,0,0)"/><stop offset="0.2083" stop-color="rgb(220,0,0)"/><stop offset="0.2917" stop-color="rgb(220,0,0)"/><stop offset="0.3750" stop-color="rgb(220,0,0)"/><stop offset="0.4583" stop-color="rgb(220,0,0)"/><stop offset="0.5417" stop-color="rgb(178,0,0)"/><stop offset="0.6250" stop-color="rgb(178,0,0)"/><stop offset="0.7083" stop-color="rgb(220,0,0)"/><stop offset="0.7917" stop-color="rgb(178,0,0)"/><stop offset="0.8750" stop-color="rgb(132,0,0)"/><stop offset="0.9583" stop-color="rgb(90,0,0)"/></linearGradient>
<rect x="15" y="493.1" width="157" height="14.1" fill="url(#rg10_2)"/>
<linearGradient id="rg10_3" x1="0" y1="0" x2="1" y2="0"><stop offset="0.0417" stop-color="rgb(90,0,0)"/><stop offset="0.1250" stop-color="rgb(250,0,0)"/><stop offset="0.2083" stop-color="rgb(250,0,0)"/><stop offset="0.2917" stop-color="rgb(220,0,0)"/><stop offset="0.3750" stop-color="rgb(220,0,0)"/><stop offset="0.4583" stop-color="rgb(220,0,0)"/><stop offset="0.5417" stop-color="rgb(220,0,0)"/><stop offset="0.6250" stop-color="rgb(220,0,0)"/><stop offset="0.7083" stop-color="rgb(220,0,0)"/><stop offset="0.7917" stop-color="rgb(178,0,0)"/><stop offset="0.8750" stop-color="rgb(178,0,0)"/><stop offset="0.9583" stop-color="rgb(220,0,0)"/></linearGradient>
<rect x="15" y="506.9" width="157" height="14.1" fill="url(#rg10_3)"/>
<linearGradient id="rg10_4" x1="0" y1="0" x2="1" y2="0"><stop offset="0.0417" stop-color="rgb(50,0,0)"/><stop offset="0.1250" stop-color="rgb(220,0,0)"/><stop offset="0.2083" stop-color="rgb(220,0,0)"/><stop offset="0.2917" stop-color="rgb(250,0,0)"/><stop offset="0.3750" stop-color="rgb(250,0,0)"/><stop offset="0.4583" stop-color="rgb(250,0,0)"/><stop offset="0.5417" stop-color="rgb(250,0,0)"/><stop offset="0.6250" stop-color="rgb(255,0,0)"/><stop offset="0.7083" stop-color="rgb(255,0,0)"/><stop offset="0.7917" stop-color="rgb(250,0,0)"/><stop offset="0.8750" stop-color="rgb(250,0,0)"/><stop offset="0.9583" stop-color="rgb(255,0,0)"/></linearGradient>
<rect x="15" y="520.6" width="157" height="14.1" fill="url(#rg10_4)"/>
<linearGradient id="rg10_5" x1="0" y1="0" x2="1" y2="0"><stop offset="0.0417" stop-color="rgb(90,0,0)"/><stop offset="0.1250" stop-color="rgb(220,0,0)"/><stop offset="0.2083" stop-color="rgb(220,0,0)"/><stop offset="0.2917" stop-color="rgb(250,0,0)"/><stop offset="0.3750" stop-color="rgb(250,0,0)"/><stop offset="0.4583" stop-color="rgb(255,0,0)"/><stop offset="0.5417" stop-color="rgb(255,0,0)"/><stop offset="0.6250" stop-color="rgb(255,0,0)"/><stop offset="0.7083" stop-color="rgb(255,0,0)"/><stop offset="0.7917" stop-color="rgb(255,0,0)"/><stop offset="0.8750" stop-color="rgb(255,0,0)"/><stop offset="0.9583" stop-color="rgb(255,0,0)"/></linearGradient>
<rect x="15" y="534.4" width="157" height="14.1" fill="url(#rg10_5)"/>
<linearGradient id="rg10_6" x1="0" y1="0" x2="1" y2="0"><stop offset="0.0417" stop-color="rgb(90,0,0)"/><stop offset="0.1250" stop-color="rgb(178,0,0)"/><stop offset="0.2083" stop-color="rgb(220,0,0)"/><stop offset="0.2917" stop-color="rgb(220,0,0)"/><stop offset="0.3750" stop-color="rgb(220,0,0)"/><stop offset="0.4583" stop-color="rgb(220,0,0)"/><stop offset="0.5417" stop-color="rgb(250,0,0)"/><stop offset="0.6250" stop-color="rgb(250,0,0)"/><stop offset="0.7083" stop-color="rgb(250,0,0)"/><stop offset="0.7917" stop-color="rgb(250,0,0)"/><stop offset="0.8750" stop-color="rgb(220,0,0)"/><stop offset="0.9583" stop-color="rgb(220,0,0)"/></linearGradient>
<rect x="15" y="548.1" width="157" height="14.1" fill="url(#rg10_6)"/>
<linearGradient id="rg10_7" x1="0" y1="0" x2="1" y2="0"><stop offset="0.0417" stop-color="rgb(90,0,0)"/><stop offset="0.1250" stop-color="rgb(132,0,0)"/><stop offset="0.2083" stop-color="rgb(132,0,0)"/><stop offset="0.2917" stop-color="rgb(132,0,0)"/><stop offset="0.3750" stop-color="rgb(132,0,0)"/><stop offset="0.4583" stop-color="rgb(90,0,0)"/><stop offset="0.5417" stop-color="rgb(90,0,0)"/><stop offset="0.6250" stop-color="rgb(90,0,0)"/><stop offset="0.7083" stop-color="rgb(90,0,0)"/><stop offset="0.7917" stop-color="rgb(90,0,0)"/><stop offset="0.8750" stop-color="rgb(90,0,0)"/><stop offset="0.9583" stop-color="rgb(90,0,0)"/></linearGradient>
<rect x="15" y="561.9" width="157" height="27.8" fill="url(#rg10_7)"/>
</g>
<rect x="17" y="465.6" width="153" height="110" fill="#000" opacity="0.3" filter="url(#noise)"/>
<rect x="17" y="465.6" width="153" height="110" fill="#000" opacity="0.30" filter="url(#noise2)"/>
</g>
<text x="21" y="477.0" font-size="9.3" font-weight="bold" fill="#c060c8" stroke="#fff" stroke-width="1.5" paint-order="stroke" letter-spacing="2.2">M1</text>
<rect x="18.8" y="481.8" width="21.5" height="3.7" rx="1.2" fill="#f4f4f4"/>
<rect x="19.8" y="482.8" width="19.5" height="1.7" fill="#33bb33"/>
<text x="27.6" y="572.3" font-size="3.9" fill="#ddd">200µm</text>
<rect x="25.2" y="572.9" width="15.8" height="0.8" fill="#ddd"/>
<rect x="25.2" y="572.1" width="0.6" height="1.6" fill="#ddd"/><rect x="40.4" y="572.1" width="0.6" height="1.6" fill="#ddd"/>
<clipPath id="c11"><rect x="183.5" y="465.6" width="152.5" height="110"/></clipPath>
<g clip-path="url(#c11)">
<rect x="183.5" y="465.6" width="152.5" height="110" fill="#100000"/>
<filter id="gb11" x="153.5" y="435.6" width="212.5" height="170" filterUnits="userSpaceOnUse"><feGaussianBlur stdDeviation="2.3 5.8"/></filter>
<g filter="url(#gb11)">
<linearGradient id="rg11_0" x1="0" y1="0" x2="1" y2="0"><stop offset="0.0417" stop-color="rgb(90,0,0)"/><stop offset="0.1250" stop-color="rgb(90,0,0)"/><stop offset="0.2083" stop-color="rgb(90,0,0)"/><stop offset="0.2917" stop-color="rgb(90,0,0)"/><stop offset="0.3750" stop-color="rgb(90,0,0)"/><stop offset="0.4583" stop-color="rgb(90,0,0)"/><stop offset="0.5417" stop-color="rgb(90,0,0)"/><stop offset="0.6250" stop-color="rgb(90,0,0)"/><stop offset="0.7083" stop-color="rgb(90,0,0)"/><stop offset="0.7917" stop-color="rgb(50,0,0)"/><stop offset="0.8750" stop-color="rgb(20,0,0)"/><stop offset="0.9583" stop-color="rgb(20,0,0)"/></linearGradient>
<rect x="181.5" y="451.9" width="156.5" height="27.8" fill="url(#rg11_0)"/>
<linearGradient id="rg11_1" x1="0" y1="0" x2="1" y2="0"><stop offset="0.0417" stop-color="rgb(90,0,0)"/><stop offset="0.1250" stop-color="rgb(90,0,0)"/><stop offset="0.2083" stop-color="rgb(90,0,0)"/><stop offset="0.2917" stop-color="rgb(132,0,0)"/><stop offset="0.3750" stop-color="rgb(132,0,0)"/><stop offset="0.4583" stop-color="rgb(132,0,0)"/><stop offset="0.5417" stop-color="rgb(132,0,0)"/><stop offset="0.6250" stop-color="rgb(132,0,0)"/><stop offset="0.7083" stop-color="rgb(90,0,0)"/><stop offset="0.7917" stop-color="rgb(50,0,0)"/><stop offset="0.8750" stop-color="rgb(20,0,0)"/><stop offset="0.9583" stop-color="rgb(20,0,0)"/></linearGradient>
<rect x="181.5" y="479.4" width="156.5" height="14.1" fill="url(#rg11_1)"/>
<linearGradient id="rg11_2" x1="0" y1="0" x2="1" y2="0"><stop offset="0.0417" stop-color="rgb(90,0,0)"/><stop offset="0.1250" stop-color="rgb(90,0,0)"/><stop offset="0.2083" stop-color="rgb(132,0,0)"/><stop offset="0.2917" stop-color="rgb(178,0,0)"/><stop offset="0.3750" stop-color="rgb(178,0,0)"/><stop offset="0.4583" stop-color="rgb(178,0,0)"/><stop offset="0.5417" stop-color="rgb(178,0,0)"/><stop offset="0.6250" stop-color="rgb(132,0,0)"/><stop offset="0.7083" stop-color="rgb(132,0,0)"/><stop offset="0.7917" stop-color="rgb(90,0,0)"/><stop offset="0.8750" stop-color="rgb(50,0,0)"/><stop offset="0.9583" stop-color="rgb(50,0,0)"/></linearGradient>
<rect x="181.5" y="493.1" width="156.5" height="14.1" fill="url(#rg11_2)"/>
<linearGradient id="rg11_3" x1="0" y1="0" x2="1" y2="0"><stop offset="0.0417" stop-color="rgb(90,0,0)"/><stop offset="0.1250" stop-color="rgb(90,0,0)"/><stop offset="0.2083" stop-color="rgb(132,0,0)"/><stop offset="0.2917" stop-color="rgb(178,0,0)"/><stop offset="0.3750" stop-color="rgb(250,0,0)"/><stop offset="0.4583" stop-color="rgb(250,0,0)"/><stop offset="0.5417" stop-color="rgb(250,0,0)"/><stop offset="0.6250" stop-color="rgb(220,0,0)"/><stop offset="0.7083" stop-color="rgb(178,0,0)"/><stop offset="0.7917" stop-color="rgb(132,0,0)"/><stop offset="0.8750" stop-color="rgb(90,0,0)"/><stop offset="0.9583" stop-color="rgb(90,0,0)"/></linearGradient>
<rect x="181.5" y="506.9" width="156.5" height="14.1" fill="url(#rg11_3)"/>
<linearGradient id="rg11_4" x1="0" y1="0" x2="1" y2="0"><stop offset="0.0417" stop-color="rgb(90,0,0)"/><stop offset="0.1250" stop-color="rgb(90,0,0)"/><stop offset="0.2083" stop-color="rgb(132,0,0)"/><stop offset="0.2917" stop-color="rgb(220,0,0)"/><stop offset="0.3750" stop-color="rgb(255,0,0)"/><stop offset="0.4583" stop-color="rgb(255,0,0)"/><stop offset="0.5417" stop-color="rgb(255,0,0)"/><stop offset="0.6250" stop-color="rgb(250,0,0)"/><stop offset="0.7083" stop-color="rgb(178,0,0)"/><stop offset="0.7917" stop-color="rgb(132,0,0)"/><stop offset="0.8750" stop-color="rgb(132,0,0)"/><stop offset="0.9583" stop-color="rgb(178,0,0)"/></linearGradient>
<rect x="181.5" y="520.6" width="156.5" height="14.1" fill="url(#rg11_4)"/>
<linearGradient id="rg11_5" x1="0" y1="0" x2="1" y2="0"><stop offset="0.0417" stop-color="rgb(50,0,0)"/><stop offset="0.1250" stop-color="rgb(90,0,0)"/><stop offset="0.2083" stop-color="rgb(132,0,0)"/><stop offset="0.2917" stop-color="rgb(220,0,0)"/><stop offset="0.3750" stop-color="rgb(255,0,0)"/><stop offset="0.4583" stop-color="rgb(255,0,0)"/><stop offset="0.5417" stop-color="rgb(255,0,0)"/><stop offset="0.6250" stop-color="rgb(250,0,0)"/><stop offset="0.7083" stop-color="rgb(178,0,0)"/><stop offset="0.7917" stop-color="rgb(132,0,0)"/><stop offset="0.8750" stop-color="rgb(178,0,0)"/><stop offset="0.9583" stop-color="rgb(178,0,0)"/></linearGradient>
<rect x="181.5" y="534.4" width="156.5" height="14.1" fill="url(#rg11_5)"/>
<linearGradient id="rg11_6" x1="0" y1="0" x2="1" y2="0"><stop offset="0.0417" stop-color="rgb(20,0,0)"/><stop offset="0.1250" stop-color="rgb(20,0,0)"/><stop offset="0.2083" stop-color="rgb(90,0,0)"/><stop offset="0.2917" stop-color="rgb(178,0,0)"/><stop offset="0.3750" stop-color="rgb(250,0,0)"/><stop offset="0.4583" stop-color="rgb(250,0,0)"/><stop offset="0.5417" stop-color="rgb(250,0,0)"/><stop offset="0.6250" stop-color="rgb(178,0,0)"/><stop offset="0.7083" stop-color="rgb(132,0,0)"/><stop offset="0.7917" stop-color="rgb(90,0,0)"/><stop offset="0.8750" stop-color="rgb(178,0,0)"/><stop offset="0.9583" stop-color="rgb(178,0,0)"/></linearGradient>
<rect x="181.5" y="548.1" width="156.5" height="14.1" fill="url(#rg11_6)"/>
<linearGradient id="rg11_7" x1="0" y1="0" x2="1" y2="0"><stop offset="0.0417" stop-color="rgb(0,0,0)"/><stop offset="0.1250" stop-color="rgb(0,0,0)"/><stop offset="0.2083" stop-color="rgb(50,0,0)"/><stop offset="0.2917" stop-color="rgb(132,0,0)"/><stop offset="0.3750" stop-color="rgb(178,0,0)"/><stop offset="0.4583" stop-color="rgb(220,0,0)"/><stop offset="0.5417" stop-color="rgb(178,0,0)"/><stop offset="0.6250" stop-color="rgb(132,0,0)"/><stop offset="0.7083" stop-color="rgb(50,0,0)"/><stop offset="0.7917" stop-color="rgb(50,0,0)"/><stop offset="0.8750" stop-color="rgb(90,0,0)"/><stop offset="0.9583" stop-color="rgb(132,0,0)"/></linearGradient>
<rect x="181.5" y="561.9" width="156.5" height="27.8" fill="url(#rg11_7)"/>
</g>
<rect x="183.5" y="465.6" width="152.5" height="110" fill="#000" opacity="0.25" filter="url(#noise)"/>
<rect x="183.5" y="465.6" width="152.5" height="110" fill="#000" opacity="0.30" filter="url(#noise2)"/>
</g>
<text x="187.5" y="477.0" font-size="9.3" font-weight="bold" fill="#c060c8" stroke="#fff" stroke-width="1.5" paint-order="stroke" letter-spacing="2.2">M2</text>
<rect x="185.3" y="481.8" width="21.5" height="3.7" rx="1.2" fill="#f4f4f4"/>
<rect x="186.3" y="482.8" width="19.5" height="1.7" fill="#33bb33"/>
<text x="194.1" y="572.3" font-size="3.9" fill="#ddd">200µm</text>
<rect x="191.7" y="572.9" width="15.8" height="0.8" fill="#ddd"/>
<rect x="191.7" y="572.1" width="0.6" height="1.6" fill="#ddd"/><rect x="206.9" y="572.1" width="0.6" height="1.6" fill="#ddd"/>
<rect x="358.75" y="463.75" width="325.5" height="114.5" fill="#fff" stroke="#3434dc" stroke-width="1.5"/>
<clipPath id="c12"><rect x="361" y="465.6" width="152.3" height="110"/></clipPath>
<g clip-path="url(#c12)">
<rect x="361" y="465.6" width="152.3" height="110" fill="#100000"/>
<filter id="gb12" x="331" y="435.6" width="212.3" height="170" filterUnits="userSpaceOnUse"><feGaussianBlur stdDeviation="2.3 5.8"/></filter>
<g filter="url(#gb12)">
<linearGradient id="rg12_0" x1="0" y1="0" x2="1" y2="0"><stop offset="0.0417" stop-color="rgb(20,0,0)"/><stop offset="0.1250" stop-color="rgb(50,0,0)"/><stop offset="0.2083" stop-color="rgb(90,0,0)"/><stop offset="0.2917" stop-color="rgb(132,0,0)"/><stop offset="0.3750" stop-color="rgb(132,0,0)"/><stop offset="0.4583" stop-color="rgb(178,0,0)"/><stop offset="0.5417" stop-color="rgb(132,0,0)"/><stop offset="0.6250" stop-color="rgb(132,0,0)"/><stop offset="0.7083" stop-color="rgb(132,0,0)"/><stop offset="0.7917" stop-color="rgb(90,0,0)"/><stop offset="0.8750" stop-color="rgb(50,0,0)"/><stop offset="0.9583" stop-color="rgb(50,0,0)"/></linearGradient>
<rect x="359" y="451.9" width="156.3" height="27.8" fill="url(#rg12_0)"/>
<linearGradient id="rg12_1" x1="0" y1="0" x2="1" y2="0"><stop offset="0.0417" stop-color="rgb(20,0,0)"/><stop offset="0.1250" stop-color="rgb(50,0,0)"/><stop offset="0.2083" stop-color="rgb(90,0,0)"/><stop offset="0.2917" stop-color="rgb(132,0,0)"/><stop offset="0.3750" stop-color="rgb(178,0,0)"/><stop offset="0.4583" stop-color="rgb(178,0,0)"/><stop offset="0.5417" stop-color="rgb(178,0,0)"/><stop offset="0.6250" stop-color="rgb(132,0,0)"/><stop offset="0.7083" stop-color="rgb(132,0,0)"/><stop offset="0.7917" stop-color="rgb(90,0,0)"/><stop offset="0.8750" stop-color="rgb(50,0,0)"/><stop offset="0.9583" stop-color="rgb(50,0,0)"/></linearGradient>
<rect x="359" y="479.4" width="156.3" height="14.1" fill="url(#rg12_1)"/>
<linearGradient id="rg12_2" x1="0" y1="0" x2="1" y2="0"><stop offset="0.0417" stop-color="rgb(20,0,0)"/><stop offset="0.1250" stop-color="rgb(20,0,0)"/><stop offset="0.2083" stop-color="rgb(50,0,0)"/><stop offset="0.2917" stop-color="rgb(90,0,0)"/><stop offset="0.3750" stop-color="rgb(132,0,0)"/><stop offset="0.4583" stop-color="rgb(178,0,0)"/><stop offset="0.5417" stop-color="rgb(132,0,0)"/><stop offset="0.6250" stop-color="rgb(178,0,0)"/><stop offset="0.7083" stop-color="rgb(132,0,0)"/><stop offset="0.7917" stop-color="rgb(90,0,0)"/><stop offset="0.8750" stop-color="rgb(50,0,0)"/><stop offset="0.9583" stop-color="rgb(50,0,0)"/></linearGradient>
<rect x="359" y="493.1" width="156.3" height="14.1" fill="url(#rg12_2)"/>
<linearGradient id="rg12_3" x1="0" y1="0" x2="1" y2="0"><stop offset="0.0417" stop-color="rgb(20,0,0)"/><stop offset="0.1250" stop-color="rgb(20,0,0)"/><stop offset="0.2083" stop-color="rgb(50,0,0)"/><stop offset="0.2917" stop-color="rgb(90,0,0)"/><stop offset="0.3750" stop-color="rgb(132,0,0)"/><stop offset="0.4583" stop-color="rgb(90,0,0)"/><stop offset="0.5417" stop-color="rgb(132,0,0)"/><stop offset="0.6250" stop-color="rgb(178,0,0)"/><stop offset="0.7083" stop-color="rgb(132,0,0)"/><stop offset="0.7917" stop-color="rgb(90,0,0)"/><stop offset="0.8750" stop-color="rgb(50,0,0)"/><stop offset="0.9583" stop-color="rgb(50,0,0)"/></linearGradient>
<rect x="359" y="506.9" width="156.3" height="14.1" fill="url(#rg12_3)"/>
<linearGradient id="rg12_4" x1="0" y1="0" x2="1" y2="0"><stop offset="0.0417" stop-color="rgb(20,0,0)"/><stop offset="0.1250" stop-color="rgb(20,0,0)"/><stop offset="0.2083" stop-color="rgb(50,0,0)"/><stop offset="0.2917" stop-color="rgb(90,0,0)"/><stop offset="0.3750" stop-color="rgb(132,0,0)"/><stop offset="0.4583" stop-color="rgb(132,0,0)"/><stop offset="0.5417" stop-color="rgb(178,0,0)"/><stop offset="0.6250" stop-color="rgb(178,0,0)"/><stop offset="0.7083" stop-color="rgb(132,0,0)"/><stop offset="0.7917" stop-color="rgb(90,0,0)"/><stop offset="0.8750" stop-color="rgb(50,0,0)"/><stop offset="0.9583" stop-color="rgb(50,0,0)"/></linearGradient>
<rect x="359" y="520.6" width="156.3" height="14.1" fill="url(#rg12_4)"/>
<linearGradient id="rg12_5" x1="0" y1="0" x2="1" y2="0"><stop offset="0.0417" stop-color="rgb(20,0,0)"/><stop offset="0.1250" stop-color="rgb(20,0,0)"/><stop offset="0.2083" stop-color="rgb(50,0,0)"/><stop offset="0.2917" stop-color="rgb(90,0,0)"/><stop offset="0.3750" stop-color="rgb(132,0,0)"/><stop offset="0.4583" stop-color="rgb(178,0,0)"/><stop offset="0.5417" stop-color="rgb(220,0,0)"/><stop offset="0.6250" stop-color="rgb(178,0,0)"/><stop offset="0.7083" stop-color="rgb(178,0,0)"/><stop offset="0.7917" stop-color="rgb(90,0,0)"/><stop offset="0.8750" stop-color="rgb(50,0,0)"/><stop offset="0.9583" stop-color="rgb(50,0,0)"/></linearGradient>
<rect x="359" y="534.4" width="156.3" height="14.1" fill="url(#rg12_5)"/>
<linearGradient id="rg12_6" x1="0" y1="0" x2="1" y2="0"><stop offset="0.0417" stop-color="rgb(20,0,0)"/><stop offset="0.1250" stop-color="rgb(20,0,0)"/><stop offset="0.2083" stop-color="rgb(50,0,0)"/><stop offset="0.2917" stop-color="rgb(132,0,0)"/><stop offset="0.3750" stop-color="rgb(178,0,0)"/><stop offset="0.4583" stop-color="rgb(178,0,0)"/><stop offset="0.5417" stop-color="rgb(220,0,0)"/><stop offset="0.6250" stop-color="rgb(220,0,0)"/><stop offset="0.7083" stop-color="rgb(178,0,0)"/><stop offset="0.7917" stop-color="rgb(132,0,0)"/><stop offset="0.8750" stop-color="rgb(90,0,0)"/><stop offset="0.9583" stop-color="rgb(90,0,0)"/></linearGradient>
<rect x="359" y="548.1" width="156.3" height="14.1" fill="url(#rg12_6)"/>
<linearGradient id="rg12_7" x1="0" y1="0" x2="1" y2="0"><stop offset="0.0417" stop-color="rgb(20,0,0)"/><stop offset="0.1250" stop-color="rgb(20,0,0)"/><stop offset="0.2083" stop-color="rgb(50,0,0)"/><stop offset="0.2917" stop-color="rgb(132,0,0)"/><stop offset="0.3750" stop-color="rgb(178,0,0)"/><stop offset="0.4583" stop-color="rgb(178,0,0)"/><stop offset="0.5417" stop-color="rgb(220,0,0)"/><stop offset="0.6250" stop-color="rgb(220,0,0)"/><stop offset="0.7083" stop-color="rgb(178,0,0)"/><stop offset="0.7917" stop-color="rgb(132,0,0)"/><stop offset="0.8750" stop-color="rgb(90,0,0)"/><stop offset="0.9583" stop-color="rgb(90,0,0)"/></linearGradient>
<rect x="359" y="561.9" width="156.3" height="27.8" fill="url(#rg12_7)"/>
</g>
<rect x="361" y="465.6" width="152.3" height="110" fill="#000" opacity="0.45" filter="url(#noise)"/>
<rect x="361" y="465.6" width="152.3" height="110" fill="#000" opacity="0.25" filter="url(#noise2)"/>
<circle cx="411.2" cy="502.4" r="0.84" fill="#30d030"/>
<circle cx="491.9" cy="572.8" r="0.64" fill="#30d030"/>
<circle cx="409.8" cy="569.8" r="0.66" fill="#30d030"/>
<circle cx="408.9" cy="571.7" r="0.89" fill="#30d030"/>
<circle cx="405.4" cy="542.0" r="0.75" fill="#30d030"/>
<circle cx="448.7" cy="492.3" r="0.71" fill="#30d030"/>
<circle cx="485.4" cy="508.8" r="0.63" fill="#30d030"/>
<circle cx="446.9" cy="530.7" r="0.76" fill="#30d030"/>
<circle cx="464.8" cy="526.1" r="0.89" fill="#30d030"/>
<circle cx="431.3" cy="543.5" r="0.73" fill="#30d030"/>
<circle cx="405.4" cy="541.8" r="0.85" fill="#30d030"/>
<circle cx="482.2" cy="510.6" r="0.75" fill="#30d030"/>
<circle cx="457.5" cy="492.2" r="0.8" fill="#30d030"/>
<circle cx="469.9" cy="552.4" r="0.62" fill="#30d030"/>
</g>
<text x="365" y="477.0" font-size="9.3" font-weight="bold" fill="#2e2ee0" stroke="#fff" stroke-width="1.5" paint-order="stroke" letter-spacing="2.2">M1</text>
<rect x="362.8" y="481.8" width="21.5" height="3.7" rx="1.2" fill="#f4f4f4"/>
<rect x="363.8" y="482.8" width="19.5" height="1.7" fill="#e00000"/>
<text x="371.6" y="572.3" font-size="3.9" fill="#ddd">200µm</text>
<rect x="369.2" y="572.9" width="15.8" height="0.8" fill="#ddd"/>
<rect x="369.2" y="572.1" width="0.6" height="1.6" fill="#ddd"/><rect x="384.4" y="572.1" width="0.6" height="1.6" fill="#ddd"/>
<clipPath id="c13"><rect x="528" y="465.6" width="152.5" height="110"/></clipPath>
<g clip-path="url(#c13)">
<rect x="528" y="465.6" width="152.5" height="110" fill="#100000"/>
<filter id="gb13" x="498" y="435.6" width="212.5" height="170" filterUnits="userSpaceOnUse"><feGaussianBlur stdDeviation="2.3 5.8"/></filter>
<g filter="url(#gb13)">
<linearGradient id="rg13_0" x1="0" y1="0" x2="1" y2="0"><stop offset="0.0417" stop-color="rgb(132,0,0)"/><stop offset="0.1250" stop-color="rgb(132,0,0)"/><stop offset="0.2083" stop-color="rgb(132,0,0)"/><stop offset="0.2917" stop-color="rgb(132,0,0)"/><stop offset="0.3750" stop-color="rgb(132,0,0)"/><stop offset="0.4583" stop-color="rgb(132,0,0)"/><stop offset="0.5417" stop-color="rgb(178,0,0)"/><stop offset="0.6250" stop-color="rgb(178,0,0)"/><stop offset="0.7083" stop-color="rgb(178,0,0)"/><stop offset="0.7917" stop-color="rgb(220,0,0)"/><stop offset="0.8750" stop-color="rgb(178,0,0)"/><stop offset="0.9583" stop-color="rgb(90,0,0)"/></linearGradient>
<rect x="526" y="451.9" width="156.5" height="27.8" fill="url(#rg13_0)"/>
<linearGradient id="rg13_1" x1="0" y1="0" x2="1" y2="0"><stop offset="0.0417" stop-color="rgb(132,0,0)"/><stop offset="0.1250" stop-color="rgb(90,0,0)"/><stop offset="0.2083" stop-color="rgb(90,0,0)"/><stop offset="0.2917" stop-color="rgb(90,0,0)"/><stop offset="0.3750" stop-color="rgb(132,0,0)"/><stop offset="0.4583" stop-color="rgb(132,0,0)"/><stop offset="0.5417" stop-color="rgb(178,0,0)"/><stop offset="0.6250" stop-color="rgb(178,0,0)"/><stop offset="0.7083" stop-color="rgb(220,0,0)"/><stop offset="0.7917" stop-color="rgb(220,0,0)"/><stop offset="0.8750" stop-color="rgb(132,0,0)"/><stop offset="0.9583" stop-color="rgb(50,0,0)"/></linearGradient>
<rect x="526" y="479.4" width="156.5" height="14.1" fill="url(#rg13_1)"/>
<linearGradient id="rg13_2" x1="0" y1="0" x2="1" y2="0"><stop offset="0.0417" stop-color="rgb(132,0,0)"/><stop offset="0.1250" stop-color="rgb(90,0,0)"/><stop offset="0.2083" stop-color="rgb(90,0,0)"/><stop offset="0.2917" stop-color="rgb(90,0,0)"/><stop offset="0.3750" stop-color="rgb(90,0,0)"/><stop offset="0.4583" stop-color="rgb(90,0,0)"/><stop offset="0.5417" stop-color="rgb(132,0,0)"/><stop offset="0.6250" stop-color="rgb(178,0,0)"/><stop offset="0.7083" stop-color="rgb(220,0,0)"/><stop offset="0.7917" stop-color="rgb(250,0,0)"/><stop offset="0.8750" stop-color="rgb(132,0,0)"/><stop offset="0.9583" stop-color="rgb(50,0,0)"/></linearGradient>
<rect x="526" y="493.1" width="156.5" height="14.1" fill="url(#rg13_2)"/>
<linearGradient id="rg13_3" x1="0" y1="0" x2="1" y2="0"><stop offset="0.0417" stop-color="rgb(132,0,0)"/><stop offset="0.1250" stop-color="rgb(90,0,0)"/><stop offset="0.2083" stop-color="rgb(90,0,0)"/><stop offset="0.2917" stop-color="rgb(90,0,0)"/><stop offset="0.3750" stop-color="rgb(90,0,0)"/><stop offset="0.4583" stop-color="rgb(132,0,0)"/><stop offset="0.5417" stop-color="rgb(178,0,0)"/><stop offset="0.6250" stop-color="rgb(220,0,0)"/><stop offset="0.7083" stop-color="rgb(220,0,0)"/><stop offset="0.7917" stop-color="rgb(178,0,0)"/><stop offset="0.8750" stop-color="rgb(178,0,0)"/><stop offset="0.9583" stop-color="rgb(132,0,0)"/></linearGradient>
<rect x="526" y="506.9" width="156.5" height="14.1" fill="url(#rg13_3)"/>
<linearGradient id="rg13_4" x1="0" y1="0" x2="1" y2="0"><stop offset="0.0417" stop-color="rgb(132,0,0)"/><stop offset="0.1250" stop-color="rgb(90,0,0)"/><stop offset="0.2083" stop-color="rgb(90,0,0)"/><stop offset="0.2917" stop-color="rgb(90,0,0)"/><stop offset="0.3750" stop-color="rgb(90,0,0)"/><stop offset="0.4583" stop-color="rgb(90,0,0)"/><stop offset="0.5417" stop-color="rgb(132,0,0)"/><stop offset="0.6250" stop-color="rgb(178,0,0)"/><stop offset="0.7083" stop-color="rgb(178,0,0)"/><stop offset="0.7917" stop-color="rgb(178,0,0)"/><stop offset="0.8750" stop-color="rgb(178,0,0)"/><stop offset="0.9583" stop-color="rgb(178,0,0)"/></linearGradient>
<rect x="526" y="520.6" width="156.5" height="14.1" fill="url(#rg13_4)"/>
<linearGradient id="rg13_5" x1="0" y1="0" x2="1" y2="0"><stop offset="0.0417" stop-color="rgb(132,0,0)"/><stop offset="0.1250" stop-color="rgb(90,0,0)"/><stop offset="0.2083" stop-color="rgb(90,0,0)"/><stop offset="0.2917" stop-color="rgb(90,0,0)"/><stop offset="0.3750" stop-color="rgb(50,0,0)"/><stop offset="0.4583" stop-color="rgb(90,0,0)"/><stop offset="0.5417" stop-color="rgb(90,0,0)"/><stop offset="0.6250" stop-color="rgb(132,0,0)"/><stop offset="0.7083" stop-color="rgb(178,0,0)"/><stop offset="0.7917" stop-color="rgb(178,0,0)"/><stop offset="0.8750" stop-color="rgb(178,0,0)"/><stop offset="0.9583" stop-color="rgb(178,0,0)"/></linearGradient>
<rect x="526" y="534.4" width="156.5" height="14.1" fill="url(#rg13_5)"/>
<linearGradient id="rg13_6" x1="0" y1="0" x2="1" y2="0"><stop offset="0.0417" stop-color="rgb(132,0,0)"/><stop offset="0.1250" stop-color="rgb(132,0,0)"/><stop offset="0.2083" stop-color="rgb(90,0,0)"/><stop offset="0.2917" stop-color="rgb(90,0,0)"/><stop offset="0.3750" stop-color="rgb(90,0,0)"/><stop offset="0.4583" stop-color="rgb(132,0,0)"/><stop offset="0.5417" stop-color="rgb(132,0,0)"/><stop offset="0.6250" stop-color="rgb(132,0,0)"/><stop offset="0.7083" stop-color="rgb(132,0,0)"/><stop offset="0.7917" stop-color="rgb(178,0,0)"/><stop offset="0.8750" stop-color="rgb(178,0,0)"/><stop offset="0.9583" stop-color="rgb(178,0,0)"/></linearGradient>
<rect x="526" y="548.1" width="156.5" height="14.1" fill="url(#rg13_6)"/>
<linearGradient id="rg13_7" x1="0" y1="0" x2="1" y2="0"><stop offset="0.0417" stop-color="rgb(132,0,0)"/><stop offset="0.1250" stop-color="rgb(132,0,0)"/><stop offset="0.2083" stop-color="rgb(90,0,0)"/><stop offset="0.2917" stop-color="rgb(90,0,0)"/><stop offset="0.3750" stop-color="rgb(132,0,0)"/><stop offset="0.4583" stop-color="rgb(178,0,0)"/><stop offset="0.5417" stop-color="rgb(178,0,0)"/><stop offset="0.6250" stop-color="rgb(132,0,0)"/><stop offset="0.7083" stop-color="rgb(132,0,0)"/><stop offset="0.7917" stop-color="rgb(132,0,0)"/><stop offset="0.8750" stop-color="rgb(178,0,0)"/><stop offset="0.9583" stop-color="rgb(178,0,0)"/></linearGradient>
<rect x="526" y="561.9" width="156.5" height="27.8" fill="url(#rg13_7)"/>
</g>
<rect x="528" y="465.6" width="152.5" height="110" fill="#000" opacity="0.2" filter="url(#noise)"/>
<rect x="528" y="465.6" width="152.5" height="110" fill="#000" opacity="0.30" filter="url(#noise2)"/>
</g>
<text x="532" y="477.0" font-size="9.3" font-weight="bold" fill="#2e2ee0" stroke="#fff" stroke-width="1.5" paint-order="stroke" letter-spacing="2.2">M2</text>
<rect x="529.8" y="481.8" width="21.5" height="3.7" rx="1.2" fill="#f4f4f4"/>
<rect x="530.8" y="482.8" width="19.5" height="1.7" fill="#33bb33"/>
<text x="538.6" y="572.3" font-size="3.9" fill="#ddd">200µm</text>
<rect x="536.2" y="572.9" width="15.8" height="0.8" fill="#ddd"/>
<rect x="536.2" y="572.1" width="0.6" height="1.6" fill="#ddd"/><rect x="551.4" y="572.1" width="0.6" height="1.6" fill="#ddd"/>
<text transform="translate(177.75 158.8) scale(1 1.0)" x="0" y="0" font-size="13.65" font-weight="bold" fill="#6c6c6c" text-anchor="middle">Mock&#160;&#160;(0 d &amp; 7 d)</text>
<text transform="translate(525.4 157.9) scale(1 1.1)" x="0" y="0" font-size="13.5" font-weight="bold" fill="#36b836" text-anchor="middle">G<tspan font-size="8.9" dy="2.6">DIII</tspan><tspan dy="-2.6">-Ferritin Single-dose (30 µg, 0 d)</tspan></text>
<text transform="translate(176.9 307.3) scale(1 1.06)" x="0" y="0" font-size="13.5" font-weight="bold" fill="#c40000" text-anchor="middle">G<tspan font-size="8.9" dy="2.6">DIII</tspan><tspan dy="-2.6">-Ferritin Single-dose (60 µg, 0 d)</tspan></text>
<text transform="translate(527.1 308) scale(1 1.1)" x="0" y="0" font-size="13.5" font-weight="bold" fill="#22c6d2" text-anchor="middle">BRP Single-dose (8.6 mg, 0 d)</text>
<text transform="translate(180.3 456.4) scale(1 1.07)" x="0" y="0" font-size="13.5" font-weight="bold" fill="#b444bc" text-anchor="middle">G<tspan font-size="8.9" dy="2.6">DIII</tspan><tspan dy="-2.6">-Ferritin Two-dose (30 µg/dose, 0 d &amp; 7 d)</tspan></text>
<text transform="translate(534.4 456.6) scale(1 1.1)" x="0" y="0" font-size="13.4" font-weight="bold" fill="#2424ec" text-anchor="middle">BRP Two-dose (8.6 mg/dose, 0 d &amp; 7 d)</text>
<g stroke="#111" stroke-width="1.3" fill="none">
<line x1="75.3" y1="634.0999999999999" x2="75.3" y2="777.8"/>
<line x1="74.7" y1="777.8" x2="350.3" y2="777.8"/>
<line x1="71.89999999999999" y1="777.8" x2="75.3" y2="777.8"/>
<line x1="71.89999999999999" y1="749.2" x2="75.3" y2="749.2"/>
<line x1="71.89999999999999" y1="720.6" x2="75.3" y2="720.6"/>
<line x1="71.89999999999999" y1="691.9" x2="75.3" y2="691.9"/>
<line x1="71.89999999999999" y1="663.3" x2="75.3" y2="663.3"/>
<line x1="71.89999999999999" y1="634.7" x2="75.3" y2="634.7"/>
<line x1="96.6" y1="777.8" x2="96.6" y2="781.1999999999999"/>
<line x1="129.5" y1="777.8" x2="129.5" y2="781.1999999999999"/>
<line x1="162.4" y1="777.8" x2="162.4" y2="781.1999999999999"/>
<line x1="195.3" y1="777.8" x2="195.3" y2="781.1999999999999"/>
<line x1="228.2" y1="777.8" x2="228.2" y2="781.1999999999999"/>
<line x1="261.1" y1="777.8" x2="261.1" y2="781.1999999999999"/>
<line x1="294.0" y1="777.8" x2="294.0" y2="781.1999999999999"/>
<line x1="326.9" y1="777.8" x2="326.9" y2="781.1999999999999"/>
</g>
<text x="70.4" y="781.9" font-size="11.4" font-weight="bold" fill="#000" text-anchor="end" >0</text>
<text x="70.4" y="753.3" font-size="11.4" font-weight="bold" fill="#000" text-anchor="end" >2</text>
<text x="70.4" y="724.7" font-size="11.4" font-weight="bold" fill="#000" text-anchor="end" >4</text>
<text x="70.4" y="696.0" font-size="11.4" font-weight="bold" fill="#000" text-anchor="end" >6</text>
<text x="70.4" y="667.4" font-size="11.4" font-weight="bold" fill="#000" text-anchor="end" >8</text>
<text x="70.4" y="638.8" font-size="11.4" font-weight="bold" fill="#000" text-anchor="end" >10</text>
<text transform="translate(47.2 704) rotate(-90)" font-size="14.3" font-weight="bold" text-anchor="middle">Virus Load (Log<tspan font-size="9.5" dy="2.8">10</tspan><tspan dy="-2.8">/g Brain)</tspan></text>
<line x1="75.3" y1="697.8" x2="350.5" y2="697.8" stroke="#222" stroke-width="1.3" stroke-dasharray="3.6 2.4"/>
<rect x="87" y="776.3" width="19" height="2.6" fill="#c8c800"/>
<circle cx="90" cy="777.6" r="1.85" fill="#fff" stroke="#1a9a1a" stroke-width="1.15"/>
<circle cx="104.5" cy="777.6" r="1.85" fill="#fff" stroke="#1a9a1a" stroke-width="1.15"/>
<g stroke="#ff7070" stroke-width="1.3"><line x1="130" y1="636.5" x2="130" y2="653.9"/><line x1="124.5" y1="636.5" x2="135.5" y2="636.5"/><line x1="124.5" y1="653.9" x2="135.5" y2="653.9"/></g>
<rect x="119.1" y="647" width="21.9" height="3.4" fill="#ff8080"/>
<circle cx="130" cy="636.5" r="1.85" fill="#fff" stroke="#d01010" stroke-width="1.15"/>
<circle cx="130" cy="648.7" r="1.85" fill="#fff" stroke="#d01010" stroke-width="1.15"/>
<circle cx="130" cy="653.9" r="1.85" fill="#fff" stroke="#d01010" stroke-width="1.15"/>
<g stroke="#777" stroke-width="1.3"><line x1="162.9" y1="650.4" x2="162.9" y2="672.8"/><line x1="158" y1="650.4" x2="168.3" y2="650.4"/><line x1="158" y1="672.8" x2="168.3" y2="672.8"/></g>
<rect x="152.3" y="654.3" width="21.1" height="8" fill="#999" stroke="#888" stroke-width="0.8"/>
<circle cx="167.6" cy="650.4" r="1.85" fill="#fff" stroke="#d01010" stroke-width="1.15"/>
<circle cx="154.2" cy="653.3" r="1.85" fill="#fff" stroke="#d01010" stroke-width="1.15"/>
<circle cx="158.8" cy="654.7" r="1.85" fill="#fff" stroke="#d01010" stroke-width="1.15"/>
<circle cx="153.7" cy="658" r="1.85" fill="#fff" stroke="#d01010" stroke-width="1.15"/>
<circle cx="162.9" cy="656.5" r="1.85" fill="#fff" stroke="#d01010" stroke-width="1.15"/>
<circle cx="167.6" cy="656.2" r="1.85" fill="#fff" stroke="#d01010" stroke-width="1.15"/>
<circle cx="172" cy="658" r="1.85" fill="#fff" stroke="#d01010" stroke-width="1.15"/>
<circle cx="162.9" cy="661.3" r="1.85" fill="#fff" stroke="#d01010" stroke-width="1.15"/>
<circle cx="162.9" cy="666" r="1.85" fill="#fff" stroke="#d01010" stroke-width="1.15"/>
<circle cx="162.9" cy="673.3" r="1.85" fill="#fff" stroke="#d01010" stroke-width="1.15"/>
<g stroke="#0a8a0a" stroke-width="1.4"><line x1="196" y1="655.3" x2="196" y2="740"/><line x1="191" y1="655.3" x2="201.3" y2="655.3"/><line x1="191" y1="740" x2="201.3" y2="740"/></g>
<rect x="185.9" y="659.5" width="19.9" height="65" fill="#00b400" stroke="#0a8a0a" stroke-width="1.4"/>
<line x1="185.9" y1="695" x2="205.8" y2="695" stroke="#0a7a0a" stroke-width="1.2"/>
<circle cx="186.7" cy="655.3" r="1.85" fill="#fff" stroke="#d01010" stroke-width="1.15"/>
<circle cx="192.8" cy="658.9" r="1.85" fill="#fff" stroke="#d01010" stroke-width="1.15"/>
<circle cx="199.1" cy="657.7" r="1.85" fill="#fff" stroke="#d01010" stroke-width="1.15"/>
<circle cx="204.9" cy="659.2" r="1.85" fill="#fff" stroke="#d01010" stroke-width="1.15"/>
<circle cx="192.8" cy="670.3" r="1.85" fill="#fff" stroke="#d01010" stroke-width="1.15"/>
<circle cx="186.7" cy="719.7" r="1.85" fill="#fff" stroke="#1a9a1a" stroke-width="1.15"/>
<circle cx="192.8" cy="722.6" r="1.85" fill="#fff" stroke="#1a9a1a" stroke-width="1.15"/>
<circle cx="204.9" cy="719.3" r="1.85" fill="#fff" stroke="#1a9a1a" stroke-width="1.15"/>
<circle cx="192.8" cy="735.3" r="1.85" fill="#fff" stroke="#1a9a1a" stroke-width="1.15"/>
<circle cx="192.8" cy="740.4" r="1.85" fill="#fff" stroke="#1a9a1a" stroke-width="1.15"/>
<g stroke="#c00000" stroke-width="1.4"><line x1="228.8" y1="708.7" x2="228.8" y2="777.6"/><line x1="223" y1="708.7" x2="234.3" y2="708.7"/><line x1="221" y1="777.6" x2="236.3" y2="777.6"/></g>
<rect x="219" y="715.9" width="19.9" height="42.6" fill="#ff0000" stroke="#c00000" stroke-width="1.4"/>
<circle cx="228.6" cy="708.7" r="1.85" fill="#fff" stroke="#1a9a1a" stroke-width="1.15"/>
<circle cx="236.2" cy="713" r="1.85" fill="#fff" stroke="#1a9a1a" stroke-width="1.15"/>
<circle cx="228.6" cy="715.6" r="1.85" fill="#fff" stroke="#1a9a1a" stroke-width="1.15"/>
<circle cx="228.6" cy="719.7" r="1.85" fill="#fff" stroke="#1a9a1a" stroke-width="1.15"/>
<circle cx="221.3" cy="720.7" r="1.85" fill="#fff" stroke="#1a9a1a" stroke-width="1.15"/>
<circle cx="236.2" cy="721.7" r="1.85" fill="#fff" stroke="#1a9a1a" stroke-width="1.15"/>
<circle cx="228.6" cy="734.8" r="1.85" fill="#fff" stroke="#1a9a1a" stroke-width="1.15"/>
<circle cx="228.6" cy="753.2" r="1.85" fill="#fff" stroke="#1a9a1a" stroke-width="1.15"/>
<circle cx="221.3" cy="777.6" r="1.85" fill="#fff" stroke="#1a9a1a" stroke-width="1.15"/>
<circle cx="236.2" cy="777.6" r="1.85" fill="#fff" stroke="#1a9a1a" stroke-width="1.15"/>
<g stroke="#20dada" stroke-width="1.4"><line x1="261.8" y1="651.6" x2="261.8" y2="718.5"/><line x1="258.5" y1="718.5" x2="267.1" y2="718.5"/></g>
<rect x="251" y="651.6" width="21.6" height="24.6" fill="#22e8e8"/>
<line x1="251" y1="657.8" x2="272.6" y2="657.8" stroke="#10c8c8" stroke-width="0.8"/>
<circle cx="252.2" cy="652.4" r="1.85" fill="#fff" stroke="#d01010" stroke-width="1.15"/>
<circle cx="258.8" cy="651.6" r="1.85" fill="#fff" stroke="#d01010" stroke-width="1.15"/>
<circle cx="264.8" cy="654" r="1.85" fill="#fff" stroke="#d01010" stroke-width="1.15"/>
<circle cx="271" cy="651.6" r="1.85" fill="#fff" stroke="#d01010" stroke-width="1.15"/>
<circle cx="258.8" cy="656.9" r="1.85" fill="#fff" stroke="#d01010" stroke-width="1.15"/>
<circle cx="258.8" cy="660.3" r="1.85" fill="#fff" stroke="#d01010" stroke-width="1.15"/>
<circle cx="252.2" cy="663.6" r="1.85" fill="#fff" stroke="#d01010" stroke-width="1.15"/>
<circle cx="264.8" cy="664" r="1.85" fill="#fff" stroke="#d01010" stroke-width="1.15"/>
<circle cx="258.8" cy="714" r="1.85" fill="#fff" stroke="#1a9a1a" stroke-width="1.15"/>
<circle cx="258.8" cy="718.5" r="1.85" fill="#fff" stroke="#1a9a1a" stroke-width="1.15"/>
<g stroke="#c050a8" stroke-width="1.4"><line x1="294.6" y1="731" x2="294.6" y2="740"/><line x1="289.4" y1="731" x2="296.2" y2="731"/></g>
<rect x="284.2" y="734.4" width="21.3" height="43.4" fill="#cc5aaa"/>
<line x1="284.2" y1="757" x2="305.5" y2="757" stroke="#b04898" stroke-width="0.8"/>
<circle cx="291.4" cy="734.4" r="1.85" fill="#fff" stroke="#1a9a1a" stroke-width="1.15"/>
<circle cx="297.6" cy="731" r="1.85" fill="#fff" stroke="#1a9a1a" stroke-width="1.15"/>
<circle cx="303.6" cy="734.4" r="1.85" fill="#fff" stroke="#1a9a1a" stroke-width="1.15"/>
<circle cx="291.4" cy="757" r="1.85" fill="#fff" stroke="#1a9a1a" stroke-width="1.15"/>
<circle cx="297.6" cy="756.3" r="1.85" fill="#fff" stroke="#1a9a1a" stroke-width="1.15"/>
<circle cx="303.6" cy="753.8" r="1.85" fill="#fff" stroke="#1a9a1a" stroke-width="1.15"/>
<circle cx="285.5" cy="777.6" r="1.85" fill="#fff" stroke="#1a9a1a" stroke-width="1.15"/>
<circle cx="291.4" cy="777.6" r="1.85" fill="#fff" stroke="#1a9a1a" stroke-width="1.15"/>
<circle cx="297.6" cy="777.6" r="1.85" fill="#fff" stroke="#1a9a1a" stroke-width="1.15"/>
<circle cx="303.6" cy="777.6" r="1.85" fill="#fff" stroke="#1a9a1a" stroke-width="1.15"/>
<g stroke="#1010c8" stroke-width="1.4"><line x1="327.6" y1="679.7" x2="327.6" y2="777.6"/><line x1="322.4" y1="679.7" x2="332.6" y2="679.7"/><line x1="322.4" y1="777.6" x2="332.6" y2="777.6"/></g>
<rect x="317.2" y="698.3" width="20.9" height="27.1" fill="#0000ee" stroke="#0000b0" stroke-width="1.2"/>
<line x1="317.5" y1="710.5" x2="337.8" y2="710.5" stroke="#000090" stroke-width="1"/>
<circle cx="327.6" cy="679.7" r="1.85" fill="#fff" stroke="#d01010" stroke-width="1.15"/>
<circle cx="327.6" cy="685.3" r="1.85" fill="#fff" stroke="#d01010" stroke-width="1.15"/>
<circle cx="327.6" cy="701.4" r="1.85" fill="#fff" stroke="#1a9a1a" stroke-width="1.15"/>
<circle cx="320" cy="704.3" r="1.85" fill="#fff" stroke="#1a9a1a" stroke-width="1.15"/>
<circle cx="335" cy="705" r="1.85" fill="#fff" stroke="#1a9a1a" stroke-width="1.15"/>
<circle cx="320" cy="718.3" r="1.85" fill="#fff" stroke="#1a9a1a" stroke-width="1.15"/>
<circle cx="327.6" cy="717" r="1.85" fill="#fff" stroke="#1a9a1a" stroke-width="1.15"/>
<circle cx="327.6" cy="721.4" r="1.85" fill="#fff" stroke="#1a9a1a" stroke-width="1.15"/>
<circle cx="327.6" cy="739.6" r="1.85" fill="#fff" stroke="#1a9a1a" stroke-width="1.15"/>
<circle cx="327.6" cy="777.6" r="1.85" fill="#fff" stroke="#1a9a1a" stroke-width="1.15"/>
<line x1="97.3" y1="601.4" x2="225.8" y2="601.4" stroke="#111" stroke-width="1.3"/>
<line x1="130.9" y1="618.9" x2="225.8" y2="618.9" stroke="#111" stroke-width="1.3"/>
<line x1="163" y1="635" x2="225.8" y2="635" stroke="#111" stroke-width="1.3"/>
<line x1="194.7" y1="650.7" x2="225.8" y2="650.7" stroke="#111" stroke-width="1.3"/>
<line x1="231.1" y1="606" x2="327.5" y2="606" stroke="#111" stroke-width="1.3"/>
<line x1="231.1" y1="621.6" x2="294.5" y2="621.6" stroke="#111" stroke-width="1.3"/>
<line x1="231.1" y1="638.2" x2="259.5" y2="638.2" stroke="#111" stroke-width="1.3"/>
<line x1="296.5" y1="669.5" x2="327.5" y2="669.5" stroke="#111" stroke-width="1.3"/>
<text x="161.2" y="595.2" font-size="10.2" font-weight="bold" fill="#000" text-anchor="middle" >ns</text>
<text x="262.7" y="615.6" font-size="10.2" font-weight="bold" fill="#000" text-anchor="middle" >ns</text>
<path d="M167.70,609.05L167.70,614.55M165.31,610.42L170.08,613.17M170.08,610.42L165.31,613.17" stroke="#111" stroke-width="1.35" stroke-linecap="round"/>
<path d="M174.77,609.05L174.77,614.55M172.38,610.42L177.15,613.17M177.15,610.42L172.38,613.17" stroke="#111" stroke-width="1.35" stroke-linecap="round"/>
<path d="M181.84,609.05L181.84,614.55M179.45,610.42L184.22,613.17M184.22,610.42L179.45,613.17" stroke="#111" stroke-width="1.35" stroke-linecap="round"/>
<path d="M188.91,609.05L188.91,614.55M186.52,610.42L191.29,613.17M191.29,610.42L186.52,613.17" stroke="#111" stroke-width="1.35" stroke-linecap="round"/>
<path d="M184.20,625.55L184.20,631.05M181.81,626.92L186.58,629.67M186.58,626.92L181.81,629.67" stroke="#111" stroke-width="1.35" stroke-linecap="round"/>
<path d="M191.27,625.55L191.27,631.05M188.88,626.92L193.65,629.67M193.65,626.92L188.88,629.67" stroke="#111" stroke-width="1.35" stroke-linecap="round"/>
<path d="M198.34,625.55L198.34,631.05M195.95,626.92L200.72,629.67M200.72,626.92L195.95,629.67" stroke="#111" stroke-width="1.35" stroke-linecap="round"/>
<path d="M205.41,625.55L205.41,631.05M203.02,626.92L207.79,629.67M207.79,626.92L203.02,629.67" stroke="#111" stroke-width="1.35" stroke-linecap="round"/>
<path d="M206.50,640.65L206.50,646.15M204.12,642.02L208.88,644.77M208.88,642.02L204.12,644.77" stroke="#111" stroke-width="1.35" stroke-linecap="round"/>
<path d="M213.70,640.65L213.70,646.15M211.32,642.02L216.08,644.77M216.08,642.02L211.32,644.77" stroke="#111" stroke-width="1.35" stroke-linecap="round"/>
<path d="M279.60,596.05L279.60,601.55M277.22,597.42L281.98,600.17M281.98,597.42L277.22,600.17" stroke="#111" stroke-width="1.35" stroke-linecap="round"/>
<path d="M234.20,628.65L234.20,634.15M231.82,630.02L236.58,632.77M236.58,630.02L231.82,632.77" stroke="#111" stroke-width="1.35" stroke-linecap="round"/>
<path d="M241.60,628.65L241.60,634.15M239.22,630.02L243.98,632.77M243.98,630.02L239.22,632.77" stroke="#111" stroke-width="1.35" stroke-linecap="round"/>
<path d="M249.00,628.65L249.00,634.15M246.62,630.02L251.38,632.77M251.38,630.02L246.62,632.77" stroke="#111" stroke-width="1.35" stroke-linecap="round"/>
<path d="M256.40,628.65L256.40,634.15M254.02,630.02L258.78,632.77M258.78,630.02L254.02,632.77" stroke="#111" stroke-width="1.35" stroke-linecap="round"/>
<path d="M308.20,660.25L308.20,665.75M305.82,661.62L310.58,664.38M310.58,661.62L305.82,664.38" stroke="#111" stroke-width="1.35" stroke-linecap="round"/>
<path d="M315.70,660.25L315.70,665.75M313.32,661.62L318.08,664.38M318.08,661.62L313.32,664.38" stroke="#111" stroke-width="1.35" stroke-linecap="round"/>
<rect x="367.6" y="608.0" width="11.8" height="7.8" fill="#cccc00" stroke="#a8a800" stroke-width="1.2"/>
<text x="387.8" y="616.3" font-size="12.5" font-weight="bold" fill="#000" text-anchor="start" >Negtive Control</text>
<rect x="511.5" y="608.0" width="11.8" height="7.8" fill="#ffa8a8" stroke="#ff7878" stroke-width="1.2"/>
<text x="531.3" y="616.3" font-size="12.5" font-weight="bold" fill="#000" text-anchor="start" >Positive Control</text>
<rect x="367.6" y="635.0" width="11.8" height="7.8" fill="#9a9a9a" stroke="#7a7a7a" stroke-width="1.2"/>
<text x="387.8" y="643.3" font-size="12.5" font-weight="bold" fill="#000" text-anchor="start" >Mock</text>
<rect x="438.8" y="635.0" width="11.8" height="7.8" fill="#00b000" stroke="#007800" stroke-width="1.2"/>
<text x="458.8" y="643.3" font-size="12.5" font-weight="bold">G<tspan font-size="9.2" dy="2.9">DIII</tspan><tspan dy="-2.9">-Ferritin Single-dose (30 µg, 0 d)</tspan></text>
<rect x="367.6" y="663.6" width="11.8" height="7.8" fill="#ff0000" stroke="#c80000" stroke-width="1.2"/>
<text x="387.8" y="671.9" font-size="12.5" font-weight="bold">G<tspan font-size="9.2" dy="2.9">DIII</tspan><tspan dy="-2.9">-Ferritin Single-dose (60 µg, 0 d)</tspan></text>
<rect x="367.6" y="692.4" width="11.8" height="7.8" fill="#22f0f0" stroke="#00c8c8" stroke-width="1.2"/>
<text x="387.8" y="700.7" font-size="12.5" font-weight="bold" fill="#000" text-anchor="start" >BRP Single-dose (8.6 mg, 0 d)</text>
<rect x="367.6" y="720.6" width="11.8" height="7.8" fill="#cc5aaa" stroke="#a04890" stroke-width="1.2"/>
<text x="387.8" y="728.9" font-size="12.5" font-weight="bold">G<tspan font-size="9.2" dy="2.9">DIII</tspan><tspan dy="-2.9">-Ferritin Two-dose (30 µg/dose, 0 d &amp; 7 d)</tspan></text>
<rect x="367.6" y="749.3000000000001" width="11.8" height="7.8" fill="#0000ff" stroke="#0000b0" stroke-width="1.2"/>
<text x="387.8" y="757.6" font-size="12.5" font-weight="bold" fill="#000" text-anchor="start" >BRP Two-dose (8.6 mg/dose, 0 d &amp; 7 d)</text>
<line x1="52.2" y1="874.6" x2="379.5" y2="874.6" stroke="#b8b8ee" stroke-width="1.2"/>
<line x1="379.5" y1="874.6" x2="379.5" y2="1005.5" stroke="#b0b0ea" stroke-width="1.2"/>
<line x1="52.2" y1="986.8" x2="379.5" y2="986.8" stroke="#d4d4d4" stroke-width="0.8" stroke-dasharray="1.2 1.8"/>
<line x1="52.2" y1="968.1" x2="379.5" y2="968.1" stroke="#d4d4d4" stroke-width="0.8" stroke-dasharray="1.2 1.8"/>
<line x1="52.2" y1="949.4" x2="379.5" y2="949.4" stroke="#d4d4d4" stroke-width="0.8" stroke-dasharray="1.2 1.8"/>
<line x1="52.2" y1="930.7" x2="379.5" y2="930.7" stroke="#d4d4d4" stroke-width="0.8" stroke-dasharray="1.2 1.8"/>
<line x1="52.2" y1="912.0" x2="379.5" y2="912.0" stroke="#d4d4d4" stroke-width="0.8" stroke-dasharray="1.2 1.8"/>
<line x1="52.2" y1="893.3" x2="379.5" y2="893.3" stroke="#d4d4d4" stroke-width="0.8" stroke-dasharray="1.2 1.8"/>
<polyline points="40.3,1010.3 52.2,1005.6 379.5,1005.6 391.7,1010.3" fill="none" stroke="#9a9ae6" stroke-width="1.1"/>
<line x1="40.3" y1="1010.3" x2="391.7" y2="1010.3" stroke="#222" stroke-width="1.1"/>
<line x1="44.0" y1="1009.4" x2="44.0" y2="1011.2" stroke="#333" stroke-width="0.8"/>
<line x1="51.9" y1="1009.4" x2="51.9" y2="1011.2" stroke="#333" stroke-width="0.8"/>
<line x1="59.8" y1="1009.4" x2="59.8" y2="1011.2" stroke="#333" stroke-width="0.8"/>
<line x1="67.7" y1="1009.4" x2="67.7" y2="1011.2" stroke="#333" stroke-width="0.8"/>
<line x1="75.6" y1="1009.4" x2="75.6" y2="1011.2" stroke="#333" stroke-width="0.8"/>
<line x1="83.5" y1="1009.4" x2="83.5" y2="1011.2" stroke="#333" stroke-width="0.8"/>
<line x1="91.4" y1="1009.4" x2="91.4" y2="1011.2" stroke="#333" stroke-width="0.8"/>
<line x1="99.3" y1="1009.4" x2="99.3" y2="1011.2" stroke="#333" stroke-width="0.8"/>
<line x1="107.2" y1="1009.4" x2="107.2" y2="1011.2" stroke="#333" stroke-width="0.8"/>
<line x1="115.1" y1="1009.4" x2="115.1" y2="1011.2" stroke="#333" stroke-width="0.8"/>
<line x1="123.0" y1="1009.4" x2="123.0" y2="1011.2" stroke="#333" stroke-width="0.8"/>
<line x1="130.9" y1="1009.4" x2="130.9" y2="1011.2" stroke="#333" stroke-width="0.8"/>
<line x1="138.8" y1="1009.4" x2="138.8" y2="1011.2" stroke="#333" stroke-width="0.8"/>
<line x1="146.7" y1="1009.4" x2="146.7" y2="1011.2" stroke="#333" stroke-width="0.8"/>
<line x1="154.6" y1="1009.4" x2="154.6" y2="1011.2" stroke="#333" stroke-width="0.8"/>
<line x1="162.5" y1="1009.4" x2="162.5" y2="1011.2" stroke="#333" stroke-width="0.8"/>
<line x1="170.4" y1="1009.4" x2="170.4" y2="1011.2" stroke="#333" stroke-width="0.8"/>
<line x1="178.3" y1="1009.4" x2="178.3" y2="1011.2" stroke="#333" stroke-width="0.8"/>
<line x1="186.2" y1="1009.4" x2="186.2" y2="1011.2" stroke="#333" stroke-width="0.8"/>
<line x1="194.1" y1="1009.4" x2="194.1" y2="1011.2" stroke="#333" stroke-width="0.8"/>
<line x1="202.0" y1="1009.4" x2="202.0" y2="1011.2" stroke="#333" stroke-width="0.8"/>
<line x1="209.9" y1="1009.4" x2="209.9" y2="1011.2" stroke="#333" stroke-width="0.8"/>
<line x1="217.8" y1="1009.4" x2="217.8" y2="1011.2" stroke="#333" stroke-width="0.8"/>
<line x1="225.7" y1="1009.4" x2="225.7" y2="1011.2" stroke="#333" stroke-width="0.8"/>
<line x1="233.6" y1="1009.4" x2="233.6" y2="1011.2" stroke="#333" stroke-width="0.8"/>
<line x1="241.5" y1="1009.4" x2="241.5" y2="1011.2" stroke="#333" stroke-width="0.8"/>
<line x1="249.4" y1="1009.4" x2="249.4" y2="1011.2" stroke="#333" stroke-width="0.8"/>
<line x1="257.3" y1="1009.4" x2="257.3" y2="1011.2" stroke="#333" stroke-width="0.8"/>
<line x1="265.2" y1="1009.4" x2="265.2" y2="1011.2" stroke="#333" stroke-width="0.8"/>
<line x1="273.1" y1="1009.4" x2="273.1" y2="1011.2" stroke="#333" stroke-width="0.8"/>
<line x1="281.0" y1="1009.4" x2="281.0" y2="1011.2" stroke="#333" stroke-width="0.8"/>
<line x1="288.9" y1="1009.4" x2="288.9" y2="1011.2" stroke="#333" stroke-width="0.8"/>
<line x1="296.8" y1="1009.4" x2="296.8" y2="1011.2" stroke="#333" stroke-width="0.8"/>
<line x1="304.7" y1="1009.4" x2="304.7" y2="1011.2" stroke="#333" stroke-width="0.8"/>
<line x1="312.6" y1="1009.4" x2="312.6" y2="1011.2" stroke="#333" stroke-width="0.8"/>
<line x1="320.5" y1="1009.4" x2="320.5" y2="1011.2" stroke="#333" stroke-width="0.8"/>
<line x1="328.4" y1="1009.4" x2="328.4" y2="1011.2" stroke="#333" stroke-width="0.8"/>
<line x1="336.3" y1="1009.4" x2="336.3" y2="1011.2" stroke="#333" stroke-width="0.8"/>
<line x1="344.2" y1="1009.4" x2="344.2" y2="1011.2" stroke="#333" stroke-width="0.8"/>
<line x1="352.1" y1="1009.4" x2="352.1" y2="1011.2" stroke="#333" stroke-width="0.8"/>
<line x1="360.0" y1="1009.4" x2="360.0" y2="1011.2" stroke="#333" stroke-width="0.8"/>
<line x1="367.9" y1="1009.4" x2="367.9" y2="1011.2" stroke="#333" stroke-width="0.8"/>
<line x1="375.8" y1="1009.4" x2="375.8" y2="1011.2" stroke="#333" stroke-width="0.8"/>
<line x1="383.7" y1="1009.4" x2="383.7" y2="1011.2" stroke="#333" stroke-width="0.8"/>
<line x1="391.6" y1="1009.4" x2="391.6" y2="1011.2" stroke="#333" stroke-width="0.8"/>
<line x1="52.2" y1="874.6" x2="52.2" y2="1005.5" stroke="#999" stroke-width="1.3"/>
<line x1="49.400000000000006" y1="1005.5" x2="52.2" y2="1005.5" stroke="#888" stroke-width="0.9"/>
<line x1="50.6" y1="996.1" x2="52.2" y2="996.1" stroke="#888" stroke-width="0.9"/>
<line x1="49.400000000000006" y1="986.8" x2="52.2" y2="986.8" stroke="#888" stroke-width="0.9"/>
<line x1="50.6" y1="977.5" x2="52.2" y2="977.5" stroke="#888" stroke-width="0.9"/>
<line x1="49.400000000000006" y1="968.1" x2="52.2" y2="968.1" stroke="#888" stroke-width="0.9"/>
<line x1="50.6" y1="958.8" x2="52.2" y2="958.8" stroke="#888" stroke-width="0.9"/>
<line x1="49.400000000000006" y1="949.4" x2="52.2" y2="949.4" stroke="#888" stroke-width="0.9"/>
<line x1="50.6" y1="940.0" x2="52.2" y2="940.0" stroke="#888" stroke-width="0.9"/>
<line x1="49.400000000000006" y1="930.7" x2="52.2" y2="930.7" stroke="#888" stroke-width="0.9"/>
<line x1="50.6" y1="921.4" x2="52.2" y2="921.4" stroke="#888" stroke-width="0.9"/>
<line x1="49.400000000000006" y1="912.0" x2="52.2" y2="912.0" stroke="#888" stroke-width="0.9"/>
<line x1="50.6" y1="902.6" x2="52.2" y2="902.6" stroke="#888" stroke-width="0.9"/>
<line x1="49.400000000000006" y1="893.3" x2="52.2" y2="893.3" stroke="#888" stroke-width="0.9"/>
<line x1="50.6" y1="884.0" x2="52.2" y2="884.0" stroke="#888" stroke-width="0.9"/>
<line x1="49.400000000000006" y1="874.6" x2="52.2" y2="874.6" stroke="#888" stroke-width="0.9"/>
<text x="45.8" y="1009.1" font-size="9.7" font-weight="bold" fill="#000" text-anchor="end" >0</text>
<text x="45.8" y="990.4" font-size="9.7" font-weight="bold" fill="#000" text-anchor="end" >20</text>
<text x="45.8" y="971.7" font-size="9.7" font-weight="bold" fill="#000" text-anchor="end" >40</text>
<text x="45.8" y="953.0" font-size="9.7" font-weight="bold" fill="#000" text-anchor="end" >60</text>
<text x="45.8" y="934.3" font-size="9.7" font-weight="bold" fill="#000" text-anchor="end" >80</text>
<text x="45.8" y="915.6" font-size="9.7" font-weight="bold" fill="#000" text-anchor="end" >100</text>
<text x="45.8" y="896.9" font-size="9.7" font-weight="bold" fill="#000" text-anchor="end" >120</text>
<text x="45.8" y="878.2" font-size="9.7" font-weight="bold" fill="#000" text-anchor="end" >140</text>
<text transform="translate(10.4 941.3) rotate(-90)" font-size="13.2" font-weight="bold" text-anchor="middle">Neutralizing antibody titer</text>
<text transform="translate(28.6 940) rotate(-90)" font-size="13" font-weight="bold" text-anchor="middle">(IU/ml)</text>
<text x="216" y="1027.7" font-size="12.8" font-weight="bold" fill="#000" text-anchor="middle" >Post challenge (21 Days)</text>
<defs>
<linearGradient id="gG" x1="0" y1="0" x2="0" y2="1"><stop offset="0" stop-color="#00e620"/><stop offset="0.2" stop-color="#00f040"/><stop offset="0.48" stop-color="#d8fce2"/><stop offset="0.58" stop-color="#c8f8d4"/><stop offset="0.78" stop-color="#10ee40"/><stop offset="1" stop-color="#00e020"/></linearGradient>
<linearGradient id="gR" x1="0" y1="0" x2="0" y2="1"><stop offset="0" stop-color="#ff1414"/><stop offset="0.15" stop-color="#ff3333"/><stop offset="0.6" stop-color="#ffd6d6"/><stop offset="0.88" stop-color="#ff3030"/><stop offset="1" stop-color="#ff1010"/></linearGradient>
<linearGradient id="gC" x1="0" y1="0" x2="0" y2="1"><stop offset="0" stop-color="#10e0e0"/><stop offset="0.5" stop-color="#c8f6f6"/><stop offset="1" stop-color="#10dcdc"/></linearGradient>
<linearGradient id="gP" x1="0" y1="0" x2="0" y2="1"><stop offset="0" stop-color="#ff50b0"/><stop offset="0.12" stop-color="#ff88cc"/><stop offset="0.35" stop-color="#ffdff2"/><stop offset="0.65" stop-color="#ffeef8"/><stop offset="0.88" stop-color="#ff90d0"/><stop offset="1" stop-color="#ff50b0"/></linearGradient>
<linearGradient id="gB" x1="0" y1="0" x2="0" y2="1"><stop offset="0" stop-color="#1c1cff"/><stop offset="0.15" stop-color="#3c3cff"/><stop offset="0.5" stop-color="#d0d0ff"/><stop offset="0.85" stop-color="#3c3cff"/><stop offset="1" stop-color="#1c1cff"/></linearGradient>
<linearGradient id="sG" x1="0" y1="0" x2="0" y2="1"><stop offset="0" stop-color="#22cc44"/><stop offset="0.5" stop-color="#d0d0d0"/><stop offset="1" stop-color="#22cc44"/></linearGradient>
<linearGradient id="sR" x1="0" y1="0" x2="0" y2="1"><stop offset="0" stop-color="#ff4a4a"/><stop offset="0.5" stop-color="#d8d0d0"/><stop offset="1" stop-color="#ff4a4a"/></linearGradient>
<linearGradient id="sC" x1="0" y1="0" x2="0" y2="1"><stop offset="0" stop-color="#22cccc"/><stop offset="0.5" stop-color="#d0d0d0"/><stop offset="1" stop-color="#22cccc"/></linearGradient>
<linearGradient id="sP" x1="0" y1="0" x2="0" y2="1"><stop offset="0" stop-color="#e060a8"/><stop offset="0.5" stop-color="#d8d0d4"/><stop offset="1" stop-color="#e060a8"/></linearGradient>
<linearGradient id="sB" x1="0" y1="0" x2="0" y2="1"><stop offset="0" stop-color="#4040ff"/><stop offset="0.5" stop-color="#d0d0dc"/><stop offset="1" stop-color="#4040ff"/></linearGradient>
</defs>
<rect x="59.9" y="968.1" width="6" height="38.7" fill="url(#gG)"/>
<rect x="68.0" y="989.0" width="6" height="17.8" fill="url(#gG)"/>
<rect x="75.8" y="996.1" width="6" height="10.6" fill="url(#gG)"/>
<rect x="83.6" y="993.3" width="6" height="13.5" fill="url(#gG)"/>
<rect x="91.4" y="999.0" width="6" height="7.8" fill="url(#gG)"/>
<rect x="106.1" y="918.5" width="6.3" height="88.3" fill="url(#gR)"/>
<rect x="114.1" y="939.7" width="6.3" height="67.1" fill="url(#gR)"/>
<rect x="122.2" y="890.1" width="6.3" height="116.7" fill="url(#gR)"/>
<rect x="130.2" y="890.1" width="6.3" height="116.7" fill="url(#gR)"/>
<rect x="138.2" y="955.8" width="6.3" height="51.0" fill="url(#gR)"/>
<rect x="146.2" y="918.5" width="6.3" height="88.3" fill="url(#gR)"/>
<rect x="154.3" y="955.8" width="6.3" height="51.0" fill="url(#gR)"/>
<rect x="162.3" y="890.1" width="6.3" height="116.7" fill="url(#gR)"/>
<rect x="170.3" y="939.7" width="6.3" height="67.1" fill="url(#gR)"/>
<rect x="178.4" y="967.9" width="6.3" height="38.9" fill="url(#gR)"/>
<rect x="194.1" y="1001.9" width="6.4" height="4.9" fill="url(#gC)"/>
<rect x="202.3" y="1003.1" width="6.4" height="3.7" fill="url(#gC)"/>
<rect x="219.0" y="955.6" width="6.2" height="51.2" fill="url(#gP)"/>
<rect x="227.1" y="888.3" width="6.2" height="118.5" fill="url(#gP)"/>
<rect x="235.1" y="940.0" width="6.2" height="66.8" fill="url(#gP)"/>
<rect x="243.5" y="888.3" width="6.2" height="118.5" fill="url(#gP)"/>
<rect x="252.0" y="955.6" width="6.2" height="51.2" fill="url(#gP)"/>
<rect x="260.1" y="968.6" width="6.2" height="38.2" fill="url(#gP)"/>
<rect x="268.3" y="917.6" width="6.2" height="89.2" fill="url(#gP)"/>
<rect x="276.8" y="888.3" width="6.2" height="118.5" fill="url(#gP)"/>
<rect x="285.0" y="955.6" width="6.2" height="51.2" fill="url(#gP)"/>
<rect x="293.4" y="968.6" width="6.2" height="38.2" fill="url(#gP)"/>
<rect x="310.8" y="999.4" width="6.6" height="10.6" fill="url(#gB)"/>
<rect x="319.5" y="992.4" width="6.6" height="17.6" fill="url(#gB)"/>
<rect x="328.0" y="1001.8" width="6.6" height="8.2" fill="url(#gB)"/>
<rect x="336.3" y="1001.8" width="6.6" height="8.2" fill="url(#gB)"/>
<rect x="344.5" y="979.0" width="6.6" height="31.0" fill="url(#gB)"/>
<rect x="353.0" y="992.4" width="6.6" height="17.6" fill="url(#gB)"/>
<rect x="361.3" y="992.4" width="6.6" height="17.6" fill="url(#gB)"/>
<rect x="369.7" y="996.6" width="6.6" height="13.4" fill="url(#gB)"/>
<rect x="54.9" y="808.7" width="19.5" height="9" fill="url(#sG)" stroke="#777" stroke-width="0.8"/>
<text x="78" y="816.4" font-size="9.3" font-weight="bold">G<tspan font-size="6.2" dy="1.8">DIII</tspan><tspan dy="-1.8">-Ferritin Single-dose (30 µg, 0 d)</tspan></text>
<rect x="54.9" y="822.7" width="19.5" height="9" fill="url(#sR)" stroke="#777" stroke-width="0.8"/>
<text x="78" y="830.4" font-size="9.3" font-weight="bold">G<tspan font-size="6.2" dy="1.8">DIII</tspan><tspan dy="-1.8">-Ferritin Single-dose (60 µg, 0 d)</tspan></text>
<rect x="54.9" y="836.7" width="19.5" height="9" fill="url(#sC)" stroke="#777" stroke-width="0.8"/>
<text x="78" y="844.4" font-size="9.3" font-weight="bold" fill="#000" text-anchor="start" >BRP Single-dose (8.6 mg, 0 d)</text>
<rect x="54.9" y="848.7" width="19.5" height="9" fill="url(#sP)" stroke="#777" stroke-width="0.8"/>
<text x="78" y="856.4" font-size="9.3" font-weight="bold">G<tspan font-size="6.2" dy="1.8">DIII</tspan><tspan dy="-1.8">-Ferritin Two-dose (30 µg/dose, 0 d &amp; 7 d)</tspan></text>
<rect x="54.9" y="861.9" width="19.5" height="9" fill="url(#sB)" stroke="#777" stroke-width="0.8"/>
<text x="78" y="869.6" font-size="9.3" font-weight="bold" fill="#000" text-anchor="start" >BRP Two-dose (8.6 mg/dose, 0 d &amp; 7 d)</text>
<g stroke="#111" stroke-width="1.7" fill="none">
<line x1="454.5" y1="843.2" x2="454.5" y2="932.6"/>
<line x1="454.5" y1="939.2" x2="454.5" y2="962.3"/>
<line x1="453.8" y1="962.3" x2="677" y2="962.3"/>
<line x1="449.1" y1="914.1" x2="454.5" y2="914.1"/>
<line x1="449.1" y1="896.6" x2="454.5" y2="896.6"/>
<line x1="449.1" y1="879.1" x2="454.5" y2="879.1"/>
<line x1="449.1" y1="861.6" x2="454.5" y2="861.6"/>
<line x1="449.1" y1="844.1" x2="454.5" y2="844.1"/>
<line x1="449.1" y1="962.3" x2="454.5" y2="962.3"/>
<line x1="449.1" y1="951.3" x2="454.5" y2="951.3"/>
<line x1="453.9" y1="962.3" x2="453.9" y2="966.9"/>
<line x1="469" y1="962.3" x2="469" y2="966.9"/>
<line x1="484.8" y1="962.3" x2="484.8" y2="966.9"/>
<line x1="500.3" y1="962.3" x2="500.3" y2="966.9"/>
<line x1="516" y1="962.3" x2="516" y2="966.9"/>
<line x1="531.4" y1="962.3" x2="531.4" y2="966.9"/>
<line x1="578" y1="962.3" x2="578" y2="966.9"/>
<line x1="624.6" y1="962.3" x2="624.6" y2="966.9"/>
<line x1="671.2" y1="962.3" x2="671.2" y2="966.9"/>
<line x1="450.9" y1="930.1" x2="456.6" y2="935.3" stroke-width="1.9"/>
<line x1="450.9" y1="936.6" x2="456.6" y2="942.3" stroke-width="1.9"/>
</g>
<text x="447.4" y="918.0" font-size="10.8" font-weight="bold" fill="#000" text-anchor="end" >40</text>
<text x="447.4" y="900.5" font-size="10.8" font-weight="bold" fill="#000" text-anchor="end" >80</text>
<text x="447.4" y="883.0" font-size="10.8" font-weight="bold" fill="#000" text-anchor="end" >120</text>
<text x="447.4" y="865.5" font-size="10.8" font-weight="bold" fill="#000" text-anchor="end" >160</text>
<text x="447.4" y="848.0" font-size="10.8" font-weight="bold" fill="#000" text-anchor="end" >200</text>
<text x="447.4" y="944.3" font-size="10.8" font-weight="bold" fill="#000" text-anchor="end" >1.0</text>
<text x="447.4" y="955.2" font-size="10.8" font-weight="bold" fill="#c00000" text-anchor="end" >0.5</text>
<text x="447.4" y="966.2" font-size="10.8" font-weight="bold" fill="#000" text-anchor="end" >0.0</text>
<text x="453.9" y="978.6" font-size="10.6" font-weight="bold" fill="#000" text-anchor="middle" >0</text>
<text x="469" y="978.6" font-size="10.6" font-weight="bold" fill="#000" text-anchor="middle" >1</text>
<text x="484.8" y="978.6" font-size="10.6" font-weight="bold" fill="#000" text-anchor="middle" >2</text>
<text x="500.3" y="978.6" font-size="10.6" font-weight="bold" fill="#000" text-anchor="middle" >3</text>
<text x="516" y="978.6" font-size="10.6" font-weight="bold" fill="#000" text-anchor="middle" >4</text>
<text x="531.4" y="978.6" font-size="10.6" font-weight="bold" fill="#000" text-anchor="middle" >5</text>
<text x="578" y="978.6" font-size="10.6" font-weight="bold" fill="#000" text-anchor="middle" >13</text>
<text x="624.6" y="978.6" font-size="10.6" font-weight="bold" fill="#000" text-anchor="middle" >25</text>
<text x="671.2" y="978.6" font-size="10.6" font-weight="bold" fill="#000" text-anchor="middle" >37</text>
<line x1="455.5" y1="951.3" x2="680" y2="951.3" stroke="#e03030" stroke-width="0.9" stroke-dasharray="1.3 1.9"/>
<line x1="453.9" y1="983.5" x2="453.9" y2="995.1" stroke="#111" stroke-width="1.8"/>
<polyline points="450.4,989.2 453.9,982.6 457.4,989.2" fill="none" stroke="#111" stroke-width="1.7" stroke-linejoin="miter"/>
<line x1="469" y1="983.5" x2="469" y2="995.1" stroke="#111" stroke-width="1.8"/>
<polyline points="465.5,989.2 469,982.6 472.5,989.2" fill="none" stroke="#111" stroke-width="1.7" stroke-linejoin="miter"/>
<text x="566.8" y="999" font-size="13.2" font-weight="bold" fill="#000" text-anchor="middle" >Weeks</text>
<text transform="translate(407.4 901.4) rotate(-90)" font-size="13.7" font-weight="bold" text-anchor="middle">Neutralizing antibody</text>
<text transform="translate(422.4 899.8) rotate(-90)" font-size="13" font-weight="bold" text-anchor="middle">titer (IU/ml)</text>
<text x="614.8" y="842.2" font-size="11.3" font-weight="bold" text-anchor="middle">G<tspan font-size="7.5" dy="2">DIII</tspan><tspan dy="-2">-Ferritin Two-dose</tspan></text>
<text x="614.2" y="857.7" font-size="11.3" font-weight="bold" fill="#000" text-anchor="middle" >(30 µg/dose, 0 d &amp; 7 d)</text>
<polyline points="469,962.3 477.8,940.4" fill="none" stroke="#22c022" stroke-width="1.5"/>
<polyline points="479.6,931.5 482.6,924.5" fill="none" stroke="#22c022" stroke-width="1.5"/>
<polyline points="482.6,924.5 484.8,919.3 500.3,917.8 516,893.8 578,919.5 624.6,923.7 671.2,928.4" fill="none" stroke="#22c022" stroke-width="1.5"/>
<circle cx="469" cy="962.3" r="1.75" fill="#22c022"/>
<circle cx="484.8" cy="914.1" r="1.75" fill="#22c022"/>
<circle cx="484.8" cy="919.1" r="1.75" fill="#22c022"/>
<circle cx="484.8" cy="927.3" r="1.75" fill="#22c022"/>
<circle cx="500.3" cy="914.1" r="1.75" fill="#22c022"/>
<circle cx="500.3" cy="918.6" r="1.75" fill="#22c022"/>
<circle cx="500.3" cy="926" r="1.75" fill="#22c022"/>
<circle cx="516" cy="862" r="1.75" fill="#22c022"/>
<circle cx="516" cy="878.9" r="1.75" fill="#22c022"/>
<circle cx="516" cy="891.8" r="1.75" fill="#22c022"/>
<circle cx="516" cy="918.6" r="1.75" fill="#22c022"/>
<circle cx="531.4" cy="862" r="1.75" fill="#22c022"/>
<circle cx="531.4" cy="901.2" r="1.75" fill="#22c022"/>
<circle cx="531.4" cy="908.4" r="1.75" fill="#22c022"/>
<circle cx="531.4" cy="914.1" r="1.75" fill="#22c022"/>
<circle cx="578" cy="913.8" r="1.75" fill="#22c022"/>
<circle cx="578" cy="921.2" r="1.75" fill="#22c022"/>
<circle cx="578" cy="923.7" r="1.75" fill="#22c022"/>
<circle cx="624.6" cy="918" r="1.75" fill="#22c022"/>
<circle cx="624.6" cy="921.2" r="1.75" fill="#22c022"/>
<circle cx="624.6" cy="923.7" r="1.75" fill="#22c022"/>
<circle cx="624.6" cy="926.3" r="1.75" fill="#22c022"/>
<circle cx="671.2" cy="925.4" r="1.75" fill="#22c022"/>
<circle cx="671.2" cy="928" r="1.75" fill="#22c022"/>
<circle cx="671.2" cy="930.5" r="1.75" fill="#22c022"/>
</svg></body></html>
